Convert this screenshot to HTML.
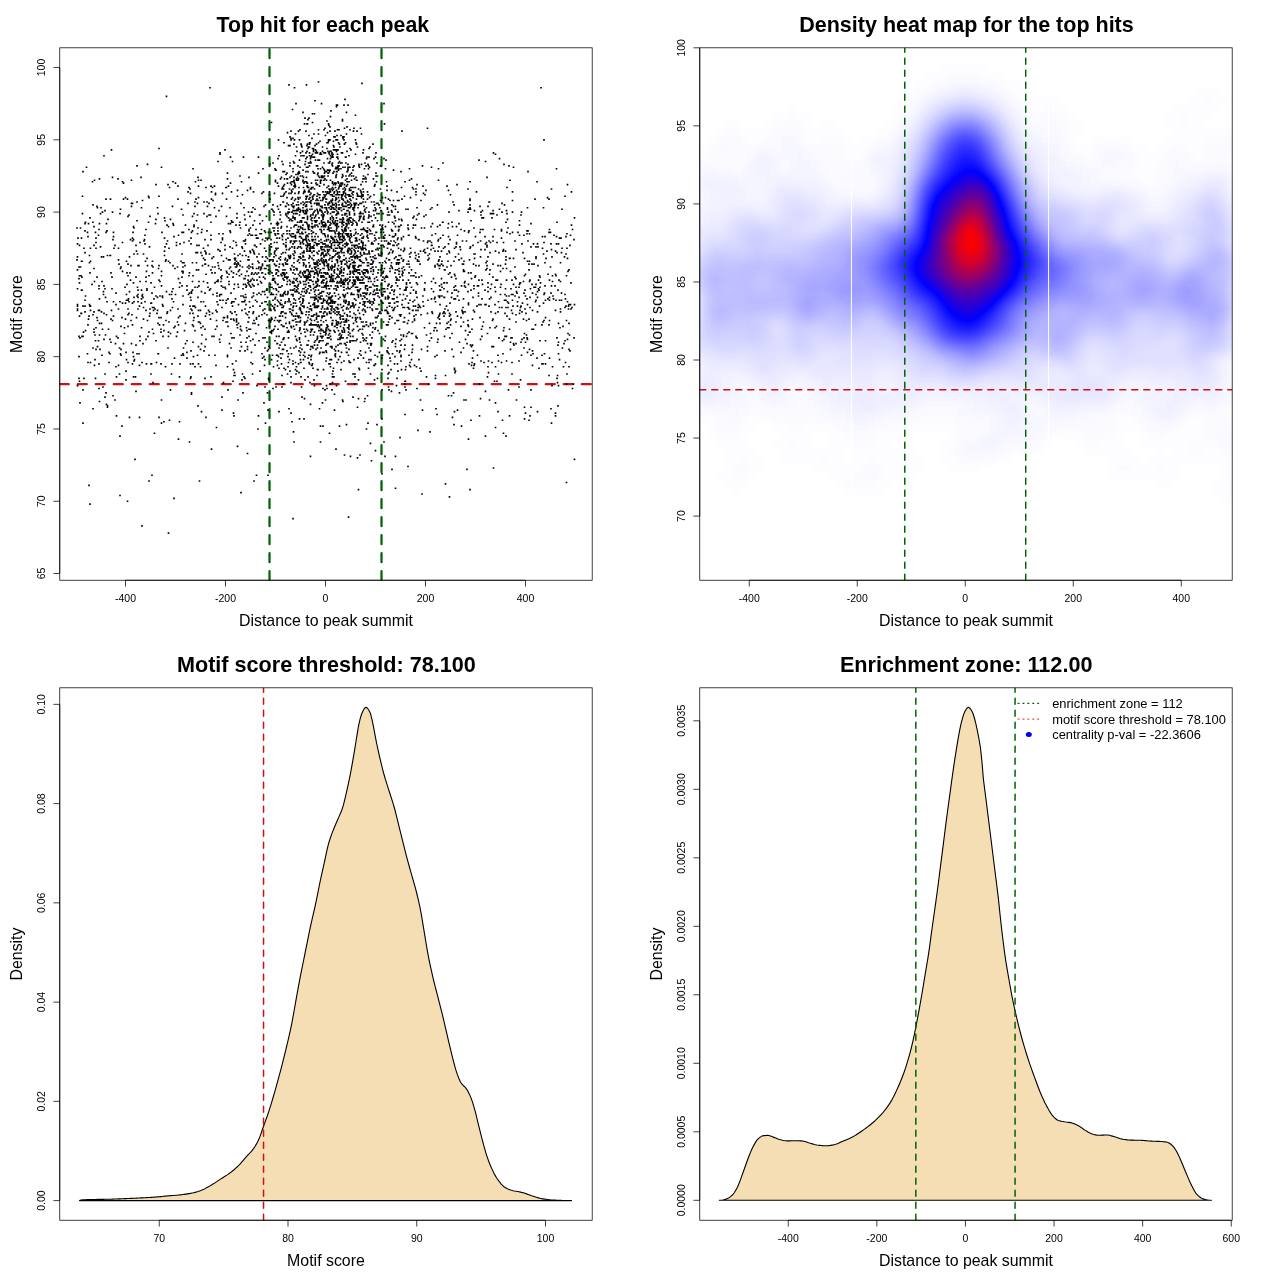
<!DOCTYPE html>
<html lang="en"><head><meta charset="utf-8"><title>Motif enrichment plots</title>
<style>html,body{margin:0;padding:0;background:#fff}svg{display:block}text{font-family:'Liberation Sans', Arial, Helvetica, sans-serif;fill:#000;opacity:.999}</style></head><body>
<svg width="1280" height="1280" viewBox="0 0 1280 1280">
<rect width="1280" height="1280" fill="#fff"/>
<defs>
<clipPath id="c1"><rect x="59.76" y="47.81" width="532.43" height="532.43"/></clipPath>
<clipPath id="c2"><rect x="699.76" y="47.81" width="532.43" height="532.43"/></clipPath>
<clipPath id="c3"><rect x="59.76" y="687.81" width="532.43" height="532.43"/></clipPath>
<clipPath id="c4"><rect x="699.76" y="687.81" width="532.43" height="532.43"/></clipPath>
<filter id="hm" x="-5%" y="-5%" width="110%" height="110%" color-interpolation-filters="sRGB"><feGaussianBlur stdDeviation="3.8"/><feComponentTransfer><feFuncR type="table" tableValues="1 0 1"/><feFuncG type="table" tableValues="1 0 0"/><feFuncB type="table" tableValues="1 1 0"/><feFuncA type="linear" slope="0" intercept="1"/></feComponentTransfer></filter>
</defs>
<g id="panel1">
<text x="322.8" y="31.8" text-anchor="middle" font-weight="bold" font-size="21.3">Top hit for each peak</text>
<text x="325.98" y="626" text-anchor="middle" font-size="15.9">Distance to peak summit</text>
<text transform="translate(21.7 314.02) rotate(-90)" text-anchor="middle" font-size="15.9">Motif score</text>
<g clip-path="url(#c1)">
<path d="M269.5 580.24V47.81" stroke="#006400" stroke-width="2.25" stroke-dasharray="9 9" stroke-linecap="round" fill="none"/>
<path d="M381.5 580.24V47.81" stroke="#006400" stroke-width="2.25" stroke-dasharray="9 9" stroke-linecap="round" fill="none"/>
<path d="M59.76 384.14H592.19" stroke="#cb1212" stroke-width="2.25" stroke-dasharray="9 9" stroke-linecap="round" fill="none"/>
<path d="M264.5 248.24h0M299 187.52h0M377.5 220.77h0M449.5 316.19h0M191 300.29h0M361.5 196.2h0M135 459.31h0M493 210.65h0M183 214.99h0M327.5 272.82h0M325 300.29h0M271 304.62h0M128 308.96h0M239.5 275.71h0M261 267.04h0M271 259.81h0M314.5 113.79h0M315.5 216.44h0M404.5 249.69h0M327.5 132.59h0M308 317.64h0M299.5 330.65h0M369 251.13h0M84 378.36h0M405 387.03h0M275.5 265.59h0M293 272.82h0M326.5 180.29h0M356 248.24h0M249 265.59h0M315 268.48h0M111.5 310.41h0M366.5 428.96h0M429.5 323.42h0M306 236.68h0M193.5 320.53h0M400 288.72h0M256.5 475.22h0M322.5 207.76h0M287.5 332.09h0M404.5 307.52h0M303.5 193.31h0M372.5 267.04h0M328 203.43h0M456 246.8h0M474 228h0M300.5 352.33h0M486 262.7h0M332.5 267.04h0M307.5 196.2h0M406 290.17h0M206 252.58h0M313 368.24h0M477.5 285.83h0M142 295.95h0M329.5 333.54h0M273 210.65h0M535.5 287.28h0M307.5 144.15h0M259 254.03h0M425 252.58h0M362.5 246.8h0M313.5 239.57h0M350 333.54h0M358 277.16h0M505 313.3h0M343 282.94h0M427.5 350.89h0M329 152.83h0M298.5 317.64h0M381.5 241.01h0M220 300.29h0M404.5 196.2h0M346.5 242.46h0M465.5 339.32h0M241 203.43h0M343 167.28h0M423 186.08h0M513.5 258.36h0M348.5 334.98h0M436.5 323.42h0M346 175.96h0M205 259.81h0M468.5 326.31h0M269.5 191.86h0M236.5 245.35h0M510 258.36h0M343.5 287.28h0M331 281.49h0M495.5 313.3h0M283 384.14h0M314.5 194.75h0M324 272.82h0M346.5 261.25h0M530 297.4h0M296.5 225.11h0M238 400.04h0M197.5 287.28h0M267.5 392.81h0M98.5 340.77h0M306 152.83h0M184 242.46h0M306.5 278.6h0M238.5 264.15h0M342 196.2h0M376 293.06h0M271 254.03h0M295.5 238.12h0M187 290.17h0M359.5 265.59h0M297.5 222.22h0M307.5 183.19h0M362 333.54h0M328 173.07h0M371.5 460.76h0M330 225.11h0M288 212.1h0M499 337.88h0M306.5 280.05h0M521.5 212.1h0M292 421.73h0M341 248.24h0M322.5 216.44h0M147.5 265.59h0M366.5 230.89h0M106.5 314.74h0M412.5 321.97h0M112 288.72h0M364.5 326.31h0M532.5 293.06h0M509 165.84h0M303.5 256.92h0M259 293.06h0M293.5 306.07h0M332.5 162.95h0M193 275.71h0M310 142.71h0M292 265.59h0M438.5 265.59h0M206 187.52h0M168.5 226.56h0M242.5 255.47h0M265 278.6h0M363 194.75h0M345.5 281.49h0M281.5 177.4h0M156.5 362.45h0M341 278.6h0M368.5 265.59h0M290 162.95h0M331.5 310.41h0M327.5 213.55h0M313.5 239.57h0M339 232.34h0M365 248.24h0M315.5 149.93h0M283 294.5h0M207.5 282.94h0M326 320.53h0M354 374.02h0M97 317.64h0M94.5 180.29h0M291.5 204.87h0M371 345.1h0M369 252.58h0M354 271.37h0M364 254.03h0M290.5 242.46h0M536 300.29h0M333 157.16h0M284 272.82h0M335.5 248.24h0M312.5 246.8h0M316.5 324.86h0M330.5 366.79h0M343 281.49h0M211 222.22h0M512.5 212.1h0M303 229.45h0M472.5 345.1h0M320.5 181.74h0M388 214.99h0M348.5 194.75h0M205.5 264.15h0M198.5 180.29h0M332.5 376.91h0M243 392.81h0M319.5 408.72h0M393 310.41h0M242 310.41h0M101.5 323.42h0M357.5 258.36h0M566.5 384.14h0M274.5 254.03h0M306.5 329.2h0M336.5 239.57h0M357.5 407.27h0M321 298.84h0M303 170.17h0M354 262.7h0M314 212.1h0M221 242.46h0M333.5 251.13h0M353.5 323.42h0M324 256.92h0M310 382.69h0M369 214.99h0M230.5 157.16h0M363 201.98h0M355 374.02h0M116 293.06h0M313 297.4h0M401 345.1h0M310 248.24h0M260 214.99h0M454 298.84h0M332.5 199.09h0M197.5 214.99h0M299.5 339.32h0M330 222.22h0M361.5 193.31h0M346.5 321.97h0M310 256.92h0M384 246.8h0M309 251.13h0M370.5 350.89h0M330 242.46h0M562 248.24h0M317 209.21h0M204 213.55h0M343.5 295.95h0M289.5 230.89h0M324.5 197.64h0M293 188.97h0M342 330.65h0M480.5 398.6h0M283.5 243.91h0M285.5 317.64h0M294 258.36h0M338 167.28h0M519 287.28h0M393.5 310.41h0M295 274.27h0M96 242.46h0M529.5 349.44h0M182 285.83h0M284 337.88h0M351 242.46h0M332 207.76h0M357.5 287.28h0M137.5 287.28h0M380 262.7h0M300.5 317.64h0M98.5 310.41h0M506.5 295.95h0M314.5 274.27h0M311 356.67h0M326 225.11h0M536 256.92h0M128 300.29h0M187 358.12h0M531 223.67h0M396 339.32h0M234 337.88h0M364.5 339.32h0M288 356.67h0M333.5 184.63h0M90.5 306.07h0M504.5 300.29h0M432 207.76h0M342 249.69h0M549 324.86h0M182 277.16h0M231.5 191.86h0M324 287.28h0M370 233.79h0M445 350.89h0M501.5 230.89h0M471 220.77h0M353 209.21h0M205 239.57h0M511 288.72h0M311.5 365.34h0M353 265.59h0M260 223.67h0M340.5 323.42h0M347 307.52h0M314 262.7h0M395.5 226.56h0M226.5 187.52h0M356 340.77h0M327 324.86h0M324 214.99h0M328 245.35h0M207 230.89h0M336.5 106.56h0M329 170.17h0M354.5 204.87h0M108 219.33h0M381.5 284.38h0M199 245.35h0M332 324.86h0M322 223.67h0M276.5 223.67h0M249 230.89h0M222 275.71h0M407 287.28h0M324 280.05h0M508.5 389.92h0M504.5 204.87h0M152.5 261.25h0M464.5 285.83h0M354 261.25h0M274 230.89h0M253.5 285.83h0M333.5 207.76h0M287.5 178.85h0M455.5 285.83h0M176.5 336.43h0M336.5 223.67h0M328.5 123.91h0M153.5 333.54h0M567 233.79h0M344 209.21h0M325 178.85h0M187 340.77h0M320 352.33h0M314 134.03h0M367.5 343.66h0M269.5 326.31h0M333 256.92h0M281.5 275.71h0M253 225.11h0M332.5 323.42h0M349 181.74h0M360 317.64h0M388.5 222.22h0M394.5 363.9h0M146.5 271.37h0M228 389.92h0M463.5 298.84h0M362.5 298.84h0M480 232.34h0M251.5 274.27h0M295.5 369.68h0M355.5 115.24h0M291.5 190.41h0M303 180.29h0M491 311.85h0M355 284.38h0M209.5 314.74h0M321 340.77h0M382 389.92h0M177.5 267.04h0M140 340.77h0M217 326.31h0M178 199.09h0M239.5 269.93h0M311 324.86h0M337.5 241.01h0M337.5 307.52h0M324 264.15h0M440 304.62h0M306 265.59h0M342.5 248.24h0M316 262.7h0M406.5 284.38h0M226.5 216.44h0M357.5 196.2h0M363 326.31h0M431.5 337.88h0M470.5 345.1h0M344.5 144.15h0M320.5 168.73h0M355.5 314.74h0M328 151.38h0M271.5 319.08h0M309.5 267.04h0M324 268.48h0M376.5 181.74h0M557.5 382.69h0M157.5 297.4h0M295 252.58h0M252.5 363.9h0M327 313.3h0M262 272.82h0M317.5 193.31h0M347 223.67h0M298.5 207.76h0M349 223.67h0M309 233.79h0M502 203.43h0M574 239.57h0M198 228h0M289 300.29h0M360 329.2h0M88.5 223.67h0M300 329.2h0M287 178.85h0M474 254.03h0M457.5 295.95h0M337 171.62h0M314.5 332.09h0M262.5 265.59h0M304.5 352.33h0M321.5 154.27h0M340 256.92h0M237 213.55h0M372 304.62h0M374 214.99h0M360.5 235.23h0M314 245.35h0M504 164.39h0M516 278.6h0M552.5 281.49h0M308 236.68h0M305.5 206.32h0M343 294.5h0M334.5 241.01h0M316.5 319.08h0M118.5 259.81h0M392.5 222.22h0M474 365.34h0M99 229.45h0M299.5 418.84h0M310.5 158.61h0M341 272.82h0M290.5 281.49h0M107 230.89h0M205 264.15h0M321 229.45h0M309 355.22h0M267.5 258.36h0M366.5 259.81h0M258.5 173.07h0M291 382.69h0M524.5 275.71h0M433.5 248.24h0M487 261.25h0M95 359.56h0M336 254.03h0M313 316.19h0M296 321.97h0M416 194.75h0M366.5 321.97h0M206 274.27h0M239.5 225.11h0M300 233.79h0M269.5 259.81h0M345 213.55h0M283.5 272.82h0M350.5 249.69h0M336.5 210.65h0M340 239.57h0M255 245.35h0M571 282.94h0M371.5 259.81h0M441.5 284.38h0M298.5 226.56h0M161.5 285.83h0M302.5 272.82h0M401 225.11h0M212.5 267.04h0M536 294.5h0M408 209.21h0M221.5 285.83h0M131.5 203.43h0M295 217.88h0M306 275.71h0M106 232.34h0M417 388.48h0M234.5 284.38h0M123.5 199.09h0M107.5 255.47h0M360 259.81h0M478 242.46h0M333.5 239.57h0M325.5 255.47h0M341 280.05h0M304.5 324.86h0M203.5 301.73h0M232 301.73h0M357 278.6h0M541 87.77h0M384.5 291.61h0M308 275.71h0M125 287.28h0M276 255.47h0M368.5 165.84h0M304.5 190.41h0M365.5 287.28h0M367.5 307.52h0M292 191.86h0M219 268.48h0M331.5 238.12h0M401 361.01h0M306.5 197.64h0M394 298.84h0M256.5 268.48h0M376 321.97h0M333 280.05h0M230 207.76h0M97.5 207.76h0M182 271.37h0M348.5 222.22h0M326 274.27h0M271.5 287.28h0M317 261.25h0M270 320.53h0M267.5 297.4h0M275 233.79h0M137 220.77h0M285.5 369.68h0M355.5 229.45h0M307.5 210.65h0M245.5 275.71h0M410.5 366.79h0M268 238.12h0M444 311.85h0M307 245.35h0M351.5 287.28h0M345 246.8h0M328 308.96h0M304 271.37h0M274.5 264.15h0M427.5 248.24h0M332.5 320.53h0M375.5 157.16h0M360 303.18h0M459 300.29h0M274 308.96h0M375.5 363.9h0M408.5 280.05h0M292.5 220.77h0M340.5 233.79h0M297 321.97h0M527 337.88h0M444 297.4h0M356 222.22h0M334.5 269.93h0M303.5 177.4h0M456.5 243.91h0M361.5 249.69h0M344 222.22h0M236 225.11h0M363 293.06h0M300.5 308.96h0M304.5 277.16h0M356.5 269.93h0M482 336.43h0M385.5 277.16h0M470.5 246.8h0M372 337.88h0M214 336.43h0M375.5 327.76h0M481 304.62h0M346 157.16h0M516.5 400.04h0M312.5 324.86h0M250.5 329.2h0M238.5 271.37h0M471 420.28h0M328 274.27h0M437 330.65h0M139.5 306.07h0M310.5 216.44h0M321.5 324.86h0M286.5 249.69h0M94.5 281.49h0M272.5 280.05h0M293.5 210.65h0M323 330.65h0M322 177.4h0M310.5 188.97h0M312.5 241.01h0M549 375.46h0M372 242.46h0M304 252.58h0M301.5 220.77h0M223.5 317.64h0M293.5 161.5h0M339.5 191.86h0M185.5 343.66h0M138 297.4h0M170.5 389.92h0M339 207.76h0M405 181.74h0M330 131.14h0M355 251.13h0M189 241.01h0M345 239.57h0M77.5 256.92h0M346 162.95h0M266 251.13h0M360.5 294.5h0M131 265.59h0M279 411.61h0M332 230.89h0M338.5 236.68h0M350 280.05h0M306 201.98h0M408 225.11h0M400 294.5h0M174.5 358.12h0M567.5 339.32h0M327 324.86h0M346 300.29h0M310.5 275.71h0M349 175.96h0M270.5 304.62h0M335.5 187.52h0M419 239.57h0M349 201.98h0M361 282.94h0M254 481h0M330.5 217.88h0M387.5 311.85h0M105.5 334.98h0M323.5 214.99h0M344 238.12h0M529 319.08h0M403 307.52h0M330 170.17h0M499.5 307.52h0M350.5 235.23h0M317 339.32h0M468 212.1h0M467 343.66h0M303.5 265.59h0M276 387.03h0M419 261.25h0M316.5 203.43h0M276.5 355.22h0M365 306.07h0M281.5 222.22h0M275 251.13h0M385.5 298.84h0M349.5 248.24h0M236.5 274.27h0M323 199.09h0M234 301.73h0M278.5 223.67h0M321 246.8h0M363.5 228h0M411.5 287.28h0M344.5 230.89h0M251 235.23h0M461.5 285.83h0M365 398.6h0M311.5 155.72h0M230.5 232.34h0M397 320.53h0M320 229.45h0M282 304.62h0M353 272.82h0M470 200.53h0M321 275.71h0M330.5 303.18h0M410 300.29h0M559.5 359.56h0M89 316.19h0M277.5 306.07h0M343.5 327.76h0M563.5 366.79h0M282.5 272.82h0M271.5 317.64h0M331 228h0M198 177.4h0M330.5 306.07h0M274 256.92h0M314.5 267.04h0M289.5 359.56h0M319.5 340.77h0M304.5 191.86h0M226.5 271.37h0M297 213.55h0M281.5 363.9h0M367 254.03h0M149 197.64h0M319.5 197.64h0M385 456.42h0M498 265.59h0M377 288.72h0M331 223.67h0M390.5 361.01h0M315.5 307.52h0M334 212.1h0M358.5 272.82h0M566.5 275.71h0M363 152.83h0M358.5 297.4h0M405.5 381.25h0M313.5 284.38h0M161 332.09h0M335.5 356.67h0M376 258.36h0M305.5 161.5h0M89.5 255.47h0M383 245.35h0M217 295.95h0M213.5 256.92h0M317 225.11h0M209.5 254.03h0M521 214.99h0M454 261.25h0M383.5 321.97h0M309.5 255.47h0M404.5 269.93h0M304 329.2h0M329.5 249.69h0M296.5 210.65h0M341.5 337.88h0M297.5 261.25h0M383 229.45h0M355 282.94h0M194.5 306.07h0M208 287.28h0M560.5 262.7h0M350 238.12h0M398 259.81h0M311 346.55h0M317.5 210.65h0M323.5 177.4h0M569 349.44h0M293 310.41h0M373 327.76h0M383.5 203.43h0M336 183.19h0M205 378.36h0M273.5 294.5h0M440 323.42h0M358 272.82h0M354.5 178.85h0M366.5 362.45h0M287 327.76h0M316 269.93h0M252.5 264.15h0M323.5 226.56h0M306 277.16h0M403.5 336.43h0M458.5 291.61h0M320 141.26h0M277.5 225.11h0M344.5 343.66h0M379 213.55h0M329 298.84h0M349 219.33h0M323 426.06h0M306 196.2h0M378 330.65h0M276 274.27h0M338.5 242.46h0M334 267.04h0M278 329.2h0M305.5 336.43h0M132.5 303.18h0M299 372.57h0M340 317.64h0M338 339.32h0M252 272.82h0M267 290.17h0M399 255.47h0M340.5 304.62h0M273 388.48h0M169.5 294.5h0M382.5 225.11h0M245 308.96h0M406.5 282.94h0M373.5 225.11h0M140 281.49h0M367.5 191.86h0M351.5 180.29h0M320 298.84h0M240.5 228h0M418 310.41h0M320.5 336.43h0M310 277.16h0M342 252.58h0M306 171.62h0M370 334.98h0M510 233.79h0M278.5 271.37h0M480.5 339.32h0M363.5 149.93h0M383.5 236.68h0M283 339.32h0M317.5 184.63h0M317.5 348h0M379.5 352.33h0M221.5 294.5h0M276 170.17h0M382 389.92h0M357 180.29h0M348.5 251.13h0M330 363.9h0M401.5 258.36h0M339.5 274.27h0M301 258.36h0M301 228h0M349.5 239.57h0M384 103.67h0M372.5 332.09h0M338 212.1h0M334 281.49h0M507.5 219.33h0M426 190.41h0M347 126.8h0M342 307.52h0M539.5 275.71h0M368.5 168.73h0M137 165.84h0M251 287.28h0M393.5 170.17h0M540.5 282.94h0M310.5 287.28h0M106.5 223.67h0M409 272.82h0M323.5 275.71h0M376.5 285.83h0M441.5 278.6h0M330.5 336.43h0M195 366.79h0M347 225.11h0M312 258.36h0M386.5 241.01h0M426 214.99h0M339.5 314.74h0M167 313.3h0M238.5 304.62h0M346 300.29h0M342 223.67h0M296.5 287.28h0M162.5 295.95h0M331 246.8h0M468 324.86h0M269 346.55h0M545 236.68h0M571.5 225.11h0M349 301.73h0M327 246.8h0M323 388.48h0M396 282.94h0M410 256.92h0M448 310.41h0M262.5 291.61h0M313.5 251.13h0M254.5 254.03h0M270 332.09h0M277.5 233.79h0M537 358.12h0M322.5 151.38h0M311.5 320.53h0M462 310.41h0M147.5 320.53h0M427.5 128.25h0M295.5 303.18h0M449.5 252.58h0M337.5 129.7h0M348 164.39h0M126 379.8h0M440 265.59h0M323 252.58h0M350.5 235.23h0M366.5 294.5h0M364 295.95h0M392 469.43h0M282 387.03h0M417.5 261.25h0M354 359.56h0M314.5 320.53h0M301 294.5h0M410 362.45h0M453.5 392.81h0M318.5 175.96h0M221 277.16h0M408.5 320.53h0M323 233.79h0M120 436.18h0M365.5 311.85h0M314.5 157.16h0M313 187.52h0M325 246.8h0M461 352.33h0M314 297.4h0M113 395.7h0M545.5 317.64h0M342.5 400.04h0M385 340.77h0M242 246.8h0M412.5 349.44h0M335 332.09h0M341 186.08h0M353 294.5h0M293 294.5h0M531 355.22h0M424 216.44h0M312 239.57h0M337.5 261.25h0M307 249.69h0M404.5 349.44h0M409.5 308.96h0M326.5 255.47h0M338.5 162.95h0M300.5 210.65h0M115 245.35h0M354 265.59h0M529 420.28h0M345 190.41h0M312.5 363.9h0M296.5 339.32h0M325.5 236.68h0M325 212.1h0M323 217.88h0M475.5 275.71h0M284 326.31h0M301.5 387.03h0M303 201.98h0M333.5 145.6h0M339 311.85h0M292.5 197.64h0M344 282.94h0M338.5 298.84h0M279 267.04h0M294 441.97h0M475 277.16h0M543 321.97h0M527 233.79h0M79 267.04h0M361.5 197.64h0M250.5 187.52h0M275.5 297.4h0M328.5 304.62h0M327.5 170.17h0M236.5 267.04h0M400 350.89h0M135.5 376.91h0M318.5 129.7h0M552 256.92h0M290 371.13h0M435 267.04h0M242.5 267.04h0M233 277.16h0M308.5 162.95h0M305 164.39h0M323 340.77h0M412.5 333.54h0M229 281.49h0M264 206.32h0M114 248.24h0M299.5 229.45h0M352.5 256.92h0M343.5 319.08h0M315 210.65h0M551.5 423.17h0M255.5 235.23h0M199.5 321.97h0M403 272.82h0M302 147.04h0M367.5 262.7h0M317.5 369.68h0M317.5 278.6h0M314.5 242.46h0M285.5 369.68h0M386.5 310.41h0M525.5 413.05h0M398 262.7h0M254 285.83h0M215 267.04h0M335.5 301.73h0M522 243.91h0M347.5 327.76h0M340 184.63h0M243.5 157.16h0M120.5 268.48h0M272 272.82h0M399 200.53h0M389 303.18h0M100.5 213.55h0M314.5 303.18h0M518 232.34h0M319 294.5h0M344 252.58h0M240 175.96h0M260 371.13h0M349.5 213.55h0M82 261.25h0M488 287.28h0M322 291.61h0M295.5 362.45h0M334 308.96h0M516 249.69h0M100 349.44h0M330.5 241.01h0M104 155.72h0M327 142.71h0M309 190.41h0M337.5 213.55h0M317.5 326.31h0M336.5 151.38h0M321 320.53h0M369.5 197.64h0M353 194.75h0M391 249.69h0M451 265.59h0M166 320.53h0M367.5 265.59h0M450 303.18h0M363.5 340.77h0M206 339.32h0M354.5 214.99h0M112.5 177.4h0M505 336.43h0M346.5 424.62h0M274 307.52h0M317.5 337.88h0M255 323.42h0M321 255.47h0M382.5 280.05h0M326 278.6h0M492.5 320.53h0M456.5 242.46h0M373.5 303.18h0M261.5 282.94h0M127 272.82h0M168 184.63h0M465 311.85h0M376.5 232.34h0M289 298.84h0M333.5 188.97h0M354 284.38h0M279 267.04h0M337.5 194.75h0M462.5 241.01h0M204 350.89h0M511 337.88h0M350 129.7h0M191.5 394.26h0M255.5 300.29h0M327.5 158.61h0M502.5 420.28h0M338.5 330.65h0M159 317.64h0M498 355.22h0M468.5 272.82h0M323 254.03h0M320 297.4h0M427.5 346.55h0M300 212.1h0M293.5 213.55h0M234.5 258.36h0M163 336.43h0M90.5 261.25h0M363 248.24h0M308 278.6h0M356.5 199.09h0M249 284.38h0M409.5 267.04h0M143 343.66h0M290 258.36h0M323 222.22h0M327.5 229.45h0M299.5 308.96h0M330 126.8h0M512.5 232.34h0M479 280.05h0M529.5 281.49h0M311 219.33h0M121 326.31h0M445 246.8h0M383.5 232.34h0M310 265.59h0M351 196.2h0M340 272.82h0M255.5 272.82h0M151.5 303.18h0M280.5 178.85h0M252 297.4h0M367 236.68h0M297.5 281.49h0M299 171.62h0M380.5 165.84h0M106 392.81h0M309 118.13h0M415 252.58h0M519 361.01h0M318 268.48h0M557.5 375.46h0M373 261.25h0M366.5 324.86h0M346.5 288.72h0M369.5 300.29h0M337.5 252.58h0M271.5 209.21h0M334 171.62h0M407 295.95h0M509.5 258.36h0M344.5 454.98h0M195 287.28h0M313 157.16h0M193 342.21h0M547.5 197.64h0M323 243.91h0M285.5 301.73h0M280 219.33h0M364.5 303.18h0M343 188.97h0M435 356.67h0M220 342.21h0M194 225.11h0M342 275.71h0M569.5 334.98h0M202.5 265.59h0M367.5 301.73h0M385 261.25h0M281.5 226.56h0M311 200.53h0M279 368.24h0M321.5 254.03h0M330 139.81h0M360 274.27h0M443 222.22h0M532.5 350.89h0M360 196.2h0M294 255.47h0M237.5 190.41h0M333 217.88h0M382.5 197.64h0M359.5 369.68h0M313 232.34h0M337.5 321.97h0M336 307.52h0M283 295.95h0M300.5 254.03h0M331.5 248.24h0M368 174.51h0M320.5 426.06h0M569 323.42h0M471 290.17h0M320 210.65h0M408.5 261.25h0M515 267.04h0M333.5 223.67h0M371.5 243.91h0M390 303.18h0M158.5 353.78h0M489.5 274.27h0M298.5 193.31h0M201 252.58h0M455 372.57h0M353 277.16h0M337.5 285.83h0M303 255.47h0M416 255.47h0M310 162.95h0M544 294.5h0M260.5 281.49h0M403.5 251.13h0M344 191.86h0M249.5 233.79h0M395 272.82h0M388.5 212.1h0M277.5 269.93h0M330.5 155.72h0M402 304.62h0M565 340.77h0M329 207.76h0M381.5 301.73h0M332.5 203.43h0M310.5 251.13h0M354 267.04h0M139 353.78h0M319 217.88h0M132.5 363.9h0M312.5 154.27h0M332 194.75h0M323.5 300.29h0M146 339.32h0M327.5 191.86h0M368 271.37h0M319.5 340.77h0M344 268.48h0M522 311.85h0M249 281.49h0M536 246.8h0M537 181.74h0M349.5 214.99h0M326 330.65h0M319.5 271.37h0M486 269.93h0M298.5 131.14h0M110 353.78h0M403.5 267.04h0M347 181.74h0M248 282.94h0M571 308.96h0M326 259.81h0M365 297.4h0M322.5 175.96h0M311.5 355.22h0M143.5 319.08h0M181.5 355.22h0M435.5 233.79h0M249.5 301.73h0M507 187.52h0M314.5 188.97h0M329.5 171.62h0M264.5 308.96h0M168.5 533.05h0M474 285.83h0M295.5 155.72h0M148.5 222.22h0M359 368.24h0M354 235.23h0M324 180.29h0M325.5 152.83h0M321.5 232.34h0M336.5 199.09h0M328 204.87h0M318.5 290.17h0M310.5 349.44h0M527 230.89h0M524 337.88h0M328.5 285.83h0M303 112.35h0M439 259.81h0M500.5 265.59h0M366 165.84h0M570.5 304.62h0M318.5 81.99h0M173 181.74h0M210.5 288.72h0M345 295.95h0M429.5 340.77h0M201 180.29h0M388 324.86h0M468.5 439.07h0M330 190.41h0M197.5 252.58h0M384.5 241.01h0M363.5 229.45h0M242 379.8h0M322.5 352.33h0M371.5 268.48h0M287.5 374.02h0M252.5 267.04h0M273.5 228h0M122.5 242.46h0M270 249.69h0M291 376.91h0M329.5 313.3h0M307.5 187.52h0M156 340.77h0M218 262.7h0M242.5 374.02h0M329.5 170.17h0M300 327.76h0M312.5 281.49h0M332 261.25h0M376 232.34h0M401 171.62h0M274.5 228h0M201.5 291.61h0M311 359.56h0M302 233.79h0M351 149.93h0M555.5 415.94h0M348 220.77h0M193.5 326.31h0M363.5 274.27h0M119 264.15h0M503 251.13h0M306 131.14h0M368 238.12h0M317.5 284.38h0M302 232.34h0M305 272.82h0M385 281.49h0M294.5 288.72h0M175 268.48h0M348 304.62h0M283 311.85h0M231 333.54h0M356 277.16h0M257 301.73h0M343.5 206.32h0M342.5 203.43h0M364.5 293.06h0M329.5 249.69h0M328.5 186.08h0M336.5 290.17h0M303 259.81h0M79.5 275.71h0M260.5 243.91h0M374 158.61h0M279 336.43h0M320 154.27h0M144 241.01h0M414 216.44h0M310.5 246.8h0M237.5 196.2h0M322 295.95h0M316 233.79h0M293 307.52h0M348.5 267.04h0M78 238.12h0M254 320.53h0M227.5 366.79h0M250 216.44h0M492 213.55h0M132.5 241.01h0M444.5 297.4h0M236 242.46h0M183.5 355.22h0M352 242.46h0M355.5 256.92h0M289 249.69h0M299.5 275.71h0M444 316.19h0M367.5 230.89h0M212 272.82h0M321.5 226.56h0M234 288.72h0M280.5 353.78h0M165.5 261.25h0M460.5 249.69h0M364 178.85h0M512.5 191.86h0M341 369.68h0M292.5 220.77h0M525 308.96h0M556.5 236.68h0M540 287.28h0M519 297.4h0M338 269.93h0M407 264.15h0M348.5 236.68h0M360 246.8h0M342.5 239.57h0M326 285.83h0M328.5 239.57h0M452 293.06h0M250 251.13h0M354 274.27h0M267.5 258.36h0M437 414.5h0M349 268.48h0M149.5 316.19h0M367 285.83h0M498.5 361.01h0M537.5 243.91h0M311.5 188.97h0M82 290.17h0M524 348h0M348 249.69h0M502.5 340.77h0M387 190.41h0M521 342.21h0M456.5 290.17h0M261.5 268.48h0M516 343.66h0M330 297.4h0M423.5 306.07h0M183.5 232.34h0M343 136.92h0M77.5 288.72h0M207 216.44h0M350.5 336.43h0M164.5 255.47h0M433.5 278.6h0M334.5 303.18h0M120.5 209.21h0M338.5 226.56h0M299.5 337.88h0M173.5 301.73h0M347.5 210.65h0M329 125.36h0M347.5 251.13h0M317 196.2h0M544 139.81h0M367.5 228h0M331.5 245.35h0M279.5 316.19h0M474 288.72h0M84 248.24h0M302.5 175.96h0M295.5 300.29h0M388.5 284.38h0M558 405.82h0M475.5 236.68h0M81 275.71h0M280.5 214.99h0M150 313.3h0M300.5 242.46h0M515 241.01h0M227 272.82h0M253 323.42h0M352.5 282.94h0M315 226.56h0M289.5 323.42h0M544.5 353.78h0M548 274.27h0M253 313.3h0M342 214.99h0M303.5 210.65h0M359.5 167.28h0M273 204.87h0M397 245.35h0M535.5 324.86h0M297 209.21h0M146 229.45h0M346 226.56h0M98.5 235.23h0M322 207.76h0M413 301.73h0M423.5 241.01h0M327 265.59h0M511.5 294.5h0M335.5 295.95h0M325.5 332.09h0M445 269.93h0M367.5 288.72h0M360.5 280.05h0M310.5 201.98h0M81.5 238.12h0M401.5 239.57h0M355.5 139.81h0M392 317.64h0M334.5 267.04h0M365.5 352.33h0M326 284.38h0M368 164.39h0M409 355.22h0M278 223.67h0M198.5 197.64h0M354 267.04h0M274 214.99h0M376.5 277.16h0M433.5 291.61h0M293.5 267.04h0M248.5 321.97h0M141.5 298.84h0M402.5 300.29h0M361.5 134.03h0M345.5 294.5h0M309 314.74h0M348 170.17h0M276.5 336.43h0M333 154.27h0M345 201.98h0M381 245.35h0M297 278.6h0M345 321.97h0M241.5 346.55h0M346.5 348h0M295 291.61h0M199 281.49h0M319.5 177.4h0M316 262.7h0M337.5 129.7h0M192.5 230.89h0M401 334.98h0M273 259.81h0M241.5 330.65h0M153 382.69h0M306.5 167.28h0M513 294.5h0M305 323.42h0M168 348h0M316.5 243.91h0M399 274.27h0M258 428.96h0M305.5 232.34h0M289.5 308.96h0M333.5 219.33h0M344 269.93h0M303.5 262.7h0M310 274.27h0M303 239.57h0M357 131.14h0M286 214.99h0M251 362.45h0M266 268.48h0M232 313.3h0M270 348h0M279 321.97h0M192 310.41h0M366.5 158.61h0M311.5 226.56h0M338.5 201.98h0M275.5 235.23h0M198 297.4h0M287 284.38h0M366.5 277.16h0M265 301.73h0M359 280.05h0M262.5 220.77h0M338.5 359.56h0M77.5 304.62h0M350.5 271.37h0M308.5 239.57h0M352 245.35h0M346 230.89h0M562.5 348h0M496.5 326.31h0M275 298.84h0M363 304.62h0M415.5 225.11h0M312.5 122.47h0M277 238.12h0M389 389.92h0M396.5 301.73h0M82.5 213.55h0M336 177.4h0M369.5 254.03h0M285 291.61h0M147 290.17h0M256.5 246.8h0M367.5 199.09h0M288 293.06h0M336.5 323.42h0M395.5 488.23h0M116.5 336.43h0M298 201.98h0M232.5 248.24h0M338 129.7h0M301 362.45h0M304 288.72h0M394.5 216.44h0M330 242.46h0M293 363.9h0M321.5 282.94h0M354.5 246.8h0M379 238.12h0M414 275.71h0M200.5 323.42h0M337.5 154.27h0M300 272.82h0M343.5 232.34h0M285.5 262.7h0M193.5 356.67h0M330 313.3h0M552.5 366.79h0M338.5 323.42h0M131 320.53h0M523.5 281.49h0M473 297.4h0M539 290.17h0M294.5 210.65h0M524.5 407.27h0M332 348h0M363 213.55h0M259 262.7h0M329.5 277.16h0M387 307.52h0M145.5 261.25h0M293.5 316.19h0M343.5 200.53h0M320 209.21h0M491 297.4h0M343 401.49h0M476.5 191.86h0M498.5 301.73h0M533.5 243.91h0M339.5 200.53h0M299.5 214.99h0M326 199.09h0M354.5 269.93h0M339 204.87h0M399 274.27h0M282 307.52h0M402.5 271.37h0M351 294.5h0M335 222.22h0M354.5 207.76h0M406.5 336.43h0M161 329.2h0M317.5 285.83h0M111 272.82h0M319.5 160.05h0M323.5 168.73h0M300.5 152.83h0M297.5 229.45h0M326.5 239.57h0M232.5 306.07h0M238.5 287.28h0M358.5 489.67h0M470 207.76h0M513 306.07h0M390 358.12h0M190.5 297.4h0M160 295.95h0M329.5 230.89h0M350.5 456.42h0M337 314.74h0M169.5 187.52h0M489 201.98h0M352 248.24h0M389.5 259.81h0M323.5 316.19h0M269.5 194.75h0M342.5 223.67h0M138 265.59h0M326.5 330.65h0M322 317.64h0M516 287.28h0M171.5 294.5h0M200.5 366.79h0M102 281.49h0M333 275.71h0M309 303.18h0M331 285.83h0M271.5 294.5h0M357 287.28h0M327.5 249.69h0M323 268.48h0M356.5 321.97h0M369 216.44h0M173 265.59h0M331.5 274.27h0M191.5 232.34h0M315 225.11h0M376.5 203.43h0M306.5 212.1h0M324.5 241.01h0M230 230.89h0M409 332.09h0M290.5 235.23h0M77.5 308.96h0M321.5 308.96h0M314.5 342.21h0M536 284.38h0M93 408.72h0M551 243.91h0M382 226.56h0M372 220.77h0M283.5 339.32h0M176.5 245.35h0M393.5 206.32h0M519 387.03h0M558.5 323.42h0M418 307.52h0M454.5 274.27h0M319.5 327.76h0M364 262.7h0M367 293.06h0M373 243.91h0M473.5 264.15h0M343.5 238.12h0M463 311.85h0M293.5 233.79h0M494.5 229.45h0M287 230.89h0M90.5 362.45h0M298 165.84h0M370.5 256.92h0M315 306.07h0M97 277.16h0M332 265.59h0M335 265.59h0M170.5 310.41h0M316.5 307.52h0M173 288.72h0M340 219.33h0M301 277.16h0M428.5 384.14h0M455 275.71h0M271 320.53h0M495.5 427.51h0M307 145.6h0M278.5 301.73h0M337.5 262.7h0M315.5 290.17h0M488.5 372.57h0M283.5 186.08h0M308 171.62h0M450.5 324.86h0M284 280.05h0M280.5 287.28h0M344 329.2h0M337 242.46h0M363.5 219.33h0M325.5 223.67h0M282.5 239.57h0M405 414.5h0M327 314.74h0M267 265.59h0M360.5 235.23h0M388 285.83h0M343.5 275.71h0M306.5 204.87h0M322.5 402.93h0M506 307.52h0M394.5 303.18h0M304.5 123.91h0M247.5 314.74h0M426.5 376.91h0M218 280.05h0M191 243.91h0M168.5 332.09h0M265.5 204.87h0M323.5 321.97h0M443 235.23h0M352.5 330.65h0M337.5 193.31h0M268.5 320.53h0M329 229.45h0M480 206.32h0M138 308.96h0M399.5 352.33h0M375 255.47h0M353.5 268.48h0M356.5 271.37h0M347.5 219.33h0M90 272.82h0M318 268.48h0M320.5 269.93h0M229 274.27h0M520 282.94h0M323 330.65h0M323.5 301.73h0M314.5 307.52h0M200.5 310.41h0M416.5 219.33h0M123.5 343.66h0M468 320.53h0M315 264.15h0M374 298.84h0M85 311.85h0M272 287.28h0M506.5 268.48h0M222.5 239.57h0M338 149.93h0M331.5 201.98h0M341 278.6h0M411 275.71h0M130.5 280.05h0M432.5 313.3h0M324 162.95h0M142 362.45h0M414.5 320.53h0M342 242.46h0M234.5 254.03h0M280.5 304.62h0M347.5 171.62h0M300 281.49h0M429.5 254.03h0M251.5 352.33h0M349.5 190.41h0M313 348h0M353.5 284.38h0M325.5 191.86h0M345 167.28h0M447 186.08h0M101 207.76h0M104 313.3h0M391.5 391.37h0M421.5 275.71h0M94.5 365.34h0M307 157.16h0M320.5 441.97h0M304 295.95h0M336 320.53h0M265.5 423.17h0M355 268.48h0M371 359.56h0M412.5 187.52h0M375 238.12h0M431.5 288.72h0M325 204.87h0M129 214.99h0M326.5 295.95h0M329.5 203.43h0M296 174.51h0M341.5 249.69h0M358 291.61h0M214.5 186.08h0M385.5 168.73h0M191.5 291.61h0M477.5 355.22h0M336 197.64h0M486.5 242.46h0M439.5 314.74h0M355 258.36h0M228 298.84h0M227.5 178.85h0M321 293.06h0M318 321.97h0M358.5 379.8h0M330 293.06h0M291 131.14h0M438 317.64h0M326 274.27h0M333.5 149.93h0M211.5 449.19h0M318 301.73h0M482.5 210.65h0M335.5 350.89h0M363.5 175.96h0M292.5 206.32h0M202 334.98h0M321.5 254.03h0M318.5 259.81h0M335 236.68h0M559.5 300.29h0M327.5 285.83h0M167.5 311.85h0M107 301.73h0M128 326.31h0M156 184.63h0M397 191.86h0M357.5 290.17h0M328 236.68h0M381 269.93h0M338 304.62h0M307 291.61h0M312.5 154.27h0M306 293.06h0M480.5 256.92h0M349.5 167.28h0M396.5 301.73h0M490.5 213.55h0M131.5 343.66h0M369.5 229.45h0M338.5 213.55h0M354.5 206.32h0M296.5 147.04h0M372 233.79h0M315 145.6h0M267.5 304.62h0M479 265.59h0M249 317.64h0M102 355.22h0M330 277.16h0M468.5 232.34h0M290 219.33h0M530 415.94h0M339 168.73h0M77.5 310.41h0M145 301.73h0M380 207.76h0M329 188.97h0M278 228h0M287.5 294.5h0M555.5 274.27h0M294 206.32h0M293.5 290.17h0M313 213.55h0M364 219.33h0M341 272.82h0M212.5 187.52h0M335.5 285.83h0M173.5 225.11h0M460 246.8h0M188.5 294.5h0M532 264.15h0M557 252.58h0M326.5 262.7h0M280 345.1h0M360.5 128.25h0M495.5 154.27h0M558.5 385.58h0M322.5 167.28h0M493 264.15h0M354 340.77h0M381 210.65h0M456 278.6h0M162 232.34h0M499.5 209.21h0M347 262.7h0M119.5 374.02h0M278.5 209.21h0M340.5 236.68h0M332.5 183.19h0M205.5 306.07h0M293 217.88h0M349 196.2h0M138 290.17h0M316 281.49h0M318.5 294.5h0M395.5 456.42h0M399.5 314.74h0M220 294.5h0M395.5 346.55h0M305 222.22h0M274.5 278.6h0M386.5 258.36h0M141.5 303.18h0M367.5 290.17h0M336.5 225.11h0M364.5 272.82h0M458.5 254.03h0M397 280.05h0M344.5 259.81h0M303.5 187.52h0M392 307.52h0M359 265.59h0M363 238.12h0M87.5 353.78h0M367 157.16h0M348.5 268.48h0M380 311.85h0M337.5 223.67h0M105 210.65h0M398.5 248.24h0M296.5 180.29h0M359.5 353.78h0M335 264.15h0M194 226.56h0M317.5 180.29h0M225 245.35h0M339 252.58h0M551.5 285.83h0M248.5 256.92h0M305 259.81h0M295 184.63h0M468.5 209.21h0M301 228h0M321.5 177.4h0M198.5 363.9h0M452 222.22h0M152.5 272.82h0M308 225.11h0M344 301.73h0M316.5 272.82h0M330.5 209.21h0M265 387.03h0M508.5 303.18h0M341.5 269.93h0M306.5 201.98h0M193 306.07h0M298.5 209.21h0M350 311.85h0M327.5 300.29h0M280.5 259.81h0M345 243.91h0M295 193.31h0M222.5 193.31h0M311.5 310.41h0M325 226.56h0M307.5 246.8h0M377.5 285.83h0M402 220.77h0M308.5 187.52h0M353.5 271.37h0M294 180.29h0M104 339.32h0M312.5 329.2h0M240 222.22h0M414.5 300.29h0M357 255.47h0M318.5 268.48h0M363 334.98h0M352 225.11h0M421.5 228h0M339 334.98h0M377.5 308.96h0M342.5 214.99h0M275.5 181.74h0M148.5 196.2h0M487 268.48h0M334 288.72h0M248.5 275.71h0M228 326.31h0M297 268.48h0M363.5 314.74h0M358.5 330.65h0M187 285.83h0M277.5 365.34h0M378 272.82h0M403.5 236.68h0M300.5 243.91h0M308.5 147.04h0M330.5 191.86h0M271.5 246.8h0M311.5 187.52h0M189 275.71h0M311 214.99h0M125.5 303.18h0M320 264.15h0M373 144.15h0M254 252.58h0M315.5 267.04h0M336.5 217.88h0M367 298.84h0M341 207.76h0M201.5 411.61h0M381 313.3h0M293.5 326.31h0M309.5 308.96h0M431.5 167.28h0M495.5 402.93h0M507.5 301.73h0M324 256.92h0M367.5 235.23h0M332.5 220.77h0M309.5 285.83h0M180 316.19h0M326 201.98h0M459.5 342.21h0M409.5 365.34h0M401 314.74h0M569 269.93h0M337 168.73h0M261.5 229.45h0M300.5 258.36h0M443 265.59h0M331 236.68h0M306.5 248.24h0M381.5 294.5h0M388 352.33h0M234 320.53h0M401.5 219.33h0M294.5 246.8h0M209 214.99h0M268.5 378.36h0M278.5 186.08h0M282 285.83h0M291.5 175.96h0M360.5 254.03h0M340.5 261.25h0M321.5 210.65h0M278 248.24h0M245.5 239.57h0M469.5 332.09h0M389.5 252.58h0M266.5 290.17h0M330 359.56h0M232 337.88h0M366.5 271.37h0M172.5 307.52h0M299.5 222.22h0M510.5 342.21h0M368 423.17h0M337.5 105.12h0M394 298.84h0M372.5 267.04h0M343 319.08h0M310.5 319.08h0M339 282.94h0M492 217.88h0M573.5 384.14h0M351 206.32h0M300 129.7h0M397.5 259.81h0M357.5 290.17h0M190 313.3h0M281.5 324.86h0M183 295.95h0M310 201.98h0M149 481h0M312 217.88h0M290.5 241.01h0M498 411.61h0M309 362.45h0M77 228h0M528 241.01h0M431.5 298.84h0M295.5 199.09h0M346.5 319.08h0M273 278.6h0M277 343.66h0M347 245.35h0M137 353.78h0M368.5 326.31h0M321.5 222.22h0M382 268.48h0M340.5 242.46h0M399 229.45h0M136.5 251.13h0M363 321.97h0M256.5 235.23h0M327 343.66h0M163 306.07h0M322.5 275.71h0M201.5 343.66h0M205 346.55h0M319 243.91h0M508 228h0M505.5 288.72h0M238 284.38h0M256.5 319.08h0M487 265.59h0M221.5 255.47h0M333 173.07h0M79.5 381.25h0M290.5 183.19h0M339 129.7h0M561.5 293.06h0M365.5 230.89h0M335 209.21h0M293 243.91h0M353 303.18h0M481 249.69h0M330.5 194.75h0M312.5 346.55h0M371 271.37h0M310.5 404.38h0M209 203.43h0M291 219.33h0M191 376.91h0M328.5 226.56h0M294 236.68h0M393 340.77h0M287.5 264.15h0M561 238.12h0M353.5 294.5h0M230.5 267.04h0M334 147.04h0M321 246.8h0M503 268.48h0M151.5 363.9h0M360.5 342.21h0M283.5 201.98h0M133.5 226.56h0M306.5 206.32h0M419 256.92h0M351.5 256.92h0M409 264.15h0M80.5 228h0M553 295.95h0M312 268.48h0M363 272.82h0M336.5 242.46h0M331 317.64h0M161.5 400.04h0M335.5 353.78h0M357.5 326.31h0M320.5 200.53h0M335 232.34h0M185.5 225.11h0M161.5 275.71h0M300 348h0M268.5 272.82h0M336.5 199.09h0M358 267.04h0M542.5 248.24h0M297 287.28h0M326 333.54h0M310.5 248.24h0M268.5 269.93h0M478.5 293.06h0M337.5 308.96h0M394 236.68h0M311 297.4h0M351 256.92h0M376 308.96h0M337 225.11h0M314.5 287.28h0M340 271.37h0M336 175.96h0M367 232.34h0M273 228h0M205 293.06h0M296.5 204.87h0M365.5 285.83h0M346.5 134.03h0M416 188.97h0M286 242.46h0M349 207.76h0M273 261.25h0M362 229.45h0M315.5 340.77h0M287.5 132.59h0M336 214.99h0M99.5 334.98h0M301.5 311.85h0M333.5 256.92h0M448.5 223.67h0M271.5 333.54h0M311 157.16h0M517 293.06h0M330.5 116.68h0M323.5 225.11h0M283 269.93h0M558 290.17h0M397 350.89h0M291.5 353.78h0M361 248.24h0M328 220.77h0M375 184.63h0M273.5 288.72h0M528 171.62h0M364 301.73h0M353 170.17h0M510 180.29h0M310.5 332.09h0M270 199.09h0M389.5 235.23h0M351 235.23h0M298.5 204.87h0M324 262.7h0M315 267.04h0M326.5 288.72h0M125.5 197.64h0M294 186.08h0M311.5 330.65h0M300.5 220.77h0M446.5 306.07h0M315.5 324.86h0M344 321.97h0M303 256.92h0M314.5 304.62h0M290 311.85h0M268.5 349.44h0M280.5 295.95h0M337.5 220.77h0M198 405.82h0M568 271.37h0M348 252.58h0M105 374.02h0M288 301.73h0M335.5 184.63h0M342.5 119.58h0M207 201.98h0M96 327.76h0M233 222.22h0M381 275.71h0M237.5 327.76h0M399 271.37h0M290 177.4h0M338 194.75h0M298.5 284.38h0M139.5 365.34h0M198.5 186.08h0M344 136.92h0M447 267.04h0M457.5 316.19h0M265 261.25h0M415.5 236.68h0M510.5 271.37h0M384 291.61h0M146 310.41h0M363.5 301.73h0M171.5 374.02h0M155 308.96h0M232.5 161.5h0M189.5 441.97h0M528 230.89h0M375.5 217.88h0M416.5 282.94h0M378.5 254.03h0M259 316.19h0M306.5 241.01h0M311.5 233.79h0M482.5 229.45h0M463.5 269.93h0M347 151.38h0M300 197.64h0M280.5 256.92h0M222.5 238.12h0M389.5 306.07h0M300 167.28h0M338 245.35h0M345.5 188.97h0M345.5 303.18h0M333.5 141.26h0M97.5 346.55h0M398.5 264.15h0M255 345.1h0M311 323.42h0M232 222.22h0M180 363.9h0M295.5 285.83h0M370.5 323.42h0M195 201.98h0M377.5 356.67h0M394 294.5h0M294.5 200.53h0M355.5 238.12h0M374.5 235.23h0M325 128.25h0M264 402.93h0M490.5 242.46h0M313 226.56h0M385.5 226.56h0M268.5 232.34h0M293 361.01h0M197.5 355.22h0M314.5 220.77h0M351.5 251.13h0M195.5 307.52h0M400 437.63h0M235 262.7h0M126 352.33h0M399.5 226.56h0M284.5 293.06h0M354.5 213.55h0M326 350.89h0M229.5 268.48h0M349 349.44h0M330.5 219.33h0M459 259.81h0M264.5 313.3h0M309.5 155.72h0M164.5 238.12h0M383 294.5h0M142.5 200.53h0M104 285.83h0M348 168.73h0M373 301.73h0M291 138.37h0M416.5 366.79h0M483 229.45h0M543.5 303.18h0M496 280.05h0M329 246.8h0M116.5 376.91h0M347.5 316.19h0M369 348h0M345.5 228h0M280 316.19h0M340.5 268.48h0M388 295.95h0M316.5 313.3h0M283 171.62h0M328 267.04h0M271 243.91h0M457.5 235.23h0M474.5 210.65h0M250 307.52h0M326.5 358.12h0M315 272.82h0M141.5 327.76h0M436 408.72h0M298.5 178.85h0M309.5 248.24h0M465 281.49h0M450 337.88h0M353 223.67h0M196.5 262.7h0M424.5 327.76h0M328.5 141.26h0M273 162.95h0M324.5 175.96h0M387.5 209.21h0M505.5 264.15h0M223 300.29h0M308 243.91h0M379.5 333.54h0M276.5 249.69h0M172 363.9h0M161.5 423.17h0M313 232.34h0M334.5 293.06h0M566 236.68h0M323 219.33h0M311.5 206.32h0M218.5 249.69h0M319 203.43h0M277 242.46h0M328 175.96h0M282.5 187.52h0M374.5 379.8h0M407.5 307.52h0M127 284.38h0M365 310.41h0M275 326.31h0M358.5 196.2h0M115 400.04h0M159.5 324.86h0M334.5 223.67h0M341 316.19h0M333.5 308.96h0M317.5 152.83h0M432.5 223.67h0M332 275.71h0M417 337.88h0M565 307.52h0M345.5 142.71h0M266.5 216.44h0M337 362.45h0M287 233.79h0M338 287.28h0M507 232.34h0M326.5 301.73h0M340 339.32h0M457.5 410.16h0M332 301.73h0M127.5 199.09h0M360.5 190.41h0M279.5 238.12h0M373 226.56h0M236.5 321.97h0M537.5 291.61h0M352 187.52h0M344 136.92h0M515 277.16h0M395.5 220.77h0M328.5 173.07h0M348 105.12h0M334 301.73h0M348 243.91h0M245.5 284.38h0M262.5 272.82h0M448.5 274.27h0M275 304.62h0M537.5 411.61h0M324.5 222.22h0M393 236.68h0M303.5 204.87h0M149 332.09h0M338.5 313.3h0M418.5 254.03h0M336.5 171.62h0M450 272.82h0M223 320.53h0M364 254.03h0M386 160.05h0M341.5 197.64h0M344.5 187.52h0M322.5 281.49h0M143.5 307.52h0M281 196.2h0M351 217.88h0M303 201.98h0M290 284.38h0M280 303.18h0M101.5 311.85h0M283 196.2h0M284.5 178.85h0M329 288.72h0M565 196.2h0M250 285.83h0M318 275.71h0M346 258.36h0M282.5 316.19h0M395 307.52h0M359 307.52h0M394 308.96h0M292 265.59h0M421.5 349.44h0M330.5 219.33h0M490 327.76h0M128 275.71h0M254.5 245.35h0M212 336.43h0M293.5 281.49h0M279 258.36h0M438.5 261.25h0M250.5 188.97h0M288.5 217.88h0M347 342.21h0M543.5 207.76h0M403 261.25h0M341 239.57h0M288.5 330.65h0M471 272.82h0M307.5 235.23h0M259.5 214.99h0M323 213.55h0M357.5 317.64h0M417 207.76h0M394.5 258.36h0M319 241.01h0M307.5 201.98h0M488 282.94h0M296.5 178.85h0M327 193.31h0M361 213.55h0M99 285.83h0M345.5 264.15h0M348.5 327.76h0M319.5 223.67h0M351 190.41h0M321 330.65h0M309 226.56h0M342.5 236.68h0M257 385.58h0M320.5 180.29h0M353 271.37h0M83 306.07h0M191.5 392.81h0M359.5 219.33h0M505 294.5h0M208.5 265.59h0M248 321.97h0M205 251.13h0M79.5 282.94h0M337 213.55h0M233.5 241.01h0M278 230.89h0M335 310.41h0M264.5 365.34h0M291 193.31h0M308 171.62h0M310 245.35h0M363 178.85h0M261.5 233.79h0M523 252.58h0M309.5 280.05h0M209.5 290.17h0M365.5 269.93h0M319 316.19h0M294 278.6h0M330.5 267.04h0M136 391.37h0M343 284.38h0M122.5 303.18h0M286 246.8h0M318 212.1h0M505.5 251.13h0M395.5 242.46h0M435 251.13h0M270.5 308.96h0M344 287.28h0M470 204.87h0M290 165.84h0M563 326.31h0M503.5 433.29h0M337 157.16h0M397.5 200.53h0M253.5 251.13h0M295.5 210.65h0M354.5 254.03h0M284.5 184.63h0M320 311.85h0M149 275.71h0M350 241.01h0M316.5 317.64h0M297 232.34h0M154 307.52h0M348.5 233.79h0M286 213.55h0M530 280.05h0M402 131.14h0M470 248.24h0M99.5 223.67h0M551 408.72h0M412.5 345.1h0M395.5 233.79h0M86.5 167.28h0M337.5 248.24h0M306.5 181.74h0M304 368.24h0M391.5 190.41h0M339.5 194.75h0M348.5 248.24h0M331 278.6h0M554 235.23h0M333.5 311.85h0M296.5 241.01h0M344 236.68h0M391.5 262.7h0M394 308.96h0M174 498.35h0M304.5 321.97h0M207.5 206.32h0M509.5 319.08h0M134.5 359.56h0M498 311.85h0M361 265.59h0M379 255.47h0M336 194.75h0M453 201.98h0M493.5 152.83h0M286 191.86h0M364.5 275.71h0M506.5 336.43h0M299.5 160.05h0M306 314.74h0M401 249.69h0M304 307.52h0M293 210.65h0M216.5 320.53h0M344 280.05h0M113.5 316.19h0M211.5 199.09h0M333.5 249.69h0M410.5 248.24h0M548 298.84h0M240.5 326.31h0M322.5 200.53h0M277.5 222.22h0M461 229.45h0M321.5 103.67h0M417.5 259.81h0M335 326.31h0M313.5 251.13h0M314 303.18h0M139 265.59h0M350 274.27h0M289.5 258.36h0M347 178.85h0M274 212.1h0M560.5 281.49h0M305.5 210.65h0M196 199.09h0M335.5 220.77h0M77 259.81h0M355.5 187.52h0M490 269.93h0M198.5 346.55h0M310.5 306.07h0M140 242.46h0M495 287.28h0M403 280.05h0M337 282.94h0M395 323.42h0M527.5 352.33h0M435.5 375.46h0M430 241.01h0M253.5 295.95h0M303 274.27h0M284.5 171.62h0M311 248.24h0M292 212.1h0M394 223.67h0M310.5 161.5h0M309.5 363.9h0M327.5 285.83h0M332 164.39h0M233.5 272.82h0M359 165.84h0M344.5 324.86h0M473.5 368.24h0M363 188.97h0M337.5 281.49h0M341.5 267.04h0M326.5 171.62h0M79.5 316.19h0M341.5 152.83h0M491.5 284.38h0M99.5 310.41h0M157 313.3h0M347 265.59h0M309.5 272.82h0M337.5 191.86h0M370.5 374.02h0M95.5 378.36h0M568 333.54h0M499 252.58h0M348 219.33h0M368 271.37h0M420.5 251.13h0M285.5 245.35h0M222 410.16h0M456 311.85h0M345 99.34h0M126.5 294.5h0M316.5 165.84h0M529 269.93h0M322 316.19h0M422 494.01h0M375.5 317.64h0M451.5 297.4h0M337 277.16h0M303.5 275.71h0M360.5 261.25h0M226.5 271.37h0M332 389.92h0M370 307.52h0M369 157.16h0M353 397.15h0M408.5 229.45h0M300.5 271.37h0M289.5 233.79h0M276.5 294.5h0M444 288.72h0M318 265.59h0M320.5 183.19h0M382.5 295.95h0M401 355.22h0M330.5 384.14h0M334 193.31h0M455.5 298.84h0M281.5 342.21h0M447 254.03h0M188 203.43h0M283 252.58h0M411.5 333.54h0M520.5 282.94h0M354 307.52h0M234 415.94h0M329.5 154.27h0M347.5 274.27h0M327.5 337.88h0M308.5 191.86h0M343 138.37h0M219 210.65h0M473.5 310.41h0M332 323.42h0M286 264.15h0M324 255.47h0M374 194.75h0M309.5 152.83h0M338.5 183.19h0M320 293.06h0M362 255.47h0M259 340.77h0M355 265.59h0M472 362.45h0M314.5 345.1h0M437.5 342.21h0M281 300.29h0M299 298.84h0M570.5 235.23h0M369 359.56h0M307 345.1h0M448.5 243.91h0M466.5 241.01h0M358 233.79h0M550.5 232.34h0M361.5 242.46h0M228.5 259.81h0M413 228h0M311 356.67h0M451 319.08h0M424.5 228h0M447 323.42h0M420 264.15h0M409 308.96h0M370 278.6h0M277.5 206.32h0M321 242.46h0M245.5 275.71h0M343.5 306.07h0M306.5 213.55h0M558.5 243.91h0M350 277.16h0M385.5 197.64h0M315 236.68h0M318.5 142.71h0M431.5 242.46h0M401.5 187.52h0M448 261.25h0M348 233.79h0M342 204.87h0M133 352.33h0M231.5 271.37h0M490 252.58h0M454.5 369.68h0M395 217.88h0M313.5 232.34h0M325.5 171.62h0M179.5 287.28h0M350.5 272.82h0M122.5 181.74h0M342 281.49h0M286 206.32h0M358 280.05h0M500.5 294.5h0M162.5 304.62h0M178.5 317.64h0M374.5 278.6h0M344.5 330.65h0M214.5 207.76h0M350 148.49h0M570 350.89h0M333 371.13h0M268 475.22h0M227.5 173.07h0M506.5 361.01h0M397.5 239.57h0M344 300.29h0M388.5 321.97h0M462.5 311.85h0M113.5 236.68h0M291 413.05h0M470 199.09h0M374.5 258.36h0M302.5 313.3h0M295.5 319.08h0M363 243.91h0M358.5 248.24h0M315.5 297.4h0M319 294.5h0M130 272.82h0M341 183.19h0M352.5 262.7h0M288.5 204.87h0M136 245.35h0M235.5 258.36h0M365.5 269.93h0M438.5 239.57h0M444.5 269.93h0M370.5 230.89h0M192.5 324.86h0M549.5 297.4h0M350.5 196.2h0M389 284.38h0M355.5 204.87h0M275.5 170.17h0M455.5 256.92h0M183.5 348h0M173 223.67h0M167.5 241.01h0M468.5 303.18h0M336 199.09h0M77.5 269.93h0M323.5 369.68h0M469 363.9h0M292 314.74h0M319 251.13h0M502 212.1h0M310.5 349.44h0M106.5 404.38h0M431 249.69h0M300 281.49h0M396 277.16h0M391.5 210.65h0M118 178.85h0M309.5 152.83h0M307.5 219.33h0M199.5 481h0M340 333.54h0M428 255.47h0M485.5 161.5h0M305 356.67h0M276.5 265.59h0M482.5 284.38h0M160 281.49h0M502 307.52h0M260 306.07h0M387.5 313.3h0M321 348h0M287.5 259.81h0M273 275.71h0M113.5 232.34h0M487 246.8h0M377 162.95h0M231 293.06h0M357 193.31h0M341 285.83h0M322 242.46h0M306 213.55h0M519.5 284.38h0M278.5 275.71h0M454.5 248.24h0M285 345.1h0M529 264.15h0M287 350.89h0M414 316.19h0M503.5 249.69h0M335.5 149.93h0M362 83.43h0M445 308.96h0M403.5 334.98h0M349.5 265.59h0M387 277.16h0M534 287.28h0M362 222.22h0M342.5 233.79h0M212 258.36h0M376 249.69h0M288.5 255.47h0M321 239.57h0M343 175.96h0M317.5 165.84h0M339.5 144.15h0M421 200.53h0M463.5 348h0M413 275.71h0M353 219.33h0M300 301.73h0M164.5 251.13h0M398 371.13h0M345.5 320.53h0M294 282.94h0M369 362.45h0M549.5 280.05h0M340 314.74h0M309 199.09h0M331.5 297.4h0M199 285.83h0M387.5 214.99h0M428 259.81h0M252.5 374.02h0M377 317.64h0M335.5 251.13h0M516 321.97h0M216 310.41h0M485 249.69h0M258.5 268.48h0M572 307.52h0M399 259.81h0M271 246.8h0M223.5 382.69h0M352 306.07h0M172 298.84h0M425 194.75h0M498.5 374.02h0M172 291.61h0M227.5 321.97h0M363.5 236.68h0M306 212.1h0M382 369.68h0M343 199.09h0M392.5 236.68h0M352.5 317.64h0M275.5 180.29h0M242 301.73h0M360 217.88h0M271.5 359.56h0M283.5 274.27h0M294 267.04h0M226 187.52h0M336 206.32h0M325.5 261.25h0M567 374.02h0M341 278.6h0M322 287.28h0M312.5 113.79h0M450 239.57h0M444.5 282.94h0M267 288.72h0M342 222.22h0M338.5 350.89h0M298 210.65h0M357 241.01h0M227.5 277.16h0M355.5 233.79h0M151 282.94h0M221 334.98h0M248 280.05h0M512 374.02h0M158 353.78h0M331.5 277.16h0M339.5 209.21h0M346.5 320.53h0M402 268.48h0M316.5 144.15h0M562 209.21h0M319.5 186.08h0M271 239.57h0M182 254.03h0M288.5 255.47h0M322 252.58h0M258.5 272.82h0M377 290.17h0M409.5 313.3h0M471.5 365.34h0M382 288.72h0M506 222.22h0M235 259.81h0M94 329.2h0M369 212.1h0M345.5 381.25h0M350 174.51h0M310 243.91h0M329 259.81h0M368.5 281.49h0M338.5 209.21h0M336 449.19h0M206 417.39h0M391 265.59h0M371 301.73h0M323.5 282.94h0M322.5 262.7h0M520.5 379.8h0M291 139.81h0M333 239.57h0M302 349.44h0M328.5 228h0M184 262.7h0M356.5 238.12h0M312.5 228h0M344.5 128.25h0M111 342.21h0M292.5 109.46h0M310.5 271.37h0M236.5 320.53h0M279.5 287.28h0M243 288.72h0M358.5 188.97h0M262.5 264.15h0M298.5 363.9h0M298.5 232.34h0M331 268.48h0M392 212.1h0M301 376.91h0M535 199.09h0M289.5 188.97h0M384 441.97h0M312 271.37h0M392 342.21h0M370.5 264.15h0M389 353.78h0M363.5 191.86h0M309.5 324.86h0M309.5 241.01h0M339.5 243.91h0M397 297.4h0M275.5 317.64h0M470 181.74h0M332.5 382.69h0M532.5 310.41h0M332.5 295.95h0M335 255.47h0M384.5 288.72h0M317.5 345.1h0M103.5 256.92h0M331 230.89h0M524 235.23h0M364 269.93h0M561.5 300.29h0M154.5 433.29h0M170 262.7h0M342.5 248.24h0M383 277.16h0M338 158.61h0M307.5 320.53h0M365.5 212.1h0M381 232.34h0M355 187.52h0M342 177.4h0M331 313.3h0M366 178.85h0M360 282.94h0M359.5 239.57h0M443 162.95h0M382 254.03h0M314 255.47h0M492 362.45h0M475 254.03h0M209.5 311.85h0M555 285.83h0M391 287.28h0M308 148.49h0M358 246.8h0M345.5 230.89h0M337 327.76h0M356 300.29h0M343 194.75h0M319 342.21h0M218 161.5h0M287 278.6h0M243.5 284.38h0M268 265.59h0M540 277.16h0M383 272.82h0M506.5 280.05h0M339 235.23h0M539.5 306.07h0M321.5 329.2h0M146 277.16h0M319.5 353.78h0M308 275.71h0M249 268.48h0M237 217.88h0M493.5 346.55h0M532 284.38h0M333.5 219.33h0M565 294.5h0M330.5 206.32h0M367.5 232.34h0M405 381.25h0M353 285.83h0M321.5 222.22h0M317 264.15h0M480.5 241.01h0M353.5 131.14h0M282.5 239.57h0M319.5 261.25h0M304.5 203.43h0M345.5 278.6h0M329.5 433.29h0M318.5 306.07h0M365 254.03h0M147.5 164.39h0M220 251.13h0M527.5 304.62h0M271.5 122.47h0M292.5 282.94h0M267 314.74h0M248 259.81h0M370.5 293.06h0M326 345.1h0M87.5 232.34h0M291.5 236.68h0M336.5 149.93h0M512 337.88h0M342.5 183.19h0M210.5 214.99h0M416 310.41h0M355.5 271.37h0M379.5 248.24h0M105.5 297.4h0M336 346.55h0M346.5 206.32h0M205 329.2h0M395.5 269.93h0M306.5 277.16h0M346.5 186.08h0M389 259.81h0M559 280.05h0M290 145.6h0M384 291.61h0M392.5 230.89h0M193 313.3h0M228.5 223.67h0M295 225.11h0M253 207.76h0M260.5 269.93h0M311.5 316.19h0M567 248.24h0M334.5 183.19h0M303 298.84h0M289 408.72h0M349 324.86h0M314 173.07h0M247.5 453.53h0M126 371.13h0M247.5 349.44h0M448.5 190.41h0M310 285.83h0M295.5 236.68h0M219 233.79h0M82 277.16h0M346 229.45h0M402 274.27h0M81.5 261.25h0M556 300.29h0M127.5 501.24h0M337 254.03h0M332 307.52h0M413.5 306.07h0M450.5 194.75h0M454.5 290.17h0M265 348h0M387.5 248.24h0M355 262.7h0M405.5 369.68h0M288 291.61h0M341 251.13h0M313 304.62h0M335 136.92h0M313 214.99h0M247.5 267.04h0M131.5 180.29h0M572.5 388.48h0M389.5 316.19h0M366 181.74h0M349.5 267.04h0M174 327.76h0M567.5 258.36h0M308.5 229.45h0M360.5 252.58h0M133.5 376.91h0M314.5 385.58h0M192.5 281.49h0M452.5 417.39h0M227.5 355.22h0M286 245.35h0M321 277.16h0M361 355.22h0M320 194.75h0M360.5 288.72h0M423.5 193.31h0M307 251.13h0M363 249.69h0M512 280.05h0M391 241.01h0M324.5 311.85h0M311.5 308.96h0M215.5 194.75h0M348.5 320.53h0M374.5 285.83h0M308 226.56h0M525.5 295.95h0M303 288.72h0M307 183.19h0M111 319.08h0M217 311.85h0M353 191.86h0M419.5 306.07h0M103.5 294.5h0M343.5 193.31h0M417 297.4h0M336.5 105.12h0M506.5 210.65h0M317.5 203.43h0M507 316.19h0M355.5 317.64h0M323 225.11h0M395.5 209.21h0M390 316.19h0M544 320.53h0M325 311.85h0M140 336.43h0M353.5 280.05h0M121 267.04h0M336.5 248.24h0M421 371.13h0M407.5 323.42h0M395.5 343.66h0M190 306.07h0M386.5 324.86h0M326.5 171.62h0M271 287.28h0M295.5 336.43h0M243.5 241.01h0M159 148.49h0M347 216.44h0M473 245.35h0M406 287.28h0M362 282.94h0M303.5 300.29h0M330.5 213.55h0M158 213.55h0M359.5 269.93h0M313 199.09h0M317.5 243.91h0M331.5 238.12h0M530 307.52h0M253.5 311.85h0M262 314.74h0M294 181.74h0M336.5 214.99h0M353 187.52h0M289 209.21h0M304.5 213.55h0M263.5 277.16h0M306.5 222.22h0M326 329.2h0M398.5 243.91h0M269 379.8h0M332 154.27h0M215.5 193.31h0M240.5 329.2h0M369.5 222.22h0M312 209.21h0M497 381.25h0M339.5 258.36h0M330.5 280.05h0M323 249.69h0M343.5 191.86h0M311.5 230.89h0M389.5 319.08h0M303 259.81h0M203.5 258.36h0M418 430.4h0M504 339.32h0M344 290.17h0M319.5 326.31h0M344.5 313.3h0M306 239.57h0M331.5 157.16h0M326 274.27h0M355 245.35h0M357 223.67h0M493 241.01h0M556.5 243.91h0M293 518.59h0M82.5 196.2h0M334 330.65h0M461 326.31h0M373 267.04h0M400.5 255.47h0M413.5 225.11h0M232.5 301.73h0M353 167.28h0M337.5 248.24h0M454 204.87h0M313.5 271.37h0M565.5 362.45h0M216.5 427.51h0M538 246.8h0M244 278.6h0M362 277.16h0M316.5 295.95h0M327.5 326.31h0M183 271.37h0M118.5 308.96h0M283.5 188.97h0M340.5 326.31h0M324 152.83h0M106 199.09h0M317 285.83h0M316 220.77h0M246 255.47h0M286.5 272.82h0M322 212.1h0M336.5 207.76h0M279.5 320.53h0M324 184.63h0M485.5 391.37h0M357.5 457.87h0M196.5 269.93h0M277.5 300.29h0M396.5 280.05h0M350 271.37h0M334.5 272.82h0M457 184.63h0M356.5 180.29h0M551 293.06h0M321.5 303.18h0M347 243.91h0M403.5 321.97h0M300.5 282.94h0M356 232.34h0M310.5 456.42h0M292 220.77h0M391.5 229.45h0M439.5 285.83h0M153.5 310.41h0M397 262.7h0M331 301.73h0M459 210.65h0M281.5 254.03h0M545.5 300.29h0M359.5 213.55h0M253.5 251.13h0M522 339.32h0M431.5 281.49h0M367 269.93h0M336 167.28h0M389 297.4h0M329.5 275.71h0M288.5 145.6h0M245 278.6h0M470.5 209.21h0M473.5 350.89h0M348 284.38h0M314 324.86h0M253.5 191.86h0M230 259.81h0M461 317.64h0M341.5 352.33h0M347 280.05h0M387 350.89h0M276 269.93h0M256 229.45h0M316.5 298.84h0M353.5 329.2h0M424.5 290.17h0M311.5 329.2h0M392 204.87h0M360.5 350.89h0M382.5 228h0M315 294.5h0M202 229.45h0M231.5 220.77h0M340 337.88h0M85 223.67h0M513.5 167.28h0M357.5 258.36h0M334.5 245.35h0M85.5 295.95h0M447.5 327.76h0M300.5 226.56h0M375.5 210.65h0M566.5 320.53h0M514 345.1h0M373.5 291.61h0M297.5 248.24h0M276 288.72h0M349 155.72h0M287 216.44h0M298 180.29h0M285.5 252.58h0M440 225.11h0M294 162.95h0M388.5 387.03h0M332.5 256.92h0M542 324.86h0M364 216.44h0M516 314.74h0M448 228h0M280.5 294.5h0M303.5 243.91h0M356.5 239.57h0M294.5 183.19h0M332.5 196.2h0M308.5 277.16h0M501.5 238.12h0M237 324.86h0M200.5 349.44h0M271 232.34h0M344.5 184.63h0M342 226.56h0M317.5 265.59h0M364 248.24h0M305 229.45h0M461.5 258.36h0M105 288.72h0M283 201.98h0M387.5 288.72h0M374.5 186.08h0M321.5 214.99h0M322.5 216.44h0M195 206.32h0M309 135.48h0M335 131.14h0M439.5 268.48h0M369.5 287.28h0M364.5 229.45h0M332 152.83h0M377.5 248.24h0M464 400.04h0M405 384.14h0M215 272.82h0M343 217.88h0M416 191.86h0M316 287.28h0M324.5 265.59h0M152 265.59h0M245 350.89h0M142 525.82h0M234.5 264.15h0M250.5 267.04h0M350 199.09h0M132.5 324.86h0M329.5 201.98h0M283.5 306.07h0M373 262.7h0M292 233.79h0M341.5 334.98h0M309.5 165.84h0M278 158.61h0M331 151.38h0M449.5 496.9h0M308.5 245.35h0M361.5 241.01h0M289 193.31h0M277.5 320.53h0M275 340.77h0M112.5 212.1h0M568.5 308.96h0M161 363.9h0M326.5 352.33h0M338.5 245.35h0M309 262.7h0M373.5 226.56h0M346.5 213.55h0M470 489.67h0M314.5 173.07h0M274.5 193.31h0M318 173.07h0M368 222.22h0M319.5 285.83h0M198.5 310.41h0M291.5 181.74h0M332.5 280.05h0M331.5 269.93h0M252.5 235.23h0M416 238.12h0M331 236.68h0M90.5 248.24h0M348 267.04h0M333 222.22h0M417.5 284.38h0M152.5 307.52h0M304 183.19h0M301 203.43h0M356 232.34h0M399.5 329.2h0M557 378.36h0M141 177.4h0M409.5 168.73h0M317 306.07h0M361.5 248.24h0M555.5 413.05h0M344.5 284.38h0M409 235.23h0M394.5 290.17h0M346.5 213.55h0M305 181.74h0M574 337.88h0M398 238.12h0M337.5 287.28h0M435.5 327.76h0M297.5 291.61h0M464.5 271.37h0M413.5 188.97h0M301.5 222.22h0M371.5 460.76h0M233.5 369.68h0M327 121.02h0M337.5 259.81h0M325 251.13h0M394 291.61h0M348.5 207.76h0M344.5 259.81h0M326 254.03h0M292.5 310.41h0M519.5 220.77h0M256.5 317.64h0M83 336.43h0M85 252.58h0M375 207.76h0M244.5 301.73h0M303 300.29h0M301 333.54h0M355.5 252.58h0M196.5 220.77h0M350 340.77h0M294 262.7h0M386 262.7h0M296 346.55h0M396.5 264.15h0M304 306.07h0M483.5 321.97h0M290 136.92h0M109 352.33h0M351.5 293.06h0M321.5 249.69h0M425 282.94h0M233.5 413.05h0M298 197.64h0M463 313.3h0M355.5 281.49h0M277.5 183.19h0M316.5 151.38h0M362.5 181.74h0M332.5 281.49h0M294 226.56h0M354 203.43h0M345 321.97h0M313.5 151.38h0M93 348h0M176.5 242.46h0M443 313.3h0M298.5 317.64h0M82 336.43h0M335.5 168.73h0M219.5 339.32h0M293 181.74h0M294.5 329.2h0M438.5 295.95h0M414.5 319.08h0M318.5 134.03h0M412 352.33h0M291.5 199.09h0M223 300.29h0M340.5 162.95h0M246 225.11h0M283 307.52h0M376 267.04h0M329.5 330.65h0M203.5 281.49h0M304.5 398.6h0M96 238.12h0M337.5 254.03h0M302.5 306.07h0M377 424.62h0M324.5 170.17h0M320.5 340.77h0M358.5 295.95h0M325.5 400.04h0M309 285.83h0M326.5 282.94h0M238 262.7h0M219.5 295.95h0M300.5 310.41h0M307.5 217.88h0M291 304.62h0M257 294.5h0M411.5 269.93h0M351 306.07h0M398.5 230.89h0M209 355.22h0M156 295.95h0M346 280.05h0M326.5 308.96h0M280.5 204.87h0M516.5 291.61h0M341.5 280.05h0M343.5 272.82h0M325 207.76h0M480 317.64h0M293.5 207.76h0M270 164.39h0M341.5 307.52h0M533.5 329.2h0M368.5 217.88h0M388 298.84h0M236.5 314.74h0M281 358.12h0M423.5 251.13h0M347 171.62h0M327.5 193.31h0M137.5 254.03h0M324 277.16h0M357.5 147.04h0M315.5 242.46h0M315.5 160.05h0M401.5 238.12h0M485 236.68h0M328 235.23h0M352.5 340.77h0M385 310.41h0M99 363.9h0M299.5 173.07h0M305 118.13h0M425.5 252.58h0M342.5 332.09h0M297 340.77h0M278 275.71h0M278 284.38h0M300 321.97h0M392.5 353.78h0M394 245.35h0M307.5 216.44h0M569 366.79h0M294 298.84h0M220.5 300.29h0M126.5 261.25h0M392.5 252.58h0M322 281.49h0M287 197.64h0M277.5 284.38h0M332.5 300.29h0M328 222.22h0M332.5 204.87h0M341.5 194.75h0M532 329.2h0M337 321.97h0M525.5 274.27h0M320.5 152.83h0M350 249.69h0M551.5 249.69h0M332 295.95h0M324 129.7h0M258.5 324.86h0M403.5 259.81h0M267.5 239.57h0M248.5 212.1h0M349.5 212.1h0M392 285.83h0M272.5 306.07h0M356.5 144.15h0M249 259.81h0M379 304.62h0M249 336.43h0M120 213.55h0M356.5 203.43h0M524.5 258.36h0M324.5 285.83h0M302.5 242.46h0M284 142.71h0M440 256.92h0M333 217.88h0M345.5 193.31h0M155.5 223.67h0M307 269.93h0M328 326.31h0M448.5 236.68h0M350 207.76h0M309.5 155.72h0M487.5 333.54h0M558 345.1h0M330 246.8h0M470 209.21h0M419 359.56h0M449 251.13h0M350.5 307.52h0M289 84.88h0M413.5 290.17h0M340 356.67h0M399 219.33h0M245 300.29h0M311 280.05h0M357 339.32h0M138 294.5h0M247 337.88h0M310 308.96h0M488 256.92h0M535.5 301.73h0M291.5 241.01h0M295.5 186.08h0M360 256.92h0M451.5 395.7h0M384 158.61h0M366 321.97h0M544.5 293.06h0M316.5 264.15h0M324 249.69h0M320 293.06h0M361.5 277.16h0M314 248.24h0M308.5 274.27h0M485 304.62h0M327 281.49h0M341 285.83h0M113.5 301.73h0M312 252.58h0M550.5 267.04h0M343 281.49h0M338 233.79h0M332.5 212.1h0M77.5 243.91h0M299 293.06h0M337 171.62h0M388 348h0M318 213.55h0M355 280.05h0M513.5 284.38h0M358.5 204.87h0M378.5 243.91h0M327 148.49h0M357.5 194.75h0M341 343.66h0M153 267.04h0M342.5 222.22h0M401 356.67h0M168.5 261.25h0M307 123.91h0M440 313.3h0M370.5 343.66h0M370 303.18h0M381.5 293.06h0M262 303.18h0M397 278.6h0M97 206.32h0M328.5 265.59h0M206 254.03h0M492 346.55h0M374.5 365.34h0M294.5 162.95h0M166.5 291.61h0M338 165.84h0M357.5 294.5h0M439 246.8h0M335 242.46h0M533 353.78h0M512 362.45h0M400 277.16h0M545.5 340.77h0M335.5 301.73h0M306.5 321.97h0M392.5 298.84h0M281 274.27h0M338.5 298.84h0M352.5 294.5h0M294 269.93h0M256.5 238.12h0M494.5 381.25h0M315 100.78h0M358.5 278.6h0M297.5 177.4h0M237.5 446.3h0M391 369.68h0M316 349.44h0M303 181.74h0M354 281.49h0M311 203.43h0M351.5 236.68h0M282.5 353.78h0M440 290.17h0M213 294.5h0M556 275.71h0M343.5 225.11h0M121 355.22h0M300.5 175.96h0M305.5 271.37h0M298 288.72h0M145 235.23h0M566 306.07h0M529.5 233.79h0M159 280.05h0M334 271.37h0M286 323.42h0M333 320.53h0M298.5 199.09h0M358 256.92h0M382 280.05h0M354.5 220.77h0M241.5 181.74h0M164 330.65h0M166.5 96.44h0M179.5 421.73h0M441.5 251.13h0M274.5 307.52h0M362.5 310.41h0M261 268.48h0M381.5 252.58h0M286.5 277.16h0M265.5 232.34h0M361.5 164.39h0M472 329.2h0M354 313.3h0M314 251.13h0M317.5 281.49h0M162.5 297.4h0M259 267.04h0M493 236.68h0M287.5 183.19h0M293 168.73h0M348 210.65h0M103.5 291.61h0M211.5 191.86h0M347 233.79h0M449 327.76h0M282 161.5h0M90.5 310.41h0M191 238.12h0M349 236.68h0M567.5 184.63h0M245 241.01h0M299.5 139.81h0M368.5 368.24h0M552 385.58h0M299 321.97h0M338 256.92h0M497.5 280.05h0M395 356.67h0M300.5 320.53h0M564.5 256.92h0M342.5 282.94h0M85.5 222.22h0M309.5 272.82h0M349.5 194.75h0M307 223.67h0M253 268.48h0M311 290.17h0M224.5 317.64h0M129 301.73h0M141.5 290.17h0M404.5 290.17h0M349 326.31h0M122.5 271.37h0M338 345.1h0M353 197.64h0M442 261.25h0M299 350.89h0M361 295.95h0M178 308.96h0M348.5 332.09h0M390 271.37h0M296.5 324.86h0M407.5 333.54h0M348 235.23h0M333 278.6h0M394 241.01h0M368 272.82h0M235.5 267.04h0M323.5 298.84h0M252.5 278.6h0M399.5 271.37h0M327.5 293.06h0M365 209.21h0M456 311.85h0M227.5 316.19h0M378 293.06h0M293.5 217.88h0M336 203.43h0M321.5 258.36h0M379.5 290.17h0M570 245.35h0M376 209.21h0M309 311.85h0M294 241.01h0M345.5 233.79h0M258 284.38h0M325.5 334.98h0M244.5 251.13h0M346.5 319.08h0M348.5 288.72h0M287 261.25h0M303 155.72h0M426.5 334.98h0M481 361.01h0M363.5 262.7h0M556.5 168.73h0M244 376.91h0M269.5 245.35h0M302 397.15h0M527.5 261.25h0M246 342.21h0M286 242.46h0M392 290.17h0M359 243.91h0M331 308.96h0M265 359.56h0M163.5 324.86h0M354 306.07h0M215.5 329.2h0M404.5 321.97h0M277 261.25h0M305 277.16h0M343.5 209.21h0M328.5 268.48h0M379.5 262.7h0M351 233.79h0M347.5 201.98h0M344 255.47h0M336.5 385.58h0M347.5 274.27h0M83 389.92h0M411 252.58h0M414.5 365.34h0M382.5 262.7h0M320.5 333.54h0M213 200.53h0M191 350.89h0M294.5 242.46h0M395.5 235.23h0M415.5 306.07h0M328.5 254.03h0M515 295.95h0M348.5 308.96h0M372 308.96h0M139.5 417.39h0M489 241.01h0M236 361.01h0M338.5 321.97h0M120.5 353.78h0M288 213.55h0M372 264.15h0M317 272.82h0M321 255.47h0M383 213.55h0M169 248.24h0M185 265.59h0M405.5 298.84h0M317.5 265.59h0M337 135.48h0M536 258.36h0M317 271.37h0M247.5 190.41h0M297 371.13h0M118.5 365.34h0M413 217.88h0M337 168.73h0M388 374.02h0M99.5 401.49h0M506 436.18h0M373 256.92h0M168.5 336.43h0M147 258.36h0M388.5 242.46h0M382 418.84h0M159 196.2h0M382 310.41h0M285 259.81h0M468 291.61h0M347.5 293.06h0M363.5 282.94h0M152 475.22h0M317.5 278.6h0M317.5 307.52h0M296.5 290.17h0M434 330.65h0M338.5 294.5h0M295.5 235.23h0M336 139.81h0M341.5 321.97h0M310 197.64h0M555.5 251.13h0M510.5 349.44h0M169.5 420.28h0M263.5 191.86h0M206.5 313.3h0M247.5 346.55h0M388 243.91h0M278.5 233.79h0M349.5 188.97h0M384.5 268.48h0M354.5 298.84h0M318.5 297.4h0M398.5 320.53h0M313 246.8h0M341 168.73h0M303.5 355.22h0M397.5 285.83h0M359 291.61h0M79 356.67h0M367.5 254.03h0M278.5 139.81h0M89.5 304.62h0M464.5 230.89h0M211 186.08h0M253 306.07h0M99.5 178.85h0M398.5 226.56h0M346.5 245.35h0M169 321.97h0M183 304.62h0M119.5 348h0M380.5 188.97h0M493.5 213.55h0M542 355.22h0M441.5 264.15h0M122 317.64h0M306.5 222.22h0M299 256.92h0M369.5 167.28h0M469 230.89h0M452 349.44h0M246 287.28h0M357 256.92h0M92.5 181.74h0M538.5 288.72h0M158 323.42h0M479 304.62h0M198.5 310.41h0M289 332.09h0M365 293.06h0M271 310.41h0M392 267.04h0M329.5 188.97h0M330 161.5h0M247 330.65h0M474.5 258.36h0M144.5 239.57h0M524.5 333.54h0M534 264.15h0M112.5 320.53h0M225.5 288.72h0M243 295.95h0M449 212.1h0M212.5 313.3h0M399.5 262.7h0M361.5 255.47h0M509 295.95h0M298 174.51h0M261 294.5h0M321 295.95h0M318 236.68h0M329 269.93h0M342.5 230.89h0M83.5 332.09h0M170.5 333.54h0M250.5 228h0M92 284.38h0M318 200.53h0M129 313.3h0M94 311.85h0M342 199.09h0M440.5 290.17h0M136 345.1h0M198 316.19h0M442.5 222.22h0M327.5 307.52h0M323.5 259.81h0M294 206.32h0M328.5 251.13h0M325 225.11h0M301.5 145.6h0M567.5 301.73h0M314 194.75h0M529.5 261.25h0M274.5 320.53h0M527.5 339.32h0M363.5 295.95h0M148 336.43h0M289.5 220.77h0M352 259.81h0M190.5 378.36h0M368 194.75h0M409.5 254.03h0M493 277.16h0M385.5 336.43h0M365 272.82h0M330.5 180.29h0M339 255.47h0M347.5 274.27h0M275 251.13h0M464 261.25h0M96 248.24h0M463.5 321.97h0M256 333.54h0M122 426.06h0M358 207.76h0M566.5 482.45h0M265 308.96h0M356.5 255.47h0M370.5 268.48h0M307 186.08h0M136.5 317.64h0M115.5 343.66h0M307.5 330.65h0M332 268.48h0M522.5 303.18h0M265.5 274.27h0M383.5 238.12h0M439.5 297.4h0M544 242.46h0M422.5 410.16h0M322 261.25h0M361 184.63h0M351.5 173.07h0M257 256.92h0M294.5 139.81h0M296.5 313.3h0M398 301.73h0M321.5 275.71h0M353 267.04h0M347 210.65h0M308 275.71h0M235 375.46h0M306.5 235.23h0M324.5 316.19h0M352 193.31h0M472.5 319.08h0M333.5 301.73h0M79 336.43h0M314.5 300.29h0M317 252.58h0M387 307.52h0M317 375.46h0M380.5 255.47h0M549.5 229.45h0M471.5 346.55h0M538.5 280.05h0M542 363.9h0M479.5 415.94h0M305.5 287.28h0M293.5 303.18h0M284 194.75h0M83 423.17h0M363 245.35h0M381 229.45h0M251 280.05h0M399 268.48h0M560.5 311.85h0M372.5 310.41h0M389 372.57h0M316.5 184.63h0M448.5 395.7h0M557 337.88h0M334 230.89h0M317.5 274.27h0M515 267.04h0M303 301.73h0M330.5 330.65h0M316 214.99h0M250.5 340.77h0M335.5 301.73h0M309 225.11h0M435.5 301.73h0M311 162.95h0M560 327.76h0M335 264.15h0M347 262.7h0M390 268.48h0M342.5 220.77h0M211 376.91h0M317 261.25h0M483.5 217.88h0M353 374.02h0M324 261.25h0M366 277.16h0M410 282.94h0M341.5 262.7h0M242.5 248.24h0M385 235.23h0M327 187.52h0M485.5 243.91h0M210 87.77h0M497 242.46h0M77.5 306.07h0M526.5 334.98h0M501.5 362.45h0M463 307.52h0M241 342.21h0M288 238.12h0M88 236.68h0M358 251.13h0M298 285.83h0M189.5 272.82h0M363.5 308.96h0M409.5 180.29h0M159 417.39h0M385.5 297.4h0M290.5 256.92h0M482.5 326.31h0M374 201.98h0M383.5 271.37h0M490.5 288.72h0M495.5 366.79h0M348 304.62h0M240 254.03h0M349 304.62h0M397 378.36h0M110.5 255.47h0M346 300.29h0M311 203.43h0M300.5 236.68h0M264.5 230.89h0M332.5 190.41h0M252 212.1h0M440 295.95h0M429 258.36h0M346.5 308.96h0M280.5 320.53h0M526.5 320.53h0M301 345.1h0M445 313.3h0M400.5 316.19h0M438 241.01h0M343 310.41h0M334 376.91h0M362.5 280.05h0M236.5 320.53h0M559.5 238.12h0M299 316.19h0M343.5 259.81h0M175 326.31h0M500.5 271.37h0M323 197.64h0M331 300.29h0M328.5 264.15h0M324 277.16h0M349.5 362.45h0M107.5 407.27h0M342.5 204.87h0M271.5 293.06h0M339.5 238.12h0M371 281.49h0M395.5 206.32h0M270.5 321.97h0M211 269.93h0M361.5 261.25h0M332 216.44h0M334.5 394.26h0M525 290.17h0M270.5 271.37h0M143.5 254.03h0M444.5 336.43h0M258 261.25h0M331.5 236.68h0M361 229.45h0M378 316.19h0M369.5 277.16h0M423 301.73h0M478.5 285.83h0M99 288.72h0M350 167.28h0M454 424.62h0M354 165.84h0M406 389.92h0M262.5 358.12h0M549.5 320.53h0M302.5 303.18h0M331 200.53h0M317 204.87h0M376 173.07h0M229 284.38h0M129.5 417.39h0M290 248.24h0M350.5 187.52h0M330.5 346.55h0M157.5 207.76h0M90 504.13h0M344.5 229.45h0M158.5 268.48h0M175.5 183.19h0M242.5 194.75h0M308 376.91h0M337.5 268.48h0M281.5 311.85h0M339 277.16h0M232.5 363.9h0M374.5 290.17h0M275 281.49h0M382 473.77h0M247 271.37h0M338.5 188.97h0M116 366.79h0M337 167.28h0M358 269.93h0M360.5 319.08h0M297 151.38h0M161.5 271.37h0M288 277.16h0M348 287.28h0M329 193.31h0M331 339.32h0M356 319.08h0M468.5 304.62h0M406 366.79h0M437.5 204.87h0M344 269.93h0M327.5 252.58h0M323 191.86h0M264.5 268.48h0M539.5 306.07h0M462.5 264.15h0M382 268.48h0M517.5 301.73h0M416 314.74h0M306.5 290.17h0M572.5 229.45h0M274 329.2h0M331 110.9h0M291.5 313.3h0M322.5 306.07h0M95.5 340.77h0M306 284.38h0M154.5 287.28h0M132.5 238.12h0M468 188.97h0M157.5 310.41h0M102.5 212.1h0M235.5 298.84h0M146 281.49h0M219.5 339.32h0M282 188.97h0M270 287.28h0M325 235.23h0M358.5 398.6h0M542.5 236.68h0M93 314.74h0M402.5 275.71h0M133.5 239.57h0M246.5 327.76h0M328 264.15h0M320.5 206.32h0M503.5 330.65h0M321.5 272.82h0M321 324.86h0M240 334.98h0M373.5 269.93h0M298.5 274.27h0M317 245.35h0M332.5 200.53h0M277.5 233.79h0M382.5 294.5h0M297 269.93h0M130.5 239.57h0M488 206.32h0M258 238.12h0M80.5 267.04h0M265 337.88h0M346 197.64h0M353 304.62h0M447 282.94h0M299 191.86h0M231 319.08h0M332.5 181.74h0M314.5 314.74h0M183 353.78h0M218.5 265.59h0M371 216.44h0M341 282.94h0M348 204.87h0M468.5 284.38h0M481 212.1h0M405 345.1h0M486 304.62h0M525.5 342.21h0M345 228h0M359.5 272.82h0M390 243.91h0M388.5 313.3h0M501.5 229.45h0M307.5 123.91h0M363.5 358.12h0M331 297.4h0M410.5 197.64h0M309.5 201.98h0M325 196.2h0M128 314.74h0M279 258.36h0M437 355.22h0M363.5 278.6h0M354.5 256.92h0M338 308.96h0M377.5 280.05h0M308 288.72h0M300 355.22h0M109 362.45h0M343 219.33h0M89 485.34h0M334 136.92h0M295 187.52h0M341 135.48h0M304 217.88h0M241 492.57h0M328 343.66h0M328.5 297.4h0M88 324.86h0M539 368.24h0M321.5 180.29h0M335 183.19h0M333 222.22h0M412.5 310.41h0M326 201.98h0M341.5 210.65h0M217 295.95h0M110 339.32h0M363 337.88h0M287.5 281.49h0M366.5 207.76h0M411.5 359.56h0M335.5 278.6h0M81.5 290.17h0M190 188.97h0M94 332.09h0M389 243.91h0M137 295.95h0M365.5 245.35h0M255 209.21h0M331.5 209.21h0M287 203.43h0M201 301.73h0M489 306.07h0M558.5 342.21h0M191 308.96h0M267 342.21h0M164.5 217.88h0M487.5 376.91h0M373 323.42h0M574.5 217.88h0M362 222.22h0M313.5 148.49h0M316.5 285.83h0M388 378.36h0M377 213.55h0M285 303.18h0M321.5 220.77h0M268 410.16h0M103 387.03h0M196 252.58h0M306 238.12h0M226.5 258.36h0M89.5 262.7h0M543.5 254.03h0M383.5 339.32h0M216 365.34h0M302 291.61h0M349 261.25h0M263 310.41h0M349 326.31h0M284.5 275.71h0M305.5 281.49h0M520.5 307.52h0M321.5 175.96h0M438.5 168.73h0M355 376.91h0M373.5 271.37h0M359.5 313.3h0M373 294.5h0M367.5 395.7h0M549.5 358.12h0M99 388.48h0M352 340.77h0M145 243.91h0M308 358.12h0M334.5 191.86h0M481 214.99h0M90 306.07h0M293 236.68h0M329.5 162.95h0M340 343.66h0M469.5 259.81h0M276.5 272.82h0M315 298.84h0M329 303.18h0M521.5 355.22h0M382 245.35h0M361.5 321.97h0M399 280.05h0M353.5 175.96h0M264.5 291.61h0M246 297.4h0M298 173.07h0M325 255.47h0M129.5 256.92h0M317.5 316.19h0M197 245.35h0M500.5 287.28h0M265.5 261.25h0M133.5 282.94h0M264 356.67h0M348 194.75h0M299.5 236.68h0M306 158.61h0M512.5 300.29h0M355.5 304.62h0M366.5 337.88h0M428 300.29h0M293 295.95h0M318.5 324.86h0M307.5 307.52h0M290 301.73h0M335.5 200.53h0M282 275.71h0M354 210.65h0M151 374.02h0M238.5 323.42h0M365 162.95h0M296 374.02h0M300.5 362.45h0M338.5 265.59h0M389 303.18h0M177.5 321.97h0M294.5 251.13h0M304 251.13h0M185.5 323.42h0M368.5 262.7h0M241.5 274.27h0M314.5 203.43h0M88 362.45h0M81 313.3h0M322 258.36h0M531 389.92h0M293 203.43h0M342.5 152.83h0M378 295.95h0M350 220.77h0M275 310.41h0M422.5 165.84h0M439.5 319.08h0M360 454.98h0M545.5 363.9h0M337 274.27h0M354.5 384.14h0M309.5 142.71h0M443.5 248.24h0M415.5 258.36h0M301.5 248.24h0M289.5 280.05h0M329.5 191.86h0M95.5 232.34h0M348 278.6h0M574.5 304.62h0M310.5 334.98h0M134 297.4h0M416 291.61h0M133.5 356.67h0M356 177.4h0M324.5 308.96h0M396.5 262.7h0M190.5 363.9h0M166 259.81h0M354 245.35h0M472.5 358.12h0M322.5 147.04h0M465.5 330.65h0M222 307.52h0M281 228h0M403.5 294.5h0M326 194.75h0M379 313.3h0M482 298.84h0M312 236.68h0M512.5 200.53h0M188 191.86h0M332.5 303.18h0M437.5 264.15h0M330 281.49h0M304.5 239.57h0M236.5 314.74h0M93 204.87h0M182 232.34h0M504 327.76h0M489.5 298.84h0M375 294.5h0M317.5 174.51h0M285 274.27h0M252.5 249.69h0M336.5 174.51h0M501 284.38h0M298 165.84h0M134 301.73h0M339.5 426.06h0M290.5 348h0M312 236.68h0M246.5 285.83h0M131.5 206.32h0M192.5 262.7h0M333 238.12h0M385 291.61h0M428 255.47h0M211 235.23h0M355.5 287.28h0M397.5 269.93h0M374.5 204.87h0M286 174.51h0M323.5 291.61h0M329 363.9h0M336.5 204.87h0M305.5 275.71h0M307 151.38h0M459 223.67h0M350 288.72h0M204 201.98h0M349.5 261.25h0M201.5 232.34h0M309.5 191.86h0M202 255.47h0M339 165.84h0M215 282.94h0M454 287.28h0M531 246.8h0M435.5 282.94h0M303 233.79h0M463.5 264.15h0M94 226.56h0M353.5 209.21h0M366 258.36h0M348.5 181.74h0M343.5 219.33h0M316 200.53h0M334.5 410.16h0M304 418.84h0M298.5 246.8h0M291.5 294.5h0M345 196.2h0M304 284.38h0M287 226.56h0M432 311.85h0M362 248.24h0M228.5 186.08h0M317 199.09h0M313.5 288.72h0M463.5 271.37h0M299.5 262.7h0M390 293.06h0M221 269.93h0M220 154.27h0M284.5 193.31h0M553.5 298.84h0M301.5 238.12h0M283 164.39h0M485 290.17h0M355.5 203.43h0M244.5 214.99h0M353.5 191.86h0M272.5 355.22h0M294 177.4h0M338.5 142.71h0M235 311.85h0M230 246.8h0M558.5 353.78h0M339.5 252.58h0M324.5 233.79h0M325 226.56h0M311.5 200.53h0M266 301.73h0M327 343.66h0M296.5 210.65h0M466 400.04h0M81.5 313.3h0M335 313.3h0M359 220.77h0M419 277.16h0M364 206.32h0M303 241.01h0M351.5 204.87h0M314.5 217.88h0M295 193.31h0M517.5 306.07h0M192.5 290.17h0M340.5 248.24h0M313.5 255.47h0M245 219.33h0M419 213.55h0M381 300.29h0M350 342.21h0M408 228h0M362 238.12h0M116 304.62h0M318 369.68h0M80 402.93h0M208.5 310.41h0M343.5 306.07h0M233.5 319.08h0M332.5 374.02h0M201 327.76h0M314.5 291.61h0M346.5 352.33h0M125.5 319.08h0M314 277.16h0M346 203.43h0M313 196.2h0M444 282.94h0M366 340.77h0M85 306.07h0M262.5 239.57h0M216.5 281.49h0M101.5 256.92h0M291 228h0M274.5 242.46h0M380.5 200.53h0M375 355.22h0M365 301.73h0M327 388.48h0M435 265.59h0M547 251.13h0M511.5 310.41h0M455.5 371.13h0M183 272.82h0M362.5 329.2h0M226 321.97h0M246.5 285.83h0M348 167.28h0M358 290.17h0M335.5 233.79h0M225 287.28h0M464.5 282.94h0M341 336.43h0M336.5 324.86h0M165 220.77h0M326.5 278.6h0M226 303.18h0M325.5 135.48h0M362 194.75h0M300 307.52h0M112 277.16h0M355 258.36h0M311 329.2h0M283 278.6h0M569 304.62h0M280 212.1h0M240 350.89h0M354 128.25h0M301.5 313.3h0M175.5 294.5h0M331.5 359.56h0M306.5 181.74h0M244 207.76h0M397.5 363.9h0M345 264.15h0M270.5 284.38h0M561.5 252.58h0M366 294.5h0M318 160.05h0M404.5 317.64h0M364.5 210.65h0M408.5 307.52h0M180 243.91h0M296.5 278.6h0M304 264.15h0M538 265.59h0M294.5 248.24h0M474.5 363.9h0M333.5 368.24h0M111.5 149.93h0M413 310.41h0M276.5 290.17h0M526 313.3h0M346.5 245.35h0M344 139.81h0M348 282.94h0M435 297.4h0M304.5 291.61h0M222 397.15h0M503 353.78h0M234 375.46h0M241 295.95h0M293 138.37h0M416 336.43h0M373.5 261.25h0M210.5 319.08h0M326.5 385.58h0M345 206.32h0M540 340.77h0M343 337.88h0M302.5 210.65h0M329.5 311.85h0M456 321.97h0M161.5 167.28h0M198.5 321.97h0M353 207.76h0M549.5 300.29h0M332 258.36h0M330.5 298.84h0M189.5 293.06h0M287 173.07h0M417 184.63h0M495 327.76h0M336.5 230.89h0M321.5 336.43h0M85 300.29h0M484 362.45h0M432 245.35h0M392 230.89h0M336.5 226.56h0M342.5 220.77h0M373 284.38h0M291 326.31h0M467 469.43h0M356.5 277.16h0M324.5 173.07h0M333.5 275.71h0M218 249.69h0M315.5 180.29h0M326.5 199.09h0M348.5 228h0M321.5 254.03h0M421 314.74h0M437.5 226.56h0M273.5 280.05h0M260 233.79h0M343 316.19h0M275 168.73h0M102.5 329.2h0M216 216.44h0M336.5 190.41h0M452 333.54h0M549 199.09h0M326 245.35h0M364 252.58h0M520 310.41h0M382 295.95h0M285 313.3h0M387.5 277.16h0M431.5 245.35h0M249 229.45h0M197.5 233.79h0M129.5 291.61h0M374.5 294.5h0M93 222.22h0M327 148.49h0M295.5 316.19h0M374.5 281.49h0M521 306.07h0M369 148.49h0M116.5 415.94h0M190 188.97h0M340 222.22h0M245.5 294.5h0M418.5 239.57h0M406 288.72h0M339.5 246.8h0M178.5 278.6h0M386.5 181.74h0M318 274.27h0M328 212.1h0M357 256.92h0M223 287.28h0M220 152.83h0M289.5 321.97h0M123.5 183.19h0M356 142.71h0M378 203.43h0M328 251.13h0M424.5 249.69h0M377.5 175.96h0M471.5 278.6h0M326.5 209.21h0M347 220.77h0M351 200.53h0M367 277.16h0M323.5 243.91h0M347 352.33h0M277.5 361.01h0M332 346.55h0M134 228h0M147 290.17h0M230.5 183.19h0M382 358.12h0M326.5 327.76h0M331.5 206.32h0M296 280.05h0M205.5 316.19h0M341 219.33h0M246 313.3h0M312.5 148.49h0M397.5 306.07h0M347.5 200.53h0M362 271.37h0M293 171.62h0M346 301.73h0M365.5 177.4h0M318 300.29h0M323 275.71h0M165 246.8h0M298.5 259.81h0M355.5 241.01h0M394 236.68h0M420.5 307.52h0M178.5 439.07h0M321.5 230.89h0M302.5 252.58h0M285.5 258.36h0M290.5 268.48h0M376 175.96h0M369 301.73h0M195.5 181.74h0M375 329.2h0M349 236.68h0M318 168.73h0M271.5 332.09h0M557 222.22h0M332 306.07h0M284 368.24h0M368.5 278.6h0M282 235.23h0M495 304.62h0M359 164.39h0M120 495.46h0M418.5 307.52h0M309.5 293.06h0M530.5 288.72h0M126.5 300.29h0M531 407.27h0M340.5 319.08h0M560.5 308.96h0M428 241.01h0M371 287.28h0M298.5 230.89h0M451.5 277.16h0M284.5 293.06h0M184.5 330.65h0M292 314.74h0M307.5 186.08h0M257 274.27h0M434.5 298.84h0M438 317.64h0M324 194.75h0M432 235.23h0M348 236.68h0M297 213.55h0M230.5 311.85h0M324 229.45h0M134 361.01h0M503.5 242.46h0M537.5 297.4h0M340 242.46h0M132 314.74h0M447.5 291.61h0M343.5 241.01h0M338.5 170.17h0M284 293.06h0M509.5 329.2h0M308.5 340.77h0M368.5 241.01h0M331.5 188.97h0M509.5 415.94h0M410.5 293.06h0M481.5 329.2h0M339.5 161.5h0M80 337.88h0M128 362.45h0M351 222.22h0M294.5 87.77h0M332.5 220.77h0M229.5 343.66h0M250.5 281.49h0M382 265.59h0M339 187.52h0M335.5 225.11h0M420 368.24h0M552.5 275.71h0M295 219.33h0M236.5 261.25h0M265 241.01h0M315.5 152.83h0M301 144.15h0M343 206.32h0M262.5 256.92h0M154 298.84h0M271.5 330.65h0M353.5 329.2h0M79.5 245.35h0M317 220.77h0M351 200.53h0M338 181.74h0M327 303.18h0M329 294.5h0M317.5 321.97h0M269.5 261.25h0M316.5 165.84h0M271 223.67h0M285 277.16h0M195 330.65h0M349 204.87h0M551.5 188.97h0M352 222.22h0M138 301.73h0M258 284.38h0M325 255.47h0M345.5 180.29h0M306.5 311.85h0M323 280.05h0M454.5 368.24h0M445.5 483.89h0M320.5 311.85h0M507 213.55h0M286 239.57h0M308.5 271.37h0M303.5 281.49h0M315 307.52h0M316 222.22h0M328.5 269.93h0M350.5 362.45h0M321 248.24h0M384.5 123.91h0M344 361.01h0M296 103.67h0M334.5 349.44h0M172 298.84h0M370 147.04h0M334 149.93h0M337.5 324.86h0M85 230.89h0M372 251.13h0M180 282.94h0M90 217.88h0M298.5 246.8h0M439 316.19h0M378.5 269.93h0M339.5 233.79h0M378 249.69h0M223.5 261.25h0M308.5 228h0M329 337.88h0M305 379.8h0M325 389.92h0M354 249.69h0M136 277.16h0M322 206.32h0M313.5 149.93h0M346 345.1h0M465.5 287.28h0M318.5 280.05h0M326.5 261.25h0M316 183.19h0M295 252.58h0M374.5 300.29h0M363 242.46h0M423 295.95h0M313.5 259.81h0M283.5 349.44h0M301 258.36h0M341.5 271.37h0M343 245.35h0M349.5 258.36h0M289 256.92h0M302.5 228h0M263 337.88h0M303 225.11h0M118.5 248.24h0M440.5 238.12h0M275.5 282.94h0M335 355.22h0M411.5 178.85h0M430.5 209.21h0M340 147.04h0M373 274.27h0M304 191.86h0M312.5 196.2h0M408.5 261.25h0M178 186.08h0M398 212.1h0M294 348h0M288.5 337.88h0M221 281.49h0M182.5 262.7h0M325 243.91h0M309 258.36h0M310 194.75h0M345 214.99h0M279 348h0M191.5 293.06h0M571.5 191.86h0M380 225.11h0M524.5 418.84h0M313 248.24h0M400 340.77h0M183 267.04h0M308 119.58h0M300.5 359.56h0M310 209.21h0M198.5 269.93h0M309.5 144.15h0M390 200.53h0M388 365.34h0M306 245.35h0M110.5 199.09h0M301 304.62h0M519.5 235.23h0M555.5 310.41h0M450.5 320.53h0M265 294.5h0M243.5 301.73h0M279 155.72h0M281 313.3h0M79 278.6h0M291 269.93h0M282.5 236.68h0M330 151.38h0M438 251.13h0M226.5 199.09h0M438 339.32h0M333 242.46h0M327 327.76h0M306.5 196.2h0M388.5 254.03h0M416.5 337.88h0M137 201.98h0M283 264.15h0M285 269.93h0M278.5 356.67h0M347.5 184.63h0M237 265.59h0M402 199.09h0M303.5 359.56h0M376 239.57h0M326 287.28h0M322.5 262.7h0M203.5 248.24h0M353.5 209.21h0M306.5 177.4h0M328.5 329.2h0M393.5 200.53h0M371.5 343.66h0M293.5 431.85h0M273 300.29h0M151 303.18h0M254.5 220.77h0M506 259.81h0M545 285.83h0M192.5 216.44h0M313 171.62h0M208 245.35h0M331.5 243.91h0M306 199.09h0M217 301.73h0M346.5 112.35h0M203 326.31h0M435.5 378.36h0M300 209.21h0M434.5 327.76h0M354 294.5h0M159 265.59h0M308 345.1h0M482 280.05h0M488 291.61h0M382.5 355.22h0M351.5 252.58h0M386.5 275.71h0M273 330.65h0M349.5 217.88h0M313 281.49h0M489.5 400.04h0M190.5 193.31h0M293 281.49h0M324 352.33h0M352.5 303.18h0M150 308.96h0M79 378.36h0M142.5 294.5h0M446 329.2h0M194 317.64h0M211 239.57h0M85.5 330.65h0M107.5 405.82h0M334.5 326.31h0M327 301.73h0M249 329.2h0M566 254.03h0M262 193.31h0M332.5 207.76h0M382 272.82h0M302.5 217.88h0M150 216.44h0M300.5 246.8h0M497 214.99h0M442 287.28h0M373.5 226.56h0M128 264.15h0M329 228h0M337 228h0M146.5 363.9h0M172.5 206.32h0M77.5 385.58h0M287 278.6h0M293 254.03h0M307 209.21h0M401.5 369.68h0M374.5 241.01h0M416 293.06h0M233 381.25h0M270.5 294.5h0M94 245.35h0M453.5 356.67h0M350.5 203.43h0M314 379.8h0M449.5 313.3h0M478.5 295.95h0M312 365.34h0M487 177.4h0M355.5 154.27h0M291.5 184.63h0M448.5 321.97h0M527.5 207.76h0M500.5 294.5h0M349 303.18h0M174 236.68h0M348.5 355.22h0M574.5 459.31h0M342.5 174.51h0M495.5 291.61h0M359.5 216.44h0M221.5 278.6h0M387.5 352.33h0M247 271.37h0M266.5 327.76h0M227.5 356.67h0M454.5 411.61h0M308.5 282.94h0M338.5 308.96h0M369.5 294.5h0M345.5 157.16h0M303 207.76h0M223 233.79h0M337 311.85h0M167 225.11h0M178.5 235.23h0M341.5 264.15h0M427.5 313.3h0M272 319.08h0M318 280.05h0M568.5 306.07h0M305 191.86h0M282.5 272.82h0M334 239.57h0M295 187.52h0M366 249.69h0M319 330.65h0M344.5 297.4h0M249 177.4h0M179.5 376.91h0M297.5 316.19h0M310 249.69h0M371.5 201.98h0M373.5 210.65h0M321 229.45h0M347 235.23h0M279 287.28h0M273.5 366.79h0M322.5 246.8h0M326 361.01h0M299.5 214.99h0M401.5 339.32h0M364.5 401.49h0M306.5 84.88h0M349 329.2h0M290.5 255.47h0M296.5 366.79h0M328 142.71h0M258.5 415.94h0M384.5 238.12h0M379 204.87h0M346.5 301.73h0M370.5 443.41h0M396.5 385.58h0M165.5 366.79h0M357 225.11h0M350.5 264.15h0M189 187.52h0M149.5 246.8h0M351 254.03h0M293.5 320.53h0M350 316.19h0M294 144.15h0M342 162.95h0M308 277.16h0M361 216.44h0M549 232.34h0M218 304.62h0M97.5 320.53h0M452.5 226.56h0M301 155.72h0M328.5 139.81h0M290.5 290.17h0M532.5 365.34h0M340 297.4h0M341.5 362.45h0M295.5 134.03h0M99.5 298.84h0M335.5 203.43h0M474.5 311.85h0M499.5 158.61h0M354.5 269.93h0M221.5 206.32h0M274.5 252.58h0M315.5 222.22h0M349 361.01h0M262 353.78h0M292.5 290.17h0M346 194.75h0M311.5 183.19h0M362 233.79h0M250.5 252.58h0M445.5 375.46h0M351.5 175.96h0M307 242.46h0M225 249.69h0M334 204.87h0M323.5 313.3h0M342 249.69h0M266 238.12h0M519.5 225.11h0M267.5 350.89h0M189 229.45h0M339.5 186.08h0M340 248.24h0M124.5 327.76h0M438.5 180.29h0M231 348h0M347 314.74h0M489.5 201.98h0M134 254.03h0M358 294.5h0M194 213.55h0M393 245.35h0M564 343.66h0M450.5 314.74h0M289.5 212.1h0M303.5 212.1h0M126.5 359.56h0M476 265.59h0M133 232.34h0M303 295.95h0M488 366.79h0M257 280.05h0M83 171.62h0M309.5 229.45h0M161 317.64h0M132.5 203.43h0M295 241.01h0M408.5 303.18h0M508 307.52h0M283 326.31h0M416.5 282.94h0M359.5 290.17h0M231.5 303.18h0M370.5 196.2h0M346 223.67h0M94 268.48h0M304 155.72h0M113 239.57h0M328.5 162.95h0M334 209.21h0M292 246.8h0M335.5 236.68h0M353.5 220.77h0M230.5 223.67h0M363 196.2h0M253.5 293.06h0M147 288.72h0M537.5 311.85h0M373.5 178.85h0M387 186.08h0M416 277.16h0M316 282.94h0M118 337.88h0M309.5 147.04h0M386.5 241.01h0M332.5 155.72h0M100.5 246.8h0M240 265.59h0M456.5 226.56h0M361 191.86h0M197.5 203.43h0M524 293.06h0M316 267.04h0M337.5 167.28h0M306 267.04h0M389.5 214.99h0M279.5 264.15h0M387.5 207.76h0M543 363.9h0M348.5 517.14h0M187 352.33h0M259.5 277.16h0M336 288.72h0M330.5 158.61h0M344 105.12h0M322 337.88h0M285.5 206.32h0M358.5 267.04h0M319 204.87h0M383 288.72h0M312 220.77h0M408 466.54h0M325 272.82h0M285.5 294.5h0M358 310.41h0M226.5 300.29h0M311 280.05h0M296 268.48h0M282.5 264.15h0M480.5 229.45h0M406 209.21h0M337.5 157.16h0M326.5 241.01h0M290.5 308.96h0M506 256.92h0M322 277.16h0M286 313.3h0M273 294.5h0M316.5 314.74h0M362.5 262.7h0M193 363.9h0M240.5 261.25h0M349.5 281.49h0M375.5 450.64h0M477 306.07h0M225 149.93h0M110 255.47h0M374 365.34h0M396 256.92h0M408.5 235.23h0M328.5 337.88h0M348 282.94h0M227.5 317.64h0M181 261.25h0M272 209.21h0M519.5 313.3h0M317.5 336.43h0M305.5 336.43h0M495.5 251.13h0M288.5 362.45h0M314.5 264.15h0M251.5 212.1h0M323 222.22h0M343 241.01h0M430 431.85h0M384.5 278.6h0M321 311.85h0M283.5 265.59h0M430.5 333.54h0M347 337.88h0M311 162.95h0M311 193.31h0M121 349.44h0M141.5 207.76h0M151 363.9h0M152 293.06h0M342.5 121.02h0M193 168.73h0M319.5 272.82h0M342.5 235.23h0M294.5 285.83h0M361.5 203.43h0M244 297.4h0M88.5 319.08h0M313.5 334.98h0M404.5 248.24h0M359.5 259.81h0M339.5 186.08h0M468 334.98h0M295.5 213.55h0M308 167.28h0M346.5 226.56h0M277.5 343.66h0M177.5 332.09h0M288.5 353.78h0M315 294.5h0M312 223.67h0M328.5 334.98h0M338 275.71h0M245 378.36h0M342.5 239.57h0M282.5 349.44h0M323.5 216.44h0M372.5 251.13h0M332.5 323.42h0M248 235.23h0M296 291.61h0M236.5 264.15h0M336.5 259.81h0M296.5 306.07h0M254 280.05h0M319 217.88h0M388.5 199.09h0M360 203.43h0M386.5 258.36h0M334 196.2h0M353 336.43h0M337.5 139.81h0M377.5 378.36h0M351.5 187.52h0M293 216.44h0M252.5 284.38h0M128 216.44h0M479 160.05h0M108.5 329.2h0M166.5 243.91h0M493.5 467.99h0M427.5 242.46h0M288 366.79h0M299.5 241.01h0M105 397.15h0M364 282.94h0M312.5 197.64h0M506 300.29h0M302.5 151.38h0M415.5 272.82h0M178.5 324.86h0M325 171.62h0M324 332.09h0M350 254.03h0M364.5 168.73h0M263 168.73h0M321 259.81h0M493 319.08h0M392.5 268.48h0M120 301.73h0M527 298.84h0M300.5 297.4h0M292.5 320.53h0M479.5 384.14h0M277.5 225.11h0M461.5 426.06h0M300 256.92h0M329.5 288.72h0M245.5 243.91h0M238 255.47h0M350.5 271.37h0M170.5 219.33h0M266 256.92h0M332.5 187.52h0M353.5 255.47h0M318.5 194.75h0M363.5 199.09h0M283.5 233.79h0M442 295.95h0M308 269.93h0M358 358.12h0M350.5 230.89h0M357 245.35h0M327 210.65h0M277.5 355.22h0M253 339.32h0M356.5 245.35h0M342 229.45h0M488.5 361.01h0M399.5 392.81h0M282 295.95h0M217 293.06h0M234.5 372.57h0M96 349.44h0M355.5 320.53h0M164 421.73h0M124.5 333.54h0M420.5 400.04h0M424.5 288.72h0M431 226.56h0M333.5 242.46h0M389.5 252.58h0M325.5 272.82h0M99.5 323.42h0M282 375.46h0M370.5 324.86h0M332.5 165.84h0M360.5 212.1h0M546 258.36h0M393 251.13h0M318 226.56h0M181.5 209.21h0M249 311.85h0M417.5 214.99h0M487 245.35h0M246 304.62h0M322.5 303.18h0M291.5 327.76h0M342 261.25h0M376 152.83h0M482 217.88h0M321 329.2h0M300 342.21h0M364 304.62h0M152.5 329.2h0M95 334.98h0M336.5 229.45h0M565.5 298.84h0M330 258.36h0M143 297.4h0M312 138.37h0M318 254.03h0M323 336.43h0M156 219.33h0M383 303.18h0M254 274.27h0M314 303.18h0M365.5 269.93h0M128.5 298.84h0M388 297.4h0M470 332.09h0M258.5 157.16h0M236.5 319.08h0M418.5 304.62h0M318 281.49h0M513.5 343.66h0M314 314.74h0M218 281.49h0M330 255.47h0M318 262.7h0M365.5 288.72h0M315.5 239.57h0M325.5 226.56h0M322.5 307.52h0M512.5 313.3h0M276 248.24h0M340 281.49h0M326.5 207.76h0M485.5 436.18h0M545 262.7h0M278.5 291.61h0M523.5 319.08h0M338.5 197.64h0M352.5 317.64h0M363.5 217.88h0M365.5 201.98h0M316.5 152.83h0M345 343.66h0M344.5 332.09h0M215 355.22h0M379.5 297.4h0M342 184.63h0M314 245.35h0M305 332.09h0" stroke="#000" stroke-width="1.65" stroke-linecap="square" fill="none"/>
</g>
<rect x="59.76" y="47.81" width="532.43" height="532.43" fill="none" stroke="#000" stroke-width="0.75"/>
<path d="M125.5 580.24H525.5M125.5 580.24v6.3M225.5 580.24v6.3M325.5 580.24v6.3M425.5 580.24v6.3M525.5 580.24v6.3" fill="none" stroke="#000" stroke-width="0.75"/>
<text x="125.5" y="602.4" text-anchor="middle" font-size="10.5">-400</text>
<text x="225.5" y="602.4" text-anchor="middle" font-size="10.5">-200</text>
<text x="325.5" y="602.4" text-anchor="middle" font-size="10.5">0</text>
<text x="425.5" y="602.4" text-anchor="middle" font-size="10.5">200</text>
<text x="525.5" y="602.4" text-anchor="middle" font-size="10.5">400</text>
<path d="M59.76 67.53V573.52M59.76 573.52h-6.3M59.76 501.24h-6.3M59.76 428.96h-6.3M59.76 356.67h-6.3M59.76 284.38h-6.3M59.76 212.1h-6.3M59.76 139.81h-6.3M59.76 67.53h-6.3" fill="none" stroke="#000" stroke-width="0.75"/>
<text transform="translate(45.3 573.52) rotate(-90)" text-anchor="middle" font-size="10.5">65</text>
<text transform="translate(45.3 501.24) rotate(-90)" text-anchor="middle" font-size="10.5">70</text>
<text transform="translate(45.3 428.96) rotate(-90)" text-anchor="middle" font-size="10.5">75</text>
<text transform="translate(45.3 356.67) rotate(-90)" text-anchor="middle" font-size="10.5">80</text>
<text transform="translate(45.3 284.38) rotate(-90)" text-anchor="middle" font-size="10.5">85</text>
<text transform="translate(45.3 212.1) rotate(-90)" text-anchor="middle" font-size="10.5">90</text>
<text transform="translate(45.3 139.81) rotate(-90)" text-anchor="middle" font-size="10.5">95</text>
<text transform="translate(45.3 67.53) rotate(-90)" text-anchor="middle" font-size="10.5">100</text>
</g>
<g id="panel2">
<text x="966.5" y="31.8" text-anchor="middle" font-weight="bold" font-size="21.5">Density heat map for the top hits</text>
<text x="965.98" y="626" text-anchor="middle" font-size="15.9">Distance to peak summit</text>
<text transform="translate(661.7 314.02) rotate(-90)" text-anchor="middle" font-size="15.9">Motif score</text>
<g clip-path="url(#c2)"><g filter="url(#hm)">
<rect x="683.76" y="31.81" width="568" height="568" fill="#000"/>
<path fill="#010101" d="M939.76 63.81h48v8h-48zM923.76 71.81h24v8h-24zM979.76 71.81h24v8h-24zM915.76 79.81h16v8h-16zM1003.76 79.81h16v8h-16zM899.76 87.81h16v8h-16zM1011.76 87.81h16v8h-16zM1195.76 87.81h24v8h-24zM899.76 95.81h8v8h-8zM1019.76 95.81h40v8h-40zM1187.76 95.81h16v8h-16zM1211.76 95.81h16v8h-16zM787.76 103.81h8v8h-8zM891.76 103.81h8v8h-8zM1027.76 103.81h16v8h-16zM1051.76 103.81h16v8h-16zM1171.76 103.81h48v8h-48zM771.76 111.81h16v8h-16zM795.76 111.81h16v8h-16zM891.76 111.81h8v8h-8zM1067.76 111.81h8v8h-8zM1163.76 111.81h16v8h-16zM1187.76 111.81h24v8h-24zM723.76 119.81h16v8h-16zM763.76 119.81h8v8h-8zM803.76 119.81h8v8h-8zM819.76 119.81h16v8h-16zM883.76 119.81h8v8h-8zM1067.76 119.81h16v8h-16zM1163.76 119.81h16v8h-16zM1187.76 119.81h16v8h-16zM715.76 127.81h8v8h-8zM739.76 127.81h32v8h-32zM803.76 127.81h40v8h-40zM875.76 127.81h16v8h-16zM1067.76 127.81h16v8h-16zM1171.76 127.81h64v8h-64zM707.76 135.81h8v8h-8zM747.76 135.81h16v8h-16zM803.76 135.81h16v8h-16zM843.76 135.81h8v8h-8zM859.76 135.81h16v8h-16zM1067.76 135.81h8v8h-8zM1091.76 135.81h40v8h-40zM1163.76 135.81h40v8h-40zM1235.76 135.81h8v8h-8zM699.76 143.81h8v8h-8zM843.76 143.81h24v8h-24zM1075.76 143.81h16v8h-16zM1131.76 143.81h16v8h-16zM1155.76 143.81h16v8h-16zM1187.76 143.81h16v8h-16zM1235.76 143.81h8v8h-8zM699.76 151.81h8v8h-8zM843.76 151.81h16v8h-16zM1083.76 151.81h8v8h-8zM1139.76 151.81h24v8h-24zM1195.76 151.81h8v8h-8zM1227.76 151.81h16v8h-16zM683.76 159.81h8v8h-8zM1139.76 159.81h16v8h-16zM1235.76 159.81h8v8h-8zM683.76 167.81h8v8h-8zM1131.76 167.81h24v8h-24zM1235.76 167.81h8v8h-8zM1139.76 175.81h16v8h-16zM683.76 191.81h8v8h-8zM1243.76 191.81h8v8h-8zM683.76 199.81h8v8h-8zM1243.76 199.81h8v8h-8zM1243.76 351.81h8v8h-8zM1243.76 359.81h8v8h-8zM1243.76 367.81h8v8h-8zM1243.76 375.81h8v8h-8zM1243.76 383.81h8v8h-8zM1243.76 391.81h8v8h-8zM1235.76 399.81h8v8h-8zM683.76 407.81h8v8h-8zM1227.76 407.81h8v8h-8zM699.76 415.81h16v8h-16zM747.76 415.81h24v8h-24zM1115.76 415.81h16v8h-16zM1187.76 415.81h16v8h-16zM1227.76 415.81h8v8h-8zM707.76 423.81h8v8h-8zM739.76 423.81h16v8h-16zM771.76 423.81h16v8h-16zM803.76 423.81h32v8h-32zM907.76 423.81h48v8h-48zM1115.76 423.81h24v8h-24zM1179.76 423.81h24v8h-24zM1235.76 423.81h8v8h-8zM707.76 431.81h8v8h-8zM739.76 431.81h8v8h-8zM779.76 431.81h32v8h-32zM827.76 431.81h16v8h-16zM875.76 431.81h32v8h-32zM947.76 431.81h8v8h-8zM1051.76 431.81h32v8h-32zM1115.76 431.81h8v8h-8zM1139.76 431.81h8v8h-8zM1163.76 431.81h40v8h-40zM1235.76 431.81h8v8h-8zM715.76 439.81h32v8h-32zM771.76 439.81h16v8h-16zM795.76 439.81h16v8h-16zM827.76 439.81h24v8h-24zM875.76 439.81h16v8h-16zM939.76 439.81h16v8h-16zM1043.76 439.81h8v8h-8zM1075.76 439.81h8v8h-8zM1099.76 439.81h24v8h-24zM1139.76 439.81h48v8h-48zM1243.76 439.81h8v8h-8zM723.76 447.81h32v8h-32zM779.76 447.81h64v8h-64zM851.76 447.81h64v8h-64zM939.76 447.81h8v8h-8zM1011.76 447.81h8v8h-8zM1027.76 447.81h16v8h-16zM1083.76 447.81h48v8h-48zM1155.76 447.81h8v8h-8zM1171.76 447.81h16v8h-16zM1203.76 447.81h16v8h-16zM1243.76 447.81h8v8h-8zM723.76 455.81h16v8h-16zM747.76 455.81h16v8h-16zM779.76 455.81h40v8h-40zM827.76 455.81h16v8h-16zM851.76 455.81h16v8h-16zM875.76 455.81h48v8h-48zM939.76 455.81h16v8h-16zM995.76 455.81h16v8h-16zM1107.76 455.81h32v8h-32zM1147.76 455.81h104v8h-104zM723.76 463.81h8v8h-8zM747.76 463.81h16v8h-16zM811.76 463.81h48v8h-48zM883.76 463.81h40v8h-40zM947.76 463.81h32v8h-32zM1107.76 463.81h8v8h-8zM1131.76 463.81h24v8h-24zM1163.76 463.81h16v8h-16zM1219.76 463.81h24v8h-24zM715.76 471.81h16v8h-16zM747.76 471.81h8v8h-8zM827.76 471.81h24v8h-24zM883.76 471.81h32v8h-32zM1107.76 471.81h72v8h-72zM1219.76 471.81h24v8h-24zM723.76 479.81h24v8h-24zM835.76 479.81h8v8h-8zM875.76 479.81h16v8h-16zM1155.76 479.81h16v8h-16zM1211.76 479.81h16v8h-16zM1235.76 479.81h8v8h-8zM731.76 487.81h8v8h-8zM843.76 487.81h40v8h-40zM1211.76 487.81h16v8h-16zM1235.76 487.81h8v8h-8zM1219.76 495.81h24v8h-24z"/>
<path fill="#020202" d="M947.76 71.81h32v8h-32zM931.76 79.81h8v8h-8zM995.76 79.81h8v8h-8zM915.76 87.81h8v8h-8zM1003.76 87.81h8v8h-8zM907.76 95.81h8v8h-8zM1011.76 95.81h8v8h-8zM1203.76 95.81h8v8h-8zM899.76 103.81h8v8h-8zM1019.76 103.81h8v8h-8zM1043.76 103.81h8v8h-8zM787.76 111.81h8v8h-8zM1027.76 111.81h40v8h-40zM1179.76 111.81h8v8h-8zM771.76 119.81h32v8h-32zM891.76 119.81h8v8h-8zM1059.76 119.81h8v8h-8zM1179.76 119.81h8v8h-8zM723.76 127.81h16v8h-16zM771.76 127.81h8v8h-8zM795.76 127.81h8v8h-8zM1059.76 127.81h8v8h-8zM715.76 135.81h8v8h-8zM739.76 135.81h8v8h-8zM763.76 135.81h8v8h-8zM819.76 135.81h24v8h-24zM875.76 135.81h8v8h-8zM1203.76 135.81h32v8h-32zM707.76 143.81h8v8h-8zM739.76 143.81h16v8h-16zM811.76 143.81h32v8h-32zM1067.76 143.81h8v8h-8zM1091.76 143.81h8v8h-8zM1123.76 143.81h8v8h-8zM1171.76 143.81h16v8h-16zM1203.76 143.81h8v8h-8zM1219.76 143.81h16v8h-16zM707.76 151.81h8v8h-8zM731.76 151.81h16v8h-16zM819.76 151.81h24v8h-24zM859.76 151.81h8v8h-8zM1075.76 151.81h8v8h-8zM1091.76 151.81h8v8h-8zM1131.76 151.81h8v8h-8zM1187.76 151.81h8v8h-8zM1203.76 151.81h24v8h-24zM691.76 159.81h48v8h-48zM819.76 159.81h40v8h-40zM1131.76 159.81h8v8h-8zM1155.76 159.81h8v8h-8zM1195.76 159.81h16v8h-16zM1227.76 159.81h8v8h-8zM827.76 167.81h16v8h-16zM1107.76 167.81h24v8h-24zM1155.76 167.81h8v8h-8zM683.76 175.81h8v8h-8zM1115.76 175.81h24v8h-24zM1155.76 175.81h8v8h-8zM1235.76 175.81h8v8h-8zM683.76 183.81h8v8h-8zM1147.76 183.81h8v8h-8zM1235.76 183.81h8v8h-8zM683.76 207.81h8v8h-8zM1243.76 207.81h8v8h-8zM1243.76 215.81h8v8h-8zM1243.76 223.81h8v8h-8zM1243.76 231.81h8v8h-8zM1243.76 239.81h8v8h-8zM1243.76 319.81h8v8h-8zM1243.76 327.81h8v8h-8zM1243.76 335.81h8v8h-8zM1243.76 343.81h8v8h-8zM683.76 359.81h8v8h-8zM1235.76 359.81h8v8h-8zM683.76 367.81h8v8h-8zM1235.76 367.81h8v8h-8zM683.76 375.81h8v8h-8zM1235.76 375.81h8v8h-8zM683.76 383.81h8v8h-8zM1235.76 383.81h8v8h-8zM795.76 391.81h8v8h-8zM1235.76 391.81h8v8h-8zM683.76 399.81h8v8h-8zM795.76 399.81h8v8h-8zM1227.76 399.81h8v8h-8zM691.76 407.81h16v8h-16zM747.76 407.81h16v8h-16zM795.76 407.81h16v8h-16zM1115.76 407.81h16v8h-16zM1219.76 407.81h8v8h-8zM715.76 415.81h8v8h-8zM739.76 415.81h8v8h-8zM771.76 415.81h56v8h-56zM907.76 415.81h48v8h-48zM1099.76 415.81h16v8h-16zM1131.76 415.81h8v8h-8zM1203.76 415.81h8v8h-8zM1219.76 415.81h8v8h-8zM715.76 423.81h8v8h-8zM787.76 423.81h16v8h-16zM835.76 423.81h8v8h-8zM875.76 423.81h32v8h-32zM955.76 423.81h24v8h-24zM1059.76 423.81h56v8h-56zM1139.76 423.81h8v8h-8zM1171.76 423.81h8v8h-8zM1203.76 423.81h8v8h-8zM1227.76 423.81h8v8h-8zM715.76 431.81h24v8h-24zM843.76 431.81h8v8h-8zM867.76 431.81h8v8h-8zM955.76 431.81h16v8h-16zM1043.76 431.81h8v8h-8zM1083.76 431.81h32v8h-32zM1147.76 431.81h16v8h-16zM1203.76 431.81h8v8h-8zM787.76 439.81h8v8h-8zM851.76 439.81h24v8h-24zM1035.76 439.81h8v8h-8zM1083.76 439.81h16v8h-16zM1187.76 439.81h32v8h-32zM1235.76 439.81h8v8h-8zM947.76 447.81h8v8h-8zM1003.76 447.81h8v8h-8zM1019.76 447.81h8v8h-8zM1187.76 447.81h16v8h-16zM1219.76 447.81h24v8h-24zM739.76 455.81h8v8h-8zM819.76 455.81h8v8h-8zM867.76 455.81h8v8h-8zM955.76 455.81h40v8h-40zM731.76 463.81h16v8h-16zM859.76 463.81h8v8h-8zM875.76 463.81h8v8h-8zM1115.76 463.81h16v8h-16zM1155.76 463.81h8v8h-8zM731.76 471.81h16v8h-16zM851.76 471.81h8v8h-8zM875.76 471.81h8v8h-8zM843.76 479.81h32v8h-32zM1227.76 479.81h8v8h-8zM1227.76 487.81h8v8h-8z"/>
<path fill="#030303" d="M939.76 79.81h8v8h-8zM979.76 79.81h16v8h-16zM923.76 87.81h8v8h-8zM907.76 103.81h8v8h-8zM899.76 111.81h8v8h-8zM1027.76 119.81h32v8h-32zM779.76 127.81h16v8h-16zM891.76 127.81h8v8h-8zM1043.76 127.81h16v8h-16zM723.76 135.81h16v8h-16zM771.76 135.81h8v8h-8zM795.76 135.81h8v8h-8zM883.76 135.81h8v8h-8zM1059.76 135.81h8v8h-8zM715.76 143.81h24v8h-24zM755.76 143.81h24v8h-24zM803.76 143.81h8v8h-8zM867.76 143.81h8v8h-8zM1059.76 143.81h8v8h-8zM1099.76 143.81h24v8h-24zM1211.76 143.81h8v8h-8zM715.76 151.81h16v8h-16zM811.76 151.81h8v8h-8zM1067.76 151.81h8v8h-8zM1123.76 151.81h8v8h-8zM1163.76 151.81h24v8h-24zM739.76 159.81h8v8h-8zM779.76 159.81h8v8h-8zM859.76 159.81h8v8h-8zM1083.76 159.81h16v8h-16zM1115.76 159.81h16v8h-16zM1163.76 159.81h8v8h-8zM1179.76 159.81h16v8h-16zM1211.76 159.81h16v8h-16zM691.76 167.81h8v8h-8zM731.76 167.81h8v8h-8zM819.76 167.81h8v8h-8zM843.76 167.81h24v8h-24zM1099.76 167.81h8v8h-8zM1163.76 167.81h8v8h-8zM1227.76 167.81h8v8h-8zM827.76 175.81h48v8h-48zM1099.76 175.81h16v8h-16zM1163.76 175.81h8v8h-8zM835.76 183.81h40v8h-40zM1139.76 183.81h8v8h-8zM1155.76 183.81h8v8h-8zM691.76 191.81h8v8h-8zM1235.76 191.81h8v8h-8zM691.76 199.81h8v8h-8zM683.76 215.81h8v8h-8zM683.76 223.81h8v8h-8zM683.76 231.81h8v8h-8zM1243.76 247.81h8v8h-8zM1243.76 287.81h8v8h-8zM1243.76 295.81h8v8h-8zM1243.76 311.81h8v8h-8zM683.76 351.81h8v8h-8zM683.76 391.81h8v8h-8zM747.76 391.81h8v8h-8zM787.76 391.81h8v8h-8zM803.76 391.81h8v8h-8zM747.76 399.81h16v8h-16zM787.76 399.81h8v8h-8zM803.76 399.81h8v8h-8zM1123.76 399.81h8v8h-8zM707.76 407.81h24v8h-24zM739.76 407.81h8v8h-8zM763.76 407.81h32v8h-32zM811.76 407.81h8v8h-8zM915.76 407.81h40v8h-40zM1035.76 407.81h8v8h-8zM1107.76 407.81h8v8h-8zM1131.76 407.81h8v8h-8zM1187.76 407.81h24v8h-24zM723.76 415.81h16v8h-16zM827.76 415.81h16v8h-16zM883.76 415.81h24v8h-24zM955.76 415.81h32v8h-32zM1075.76 415.81h24v8h-24zM1139.76 415.81h8v8h-8zM1179.76 415.81h8v8h-8zM1211.76 415.81h8v8h-8zM723.76 423.81h16v8h-16zM843.76 423.81h8v8h-8zM867.76 423.81h8v8h-8zM979.76 423.81h8v8h-8zM1043.76 423.81h16v8h-16zM1147.76 423.81h24v8h-24zM1211.76 423.81h16v8h-16zM851.76 431.81h16v8h-16zM971.76 431.81h8v8h-8zM1035.76 431.81h8v8h-8zM1211.76 431.81h24v8h-24zM955.76 439.81h8v8h-8zM1003.76 439.81h16v8h-16zM1027.76 439.81h8v8h-8zM1219.76 439.81h16v8h-16zM955.76 447.81h8v8h-8zM995.76 447.81h8v8h-8zM867.76 463.81h8v8h-8zM859.76 471.81h16v8h-16z"/>
<path fill="#040404" d="M947.76 79.81h32v8h-32zM995.76 87.81h8v8h-8zM915.76 95.81h8v8h-8zM1003.76 95.81h8v8h-8zM1011.76 103.81h8v8h-8zM1019.76 111.81h8v8h-8zM899.76 119.81h8v8h-8zM1035.76 127.81h8v8h-8zM779.76 135.81h16v8h-16zM1043.76 135.81h16v8h-16zM779.76 143.81h24v8h-24zM875.76 143.81h8v8h-8zM747.76 151.81h8v8h-8zM771.76 151.81h24v8h-24zM803.76 151.81h8v8h-8zM1059.76 151.81h8v8h-8zM1099.76 151.81h8v8h-8zM1115.76 151.81h8v8h-8zM787.76 159.81h8v8h-8zM811.76 159.81h8v8h-8zM1067.76 159.81h16v8h-16zM1099.76 159.81h16v8h-16zM1171.76 159.81h8v8h-8zM715.76 167.81h16v8h-16zM739.76 167.81h8v8h-8zM779.76 167.81h8v8h-8zM867.76 167.81h8v8h-8zM1083.76 167.81h16v8h-16zM1171.76 167.81h32v8h-32zM691.76 175.81h8v8h-8zM1091.76 175.81h8v8h-8zM1171.76 175.81h8v8h-8zM691.76 183.81h8v8h-8zM1131.76 183.81h8v8h-8zM1163.76 183.81h8v8h-8zM859.76 191.81h8v8h-8zM1147.76 191.81h16v8h-16zM1235.76 199.81h8v8h-8zM691.76 207.81h8v8h-8zM683.76 239.81h8v8h-8zM1243.76 255.81h8v8h-8zM1243.76 279.81h8v8h-8zM683.76 295.81h8v8h-8zM683.76 303.81h8v8h-8zM1243.76 303.81h8v8h-8zM683.76 311.81h8v8h-8zM1235.76 351.81h8v8h-8zM1227.76 359.81h8v8h-8zM1227.76 367.81h8v8h-8zM1227.76 375.81h8v8h-8zM739.76 383.81h8v8h-8zM787.76 383.81h16v8h-16zM1227.76 383.81h8v8h-8zM739.76 391.81h8v8h-8zM755.76 391.81h8v8h-8zM1123.76 391.81h16v8h-16zM1227.76 391.81h8v8h-8zM691.76 399.81h8v8h-8zM731.76 399.81h16v8h-16zM763.76 399.81h8v8h-8zM779.76 399.81h8v8h-8zM811.76 399.81h8v8h-8zM923.76 399.81h40v8h-40zM1027.76 399.81h8v8h-8zM1115.76 399.81h8v8h-8zM1131.76 399.81h8v8h-8zM1195.76 399.81h8v8h-8zM1219.76 399.81h8v8h-8zM731.76 407.81h8v8h-8zM819.76 407.81h8v8h-8zM907.76 407.81h8v8h-8zM955.76 407.81h16v8h-16zM1027.76 407.81h8v8h-8zM1091.76 407.81h16v8h-16zM1139.76 407.81h8v8h-8zM1211.76 407.81h8v8h-8zM843.76 415.81h8v8h-8zM875.76 415.81h8v8h-8zM987.76 415.81h8v8h-8zM1027.76 415.81h24v8h-24zM1059.76 415.81h16v8h-16zM1147.76 415.81h8v8h-8zM851.76 423.81h16v8h-16zM987.76 423.81h8v8h-8zM1027.76 423.81h16v8h-16zM979.76 431.81h8v8h-8zM1027.76 431.81h8v8h-8zM963.76 439.81h16v8h-16zM1019.76 439.81h8v8h-8zM963.76 447.81h32v8h-32z"/>
<path fill="#050505" d="M931.76 87.81h8v8h-8zM987.76 87.81h8v8h-8zM907.76 111.81h8v8h-8zM1019.76 119.81h8v8h-8zM1027.76 127.81h8v8h-8zM891.76 135.81h8v8h-8zM1035.76 135.81h8v8h-8zM883.76 143.81h8v8h-8zM1051.76 143.81h8v8h-8zM795.76 151.81h8v8h-8zM867.76 151.81h8v8h-8zM1107.76 151.81h8v8h-8zM747.76 159.81h8v8h-8zM771.76 159.81h8v8h-8zM795.76 159.81h16v8h-16zM867.76 159.81h8v8h-8zM1059.76 159.81h8v8h-8zM699.76 167.81h16v8h-16zM747.76 167.81h8v8h-8zM771.76 167.81h8v8h-8zM787.76 167.81h32v8h-32zM1075.76 167.81h8v8h-8zM1203.76 167.81h8v8h-8zM1219.76 167.81h8v8h-8zM739.76 175.81h24v8h-24zM819.76 175.81h8v8h-8zM875.76 175.81h8v8h-8zM1083.76 175.81h8v8h-8zM1179.76 175.81h8v8h-8zM1227.76 175.81h8v8h-8zM747.76 183.81h16v8h-16zM827.76 183.81h8v8h-8zM1091.76 183.81h8v8h-8zM1123.76 183.81h8v8h-8zM699.76 191.81h8v8h-8zM747.76 191.81h16v8h-16zM835.76 191.81h24v8h-24zM867.76 191.81h8v8h-8zM1163.76 191.81h8v8h-8zM699.76 199.81h8v8h-8zM1147.76 199.81h16v8h-16zM1235.76 207.81h8v8h-8zM683.76 247.81h8v8h-8zM1243.76 263.81h8v8h-8zM1243.76 271.81h8v8h-8zM683.76 343.81h8v8h-8zM691.76 359.81h8v8h-8zM691.76 367.81h8v8h-8zM691.76 375.81h8v8h-8zM731.76 383.81h8v8h-8zM747.76 383.81h8v8h-8zM803.76 383.81h8v8h-8zM1131.76 383.81h8v8h-8zM731.76 391.81h8v8h-8zM779.76 391.81h8v8h-8zM811.76 391.81h8v8h-8zM1219.76 391.81h8v8h-8zM715.76 399.81h16v8h-16zM771.76 399.81h8v8h-8zM819.76 399.81h8v8h-8zM915.76 399.81h8v8h-8zM963.76 399.81h8v8h-8zM1035.76 399.81h8v8h-8zM1139.76 399.81h8v8h-8zM1187.76 399.81h8v8h-8zM1203.76 399.81h16v8h-16zM827.76 407.81h16v8h-16zM891.76 407.81h16v8h-16zM971.76 407.81h24v8h-24zM1043.76 407.81h8v8h-8zM1075.76 407.81h16v8h-16zM1179.76 407.81h8v8h-8zM867.76 415.81h8v8h-8zM995.76 415.81h8v8h-8zM1051.76 415.81h8v8h-8zM1155.76 415.81h8v8h-8zM1171.76 415.81h8v8h-8zM995.76 423.81h8v8h-8zM1019.76 423.81h8v8h-8zM987.76 431.81h40v8h-40zM995.76 439.81h8v8h-8z"/>
<path fill="#060606" d="M939.76 87.81h8v8h-8zM923.76 95.81h8v8h-8zM915.76 103.81h8v8h-8zM899.76 127.81h8v8h-8zM1027.76 135.81h8v8h-8zM1043.76 143.81h8v8h-8zM755.76 151.81h16v8h-16zM1051.76 151.81h8v8h-8zM1051.76 159.81h8v8h-8zM763.76 167.81h8v8h-8zM875.76 167.81h8v8h-8zM1067.76 167.81h8v8h-8zM1211.76 167.81h8v8h-8zM699.76 175.81h8v8h-8zM723.76 175.81h16v8h-16zM763.76 175.81h8v8h-8zM795.76 175.81h24v8h-24zM1067.76 175.81h16v8h-16zM1187.76 175.81h8v8h-8zM699.76 183.81h8v8h-8zM739.76 183.81h8v8h-8zM763.76 183.81h8v8h-8zM875.76 183.81h8v8h-8zM1075.76 183.81h16v8h-16zM1099.76 183.81h24v8h-24zM1171.76 183.81h8v8h-8zM1227.76 183.81h8v8h-8zM707.76 191.81h8v8h-8zM739.76 191.81h8v8h-8zM827.76 191.81h8v8h-8zM1139.76 191.81h8v8h-8zM691.76 215.81h8v8h-8zM1235.76 215.81h8v8h-8zM683.76 255.81h8v8h-8zM683.76 287.81h8v8h-8zM683.76 319.81h8v8h-8zM683.76 327.81h8v8h-8zM683.76 335.81h8v8h-8zM1235.76 343.81h8v8h-8zM731.76 375.81h16v8h-16zM795.76 375.81h8v8h-8zM691.76 383.81h8v8h-8zM723.76 383.81h8v8h-8zM755.76 383.81h8v8h-8zM779.76 383.81h8v8h-8zM1123.76 383.81h8v8h-8zM1139.76 383.81h24v8h-24zM1219.76 383.81h8v8h-8zM691.76 391.81h8v8h-8zM723.76 391.81h8v8h-8zM763.76 391.81h16v8h-16zM819.76 391.81h8v8h-8zM923.76 391.81h48v8h-48zM1027.76 391.81h8v8h-8zM1115.76 391.81h8v8h-8zM1139.76 391.81h24v8h-24zM699.76 399.81h16v8h-16zM827.76 399.81h8v8h-8zM971.76 399.81h16v8h-16zM1019.76 399.81h8v8h-8zM1107.76 399.81h8v8h-8zM1147.76 399.81h8v8h-8zM843.76 407.81h8v8h-8zM883.76 407.81h8v8h-8zM1019.76 407.81h8v8h-8zM1067.76 407.81h8v8h-8zM1147.76 407.81h8v8h-8zM851.76 415.81h16v8h-16zM1019.76 415.81h8v8h-8zM1163.76 415.81h8v8h-8zM1003.76 423.81h16v8h-16zM979.76 439.81h16v8h-16z"/>
<path fill="#070707" d="M979.76 87.81h8v8h-8zM995.76 95.81h8v8h-8zM1003.76 103.81h8v8h-8zM1011.76 111.81h8v8h-8zM1019.76 127.81h8v8h-8zM891.76 143.81h8v8h-8zM1035.76 143.81h8v8h-8zM875.76 151.81h16v8h-16zM1043.76 151.81h8v8h-8zM763.76 159.81h8v8h-8zM875.76 159.81h8v8h-8zM755.76 167.81h8v8h-8zM883.76 167.81h8v8h-8zM1051.76 167.81h16v8h-16zM707.76 175.81h16v8h-16zM771.76 175.81h24v8h-24zM1059.76 175.81h8v8h-8zM1195.76 175.81h8v8h-8zM707.76 183.81h8v8h-8zM731.76 183.81h8v8h-8zM819.76 183.81h8v8h-8zM1067.76 183.81h8v8h-8zM1179.76 183.81h8v8h-8zM715.76 191.81h24v8h-24zM763.76 191.81h8v8h-8zM1227.76 191.81h8v8h-8zM707.76 199.81h56v8h-56zM1163.76 199.81h8v8h-8zM699.76 207.81h8v8h-8zM1147.76 207.81h16v8h-16zM691.76 223.81h8v8h-8zM1235.76 223.81h8v8h-8zM1235.76 327.81h8v8h-8zM1235.76 335.81h8v8h-8zM1219.76 359.81h8v8h-8zM1219.76 367.81h8v8h-8zM723.76 375.81h8v8h-8zM787.76 375.81h8v8h-8zM803.76 375.81h8v8h-8zM1219.76 375.81h8v8h-8zM811.76 383.81h8v8h-8zM875.76 383.81h16v8h-16zM1115.76 383.81h8v8h-8zM1163.76 383.81h8v8h-8zM715.76 391.81h8v8h-8zM827.76 391.81h8v8h-8zM915.76 391.81h8v8h-8zM971.76 391.81h8v8h-8zM1011.76 391.81h16v8h-16zM1035.76 391.81h8v8h-8zM1163.76 391.81h8v8h-8zM1187.76 391.81h32v8h-32zM835.76 399.81h8v8h-8zM899.76 399.81h16v8h-16zM987.76 399.81h8v8h-8zM1043.76 399.81h8v8h-8zM1155.76 399.81h8v8h-8zM1179.76 399.81h8v8h-8zM875.76 407.81h8v8h-8zM995.76 407.81h8v8h-8zM1051.76 407.81h16v8h-16zM1171.76 407.81h8v8h-8zM1003.76 415.81h16v8h-16z"/>
<path fill="#080808" d="M947.76 87.81h8v8h-8zM971.76 87.81h8v8h-8zM907.76 119.81h8v8h-8zM755.76 159.81h8v8h-8zM883.76 159.81h8v8h-8zM1043.76 159.81h8v8h-8zM883.76 175.81h8v8h-8zM1051.76 175.81h8v8h-8zM715.76 183.81h16v8h-16zM803.76 183.81h16v8h-16zM1059.76 183.81h8v8h-8zM1187.76 183.81h8v8h-8zM819.76 191.81h8v8h-8zM875.76 191.81h8v8h-8zM1083.76 191.81h8v8h-8zM1131.76 191.81h8v8h-8zM1171.76 191.81h8v8h-8zM763.76 199.81h8v8h-8zM835.76 199.81h8v8h-8zM1139.76 199.81h8v8h-8zM707.76 207.81h16v8h-16zM699.76 215.81h8v8h-8zM691.76 231.81h8v8h-8zM1235.76 231.81h8v8h-8zM1235.76 239.81h8v8h-8zM683.76 263.81h8v8h-8zM683.76 279.81h8v8h-8zM1235.76 319.81h8v8h-8zM691.76 351.81h8v8h-8zM1227.76 351.81h8v8h-8zM699.76 367.81h8v8h-8zM723.76 367.81h16v8h-16zM715.76 375.81h8v8h-8zM747.76 375.81h8v8h-8zM875.76 375.81h16v8h-16zM1131.76 375.81h16v8h-16zM715.76 383.81h8v8h-8zM763.76 383.81h16v8h-16zM819.76 383.81h32v8h-32zM891.76 383.81h8v8h-8zM1171.76 383.81h8v8h-8zM835.76 391.81h16v8h-16zM875.76 391.81h24v8h-24zM979.76 391.81h8v8h-8zM1003.76 391.81h8v8h-8zM1171.76 391.81h16v8h-16zM843.76 399.81h8v8h-8zM875.76 399.81h24v8h-24zM995.76 399.81h8v8h-8zM1011.76 399.81h8v8h-8zM1083.76 399.81h24v8h-24zM1163.76 399.81h16v8h-16zM851.76 407.81h8v8h-8zM867.76 407.81h8v8h-8zM1003.76 407.81h16v8h-16zM1155.76 407.81h8v8h-8z"/>
<path fill="#090909" d="M955.76 87.81h16v8h-16zM931.76 95.81h8v8h-8zM915.76 111.81h8v8h-8zM1011.76 119.81h8v8h-8zM899.76 135.81h8v8h-8zM1019.76 135.81h8v8h-8zM1027.76 143.81h8v8h-8zM891.76 151.81h8v8h-8zM1035.76 151.81h8v8h-8zM1043.76 167.81h8v8h-8zM1203.76 175.81h8v8h-8zM1219.76 175.81h8v8h-8zM771.76 183.81h8v8h-8zM795.76 183.81h8v8h-8zM883.76 183.81h8v8h-8zM1091.76 191.81h8v8h-8zM827.76 199.81h8v8h-8zM843.76 199.81h8v8h-8zM1227.76 199.81h8v8h-8zM763.76 207.81h8v8h-8zM1139.76 207.81h8v8h-8zM1163.76 207.81h8v8h-8zM707.76 215.81h8v8h-8zM691.76 239.81h8v8h-8zM683.76 271.81h8v8h-8zM699.76 359.81h8v8h-8zM715.76 367.81h8v8h-8zM739.76 367.81h8v8h-8zM883.76 367.81h8v8h-8zM699.76 375.81h8v8h-8zM779.76 375.81h8v8h-8zM811.76 375.81h8v8h-8zM835.76 375.81h16v8h-16zM891.76 375.81h8v8h-8zM1123.76 375.81h8v8h-8zM1147.76 375.81h24v8h-24zM851.76 383.81h24v8h-24zM923.76 383.81h16v8h-16zM1003.76 383.81h16v8h-16zM1179.76 383.81h8v8h-8zM1211.76 383.81h8v8h-8zM699.76 391.81h16v8h-16zM851.76 391.81h8v8h-8zM867.76 391.81h8v8h-8zM899.76 391.81h16v8h-16zM987.76 391.81h16v8h-16zM1107.76 391.81h8v8h-8zM851.76 399.81h8v8h-8zM1003.76 399.81h8v8h-8zM1051.76 399.81h8v8h-8zM1067.76 399.81h16v8h-16zM859.76 407.81h8v8h-8zM1163.76 407.81h8v8h-8z"/>
<path fill="#0a0a0a" d="M987.76 95.81h8v8h-8zM923.76 103.81h8v8h-8zM891.76 159.81h8v8h-8zM1035.76 159.81h8v8h-8zM1211.76 175.81h8v8h-8zM787.76 183.81h8v8h-8zM1051.76 183.81h8v8h-8zM1195.76 183.81h8v8h-8zM811.76 191.81h8v8h-8zM1075.76 191.81h8v8h-8zM1123.76 191.81h8v8h-8zM1179.76 191.81h8v8h-8zM819.76 199.81h8v8h-8zM851.76 199.81h24v8h-24zM1171.76 199.81h8v8h-8zM723.76 207.81h8v8h-8zM755.76 207.81h8v8h-8zM715.76 215.81h8v8h-8zM699.76 223.81h8v8h-8zM1235.76 247.81h8v8h-8zM1235.76 311.81h8v8h-8zM707.76 367.81h8v8h-8zM787.76 367.81h16v8h-16zM875.76 367.81h8v8h-8zM707.76 375.81h8v8h-8zM755.76 375.81h8v8h-8zM771.76 375.81h8v8h-8zM819.76 375.81h16v8h-16zM851.76 375.81h8v8h-8zM867.76 375.81h8v8h-8zM1051.76 375.81h16v8h-16zM1115.76 375.81h8v8h-8zM1171.76 375.81h16v8h-16zM699.76 383.81h16v8h-16zM899.76 383.81h24v8h-24zM939.76 383.81h8v8h-8zM979.76 383.81h8v8h-8zM995.76 383.81h8v8h-8zM1019.76 383.81h8v8h-8zM1107.76 383.81h8v8h-8zM1187.76 383.81h16v8h-16zM859.76 391.81h8v8h-8zM1043.76 391.81h8v8h-8zM859.76 399.81h16v8h-16zM1059.76 399.81h8v8h-8z"/>
<path fill="#0b0b0b" d="M1003.76 111.81h8v8h-8zM907.76 127.81h8v8h-8zM891.76 167.81h8v8h-8zM1035.76 167.81h8v8h-8zM1043.76 175.81h8v8h-8zM779.76 183.81h8v8h-8zM1219.76 183.81h8v8h-8zM771.76 191.81h8v8h-8zM803.76 191.81h8v8h-8zM1067.76 191.81h8v8h-8zM1099.76 191.81h8v8h-8zM771.76 199.81h8v8h-8zM1131.76 199.81h8v8h-8zM731.76 207.81h24v8h-24zM1131.76 207.81h8v8h-8zM1147.76 215.81h24v8h-24zM707.76 223.81h16v8h-16zM691.76 247.81h8v8h-8zM1235.76 287.81h8v8h-8zM691.76 295.81h8v8h-8zM1235.76 295.81h8v8h-8zM691.76 303.81h8v8h-8zM691.76 343.81h8v8h-8zM707.76 359.81h32v8h-32zM1211.76 359.81h8v8h-8zM747.76 367.81h8v8h-8zM779.76 367.81h8v8h-8zM803.76 367.81h8v8h-8zM891.76 367.81h8v8h-8zM1043.76 367.81h16v8h-16zM1091.76 367.81h8v8h-8zM1131.76 367.81h16v8h-16zM1211.76 367.81h8v8h-8zM763.76 375.81h8v8h-8zM859.76 375.81h8v8h-8zM899.76 375.81h8v8h-8zM1043.76 375.81h8v8h-8zM1107.76 375.81h8v8h-8zM1211.76 375.81h8v8h-8zM947.76 383.81h32v8h-32zM987.76 383.81h8v8h-8zM1027.76 383.81h40v8h-40zM1203.76 383.81h8v8h-8zM1051.76 391.81h8v8h-8z"/>
<path fill="#0c0c0c" d="M939.76 95.81h8v8h-8zM995.76 103.81h8v8h-8zM899.76 143.81h8v8h-8zM1027.76 151.81h8v8h-8zM883.76 191.81h8v8h-8zM1107.76 191.81h16v8h-16zM1187.76 191.81h8v8h-8zM1179.76 199.81h8v8h-8zM771.76 207.81h8v8h-8zM819.76 207.81h16v8h-16zM1171.76 207.81h8v8h-8zM1227.76 207.81h8v8h-8zM723.76 215.81h8v8h-8zM1123.76 215.81h24v8h-24zM699.76 231.81h8v8h-8zM1235.76 255.81h8v8h-8zM1235.76 279.81h8v8h-8zM1235.76 303.81h8v8h-8zM691.76 311.81h8v8h-8zM699.76 351.81h8v8h-8zM739.76 359.81h8v8h-8zM819.76 359.81h16v8h-16zM875.76 359.81h16v8h-16zM1091.76 359.81h8v8h-8zM771.76 367.81h8v8h-8zM811.76 367.81h48v8h-48zM867.76 367.81h8v8h-8zM1059.76 367.81h8v8h-8zM1083.76 367.81h8v8h-8zM1099.76 367.81h8v8h-8zM1147.76 367.81h8v8h-8zM1171.76 367.81h8v8h-8zM1035.76 375.81h8v8h-8zM1067.76 375.81h8v8h-8zM1091.76 375.81h16v8h-16zM1187.76 375.81h8v8h-8zM1067.76 383.81h8v8h-8zM1059.76 391.81h32v8h-32zM1099.76 391.81h8v8h-8z"/>
<path fill="#0d0d0d" d="M979.76 95.81h8v8h-8zM1011.76 127.81h8v8h-8zM1019.76 143.81h8v8h-8zM891.76 175.81h8v8h-8zM1203.76 183.81h8v8h-8zM779.76 191.81h8v8h-8zM795.76 191.81h8v8h-8zM1059.76 191.81h8v8h-8zM1219.76 191.81h8v8h-8zM811.76 199.81h8v8h-8zM875.76 199.81h8v8h-8zM1123.76 199.81h8v8h-8zM835.76 207.81h8v8h-8zM1123.76 207.81h8v8h-8zM819.76 215.81h8v8h-8zM1115.76 215.81h8v8h-8zM1115.76 223.81h8v8h-8zM1235.76 271.81h8v8h-8zM691.76 319.81h8v8h-8zM819.76 351.81h16v8h-16zM1091.76 351.81h8v8h-8zM1219.76 351.81h8v8h-8zM779.76 359.81h16v8h-16zM811.76 359.81h8v8h-8zM891.76 359.81h8v8h-8zM1083.76 359.81h8v8h-8zM859.76 367.81h8v8h-8zM899.76 367.81h8v8h-8zM1035.76 367.81h8v8h-8zM1123.76 367.81h8v8h-8zM1155.76 367.81h16v8h-16zM1179.76 367.81h8v8h-8zM907.76 375.81h8v8h-8zM1003.76 375.81h8v8h-8zM1083.76 375.81h8v8h-8zM1203.76 375.81h8v8h-8zM1099.76 383.81h8v8h-8zM1091.76 391.81h8v8h-8z"/>
<path fill="#0e0e0e" d="M947.76 95.81h8v8h-8zM915.76 119.81h8v8h-8zM899.76 151.81h8v8h-8zM1027.76 159.81h8v8h-8zM1043.76 183.81h8v8h-8zM1211.76 183.81h8v8h-8zM787.76 191.81h8v8h-8zM1083.76 199.81h8v8h-8zM1115.76 207.81h8v8h-8zM1179.76 207.81h8v8h-8zM763.76 215.81h16v8h-16zM1171.76 215.81h8v8h-8zM1227.76 215.81h8v8h-8zM723.76 223.81h8v8h-8zM1123.76 223.81h8v8h-8zM707.76 231.81h16v8h-16zM1235.76 263.81h8v8h-8zM691.76 287.81h8v8h-8zM691.76 327.81h8v8h-8zM691.76 335.81h8v8h-8zM1227.76 343.81h8v8h-8zM707.76 351.81h8v8h-8zM835.76 351.81h8v8h-8zM1083.76 351.81h8v8h-8zM747.76 359.81h8v8h-8zM771.76 359.81h8v8h-8zM795.76 359.81h16v8h-16zM835.76 359.81h16v8h-16zM859.76 359.81h16v8h-16zM1099.76 359.81h8v8h-8zM755.76 367.81h16v8h-16zM1075.76 367.81h8v8h-8zM1107.76 367.81h16v8h-16zM1187.76 367.81h8v8h-8zM915.76 375.81h24v8h-24zM987.76 375.81h16v8h-16zM1011.76 375.81h8v8h-8zM1027.76 375.81h8v8h-8zM1075.76 375.81h8v8h-8zM1195.76 375.81h8v8h-8zM1075.76 383.81h24v8h-24z"/>
<path fill="#0f0f0f" d="M971.76 95.81h8v8h-8zM931.76 103.81h8v8h-8zM907.76 135.81h8v8h-8zM899.76 159.81h8v8h-8zM1035.76 175.81h8v8h-8zM891.76 183.81h8v8h-8zM1051.76 191.81h8v8h-8zM1195.76 191.81h8v8h-8zM779.76 199.81h8v8h-8zM803.76 199.81h8v8h-8zM1075.76 199.81h8v8h-8zM1091.76 199.81h8v8h-8zM1115.76 199.81h8v8h-8zM1187.76 199.81h8v8h-8zM779.76 207.81h8v8h-8zM811.76 207.81h8v8h-8zM731.76 215.81h8v8h-8zM755.76 215.81h8v8h-8zM811.76 215.81h8v8h-8zM827.76 215.81h8v8h-8zM811.76 223.81h8v8h-8zM699.76 239.81h8v8h-8zM691.76 255.81h8v8h-8zM1091.76 343.81h8v8h-8zM1163.76 343.81h8v8h-8zM739.76 351.81h8v8h-8zM779.76 351.81h8v8h-8zM843.76 351.81h8v8h-8zM875.76 351.81h8v8h-8zM1099.76 351.81h8v8h-8zM1147.76 351.81h16v8h-16zM851.76 359.81h8v8h-8zM899.76 359.81h8v8h-8zM1131.76 359.81h48v8h-48zM1067.76 367.81h8v8h-8zM1203.76 367.81h8v8h-8zM939.76 375.81h8v8h-8zM979.76 375.81h8v8h-8zM1019.76 375.81h8v8h-8z"/>
<path fill="#101010" d="M955.76 95.81h8v8h-8zM923.76 111.81h8v8h-8zM1003.76 119.81h8v8h-8zM1011.76 135.81h8v8h-8zM787.76 199.81h8v8h-8zM883.76 199.81h8v8h-8zM1099.76 199.81h16v8h-16zM1219.76 199.81h8v8h-8zM843.76 207.81h8v8h-8zM1179.76 215.81h8v8h-8zM803.76 223.81h8v8h-8zM1131.76 223.81h8v8h-8zM1163.76 223.81h8v8h-8zM1227.76 223.81h8v8h-8zM723.76 231.81h8v8h-8zM1227.76 231.81h8v8h-8zM1171.76 239.81h8v8h-8zM819.76 343.81h16v8h-16zM1083.76 343.81h8v8h-8zM1155.76 343.81h8v8h-8zM1171.76 343.81h8v8h-8zM715.76 351.81h8v8h-8zM731.76 351.81h8v8h-8zM747.76 351.81h8v8h-8zM771.76 351.81h8v8h-8zM811.76 351.81h8v8h-8zM851.76 351.81h24v8h-24zM883.76 351.81h8v8h-8zM1139.76 351.81h8v8h-8zM1163.76 351.81h8v8h-8zM1211.76 351.81h8v8h-8zM755.76 359.81h16v8h-16zM1043.76 359.81h8v8h-8zM1075.76 359.81h8v8h-8zM1107.76 359.81h8v8h-8zM1123.76 359.81h8v8h-8zM1179.76 359.81h8v8h-8zM1203.76 359.81h8v8h-8zM907.76 367.81h8v8h-8zM1027.76 367.81h8v8h-8zM1195.76 367.81h8v8h-8z"/>
<path fill="#111111" d="M963.76 95.81h8v8h-8zM987.76 103.81h8v8h-8zM1019.76 151.81h8v8h-8zM899.76 167.81h8v8h-8zM1027.76 167.81h8v8h-8zM891.76 191.81h8v8h-8zM1211.76 191.81h8v8h-8zM795.76 199.81h8v8h-8zM851.76 207.81h8v8h-8zM1187.76 207.81h8v8h-8zM739.76 215.81h16v8h-16zM779.76 215.81h8v8h-8zM803.76 215.81h8v8h-8zM1107.76 215.81h8v8h-8zM819.76 223.81h8v8h-8zM1107.76 223.81h8v8h-8zM1171.76 223.81h8v8h-8zM1115.76 231.81h8v8h-8zM1171.76 231.81h8v8h-8zM1179.76 239.81h8v8h-8zM1227.76 239.81h8v8h-8zM1171.76 247.81h8v8h-8zM771.76 327.81h8v8h-8zM1227.76 327.81h8v8h-8zM1163.76 335.81h16v8h-16zM1227.76 335.81h8v8h-8zM699.76 343.81h8v8h-8zM771.76 343.81h16v8h-16zM835.76 343.81h16v8h-16zM1099.76 343.81h8v8h-8zM1147.76 343.81h8v8h-8zM723.76 351.81h8v8h-8zM763.76 351.81h8v8h-8zM787.76 351.81h8v8h-8zM891.76 351.81h8v8h-8zM1107.76 351.81h8v8h-8zM1131.76 351.81h8v8h-8zM1171.76 351.81h8v8h-8zM1035.76 359.81h8v8h-8zM1051.76 359.81h8v8h-8zM1115.76 359.81h8v8h-8zM971.76 375.81h8v8h-8z"/>
<path fill="#121212" d="M995.76 111.81h8v8h-8zM1043.76 191.81h8v8h-8zM1203.76 191.81h8v8h-8zM1067.76 199.81h8v8h-8zM787.76 207.81h8v8h-8zM803.76 207.81h8v8h-8zM859.76 207.81h16v8h-16zM1083.76 207.81h8v8h-8zM1107.76 207.81h8v8h-8zM1187.76 215.81h8v8h-8zM731.76 223.81h8v8h-8zM795.76 223.81h8v8h-8zM1139.76 223.81h24v8h-24zM1179.76 231.81h8v8h-8zM707.76 239.81h8v8h-8zM1179.76 247.81h8v8h-8zM691.76 279.81h8v8h-8zM779.76 327.81h8v8h-8zM771.76 335.81h16v8h-16zM811.76 343.81h8v8h-8zM851.76 343.81h16v8h-16zM875.76 343.81h8v8h-8zM1107.76 343.81h8v8h-8zM1139.76 343.81h8v8h-8zM755.76 351.81h8v8h-8zM1115.76 351.81h16v8h-16zM1027.76 359.81h8v8h-8zM1187.76 359.81h8v8h-8zM1011.76 367.81h16v8h-16zM947.76 375.81h8v8h-8z"/>
<path fill="#131313" d="M915.76 127.81h8v8h-8zM907.76 143.81h8v8h-8zM1035.76 183.81h8v8h-8zM795.76 207.81h8v8h-8zM1091.76 207.81h8v8h-8zM787.76 215.81h16v8h-16zM835.76 215.81h8v8h-8zM771.76 223.81h24v8h-24zM1179.76 223.81h8v8h-8zM731.76 231.81h8v8h-8zM803.76 231.81h8v8h-8zM1123.76 231.81h8v8h-8zM715.76 239.81h8v8h-8zM699.76 247.81h8v8h-8zM1163.76 247.81h8v8h-8zM691.76 263.81h8v8h-8zM771.76 319.81h8v8h-8zM1227.76 319.81h8v8h-8zM1139.76 335.81h8v8h-8zM1155.76 335.81h8v8h-8zM707.76 343.81h8v8h-8zM739.76 343.81h8v8h-8zM763.76 343.81h8v8h-8zM867.76 343.81h8v8h-8zM883.76 343.81h8v8h-8zM1131.76 343.81h8v8h-8zM795.76 351.81h16v8h-16zM899.76 351.81h8v8h-8zM1075.76 351.81h8v8h-8zM1179.76 351.81h8v8h-8zM907.76 359.81h8v8h-8zM1059.76 359.81h16v8h-16zM1195.76 359.81h8v8h-8zM915.76 367.81h24v8h-24zM1003.76 367.81h8v8h-8zM963.76 375.81h8v8h-8z"/>
<path fill="#141414" d="M939.76 103.81h8v8h-8zM1059.76 199.81h8v8h-8zM1195.76 199.81h8v8h-8zM875.76 207.81h8v8h-8zM1099.76 207.81h8v8h-8zM1219.76 207.81h8v8h-8zM1083.76 215.81h8v8h-8zM827.76 223.81h8v8h-8zM795.76 231.81h8v8h-8zM1163.76 231.81h8v8h-8zM723.76 239.81h8v8h-8zM1163.76 239.81h8v8h-8zM1187.76 239.81h8v8h-8zM1171.76 255.81h8v8h-8zM779.76 319.81h8v8h-8zM1139.76 327.81h8v8h-8zM811.76 335.81h16v8h-16zM1091.76 335.81h8v8h-8zM1131.76 335.81h8v8h-8zM1147.76 335.81h8v8h-8zM715.76 343.81h8v8h-8zM731.76 343.81h8v8h-8zM747.76 343.81h16v8h-16zM891.76 343.81h8v8h-8zM1115.76 343.81h16v8h-16zM1179.76 343.81h8v8h-8zM1203.76 351.81h8v8h-8zM1019.76 359.81h8v8h-8zM995.76 367.81h8v8h-8zM955.76 375.81h8v8h-8z"/>
<path fill="#151515" d="M1011.76 143.81h8v8h-8zM899.76 175.81h8v8h-8zM891.76 199.81h8v8h-8zM1075.76 207.81h8v8h-8zM1195.76 207.81h8v8h-8zM1091.76 215.81h16v8h-16zM1195.76 215.81h8v8h-8zM739.76 223.81h8v8h-8zM763.76 223.81h8v8h-8zM1187.76 223.81h8v8h-8zM779.76 231.81h16v8h-16zM811.76 231.81h8v8h-8zM1107.76 231.81h8v8h-8zM1131.76 231.81h8v8h-8zM1187.76 231.81h8v8h-8zM731.76 239.81h8v8h-8zM1227.76 247.81h8v8h-8zM1163.76 255.81h8v8h-8zM691.76 271.81h8v8h-8zM763.76 327.81h8v8h-8zM1131.76 327.81h8v8h-8zM1163.76 327.81h16v8h-16zM699.76 335.81h8v8h-8zM763.76 335.81h8v8h-8zM827.76 335.81h8v8h-8zM843.76 335.81h48v8h-48zM1083.76 335.81h8v8h-8zM1099.76 335.81h8v8h-8zM1179.76 335.81h8v8h-8zM723.76 343.81h8v8h-8zM787.76 343.81h8v8h-8zM1219.76 343.81h8v8h-8z"/>
<path fill="#161616" d="M979.76 103.81h8v8h-8zM923.76 119.81h8v8h-8zM1003.76 127.81h8v8h-8zM907.76 151.81h8v8h-8zM1019.76 159.81h8v8h-8zM1027.76 175.81h8v8h-8zM1051.76 199.81h8v8h-8zM1211.76 199.81h8v8h-8zM843.76 215.81h8v8h-8zM755.76 223.81h8v8h-8zM1099.76 223.81h8v8h-8zM771.76 231.81h8v8h-8zM1187.76 247.81h8v8h-8zM699.76 295.81h8v8h-8zM699.76 303.81h8v8h-8zM699.76 311.81h8v8h-8zM699.76 319.81h8v8h-8zM763.76 319.81h8v8h-8zM1139.76 319.81h8v8h-8zM699.76 327.81h8v8h-8zM787.76 327.81h8v8h-8zM811.76 327.81h8v8h-8zM1147.76 327.81h8v8h-8zM723.76 335.81h16v8h-16zM787.76 335.81h8v8h-8zM835.76 335.81h8v8h-8zM1123.76 335.81h8v8h-8zM803.76 343.81h8v8h-8zM1075.76 343.81h8v8h-8zM907.76 351.81h8v8h-8zM1027.76 351.81h8v8h-8zM1187.76 351.81h16v8h-16zM915.76 359.81h8v8h-8zM939.76 367.81h8v8h-8zM987.76 367.81h8v8h-8z"/>
<path fill="#171717" d="M931.76 111.81h8v8h-8zM1035.76 191.81h8v8h-8zM1203.76 199.81h8v8h-8zM883.76 207.81h8v8h-8zM1075.76 215.81h8v8h-8zM1219.76 215.81h8v8h-8zM747.76 223.81h8v8h-8zM1195.76 223.81h8v8h-8zM739.76 231.81h8v8h-8zM1139.76 231.81h8v8h-8zM1155.76 231.81h8v8h-8zM739.76 239.81h8v8h-8zM771.76 239.81h16v8h-16zM731.76 247.81h8v8h-8zM1179.76 255.81h8v8h-8zM1227.76 287.81h8v8h-8zM1227.76 311.81h8v8h-8zM1131.76 319.81h8v8h-8zM819.76 327.81h8v8h-8zM859.76 327.81h16v8h-16zM1155.76 327.81h8v8h-8zM707.76 335.81h16v8h-16zM739.76 335.81h8v8h-8zM803.76 335.81h8v8h-8zM1107.76 335.81h16v8h-16zM1035.76 351.81h8v8h-8zM1011.76 359.81h8v8h-8z"/>
<path fill="#181818" d="M915.76 135.81h8v8h-8zM899.76 183.81h8v8h-8zM1067.76 207.81h8v8h-8zM1083.76 223.81h16v8h-16zM1219.76 223.81h8v8h-8zM763.76 231.81h8v8h-8zM819.76 231.81h8v8h-8zM1195.76 231.81h8v8h-8zM1219.76 231.81h8v8h-8zM763.76 239.81h8v8h-8zM787.76 239.81h16v8h-16zM707.76 247.81h8v8h-8zM723.76 247.81h8v8h-8zM739.76 247.81h8v8h-8zM1155.76 247.81h8v8h-8zM699.76 255.81h8v8h-8zM1227.76 279.81h8v8h-8zM1227.76 295.81h8v8h-8zM1147.76 319.81h8v8h-8zM803.76 327.81h8v8h-8zM875.76 327.81h8v8h-8zM1123.76 327.81h8v8h-8zM1179.76 327.81h8v8h-8zM755.76 335.81h8v8h-8zM891.76 335.81h8v8h-8zM795.76 343.81h8v8h-8zM899.76 343.81h8v8h-8zM1187.76 343.81h8v8h-8zM1019.76 351.81h8v8h-8zM923.76 359.81h8v8h-8zM979.76 367.81h8v8h-8z"/>
<path fill="#191919" d="M947.76 103.81h8v8h-8zM907.76 159.81h8v8h-8zM1043.76 199.81h8v8h-8zM1203.76 207.81h16v8h-16zM851.76 215.81h8v8h-8zM1203.76 215.81h8v8h-8zM835.76 223.81h8v8h-8zM747.76 231.81h8v8h-8zM1147.76 231.81h8v8h-8zM747.76 239.81h8v8h-8zM1123.76 239.81h16v8h-16zM1155.76 239.81h8v8h-8zM1195.76 239.81h8v8h-8zM1219.76 239.81h8v8h-8zM715.76 247.81h8v8h-8zM771.76 247.81h8v8h-8zM1227.76 271.81h8v8h-8zM699.76 287.81h8v8h-8zM1227.76 303.81h8v8h-8zM755.76 319.81h8v8h-8zM723.76 327.81h16v8h-16zM755.76 327.81h8v8h-8zM795.76 327.81h8v8h-8zM851.76 327.81h8v8h-8zM747.76 335.81h8v8h-8zM795.76 335.81h8v8h-8zM1187.76 335.81h8v8h-8zM1211.76 343.81h8v8h-8zM1043.76 351.81h8v8h-8zM1067.76 351.81h8v8h-8z"/>
<path fill="#1a1a1a" d="M971.76 103.81h8v8h-8zM987.76 111.81h8v8h-8zM995.76 119.81h8v8h-8zM1075.76 223.81h8v8h-8zM1203.76 223.81h8v8h-8zM755.76 231.81h8v8h-8zM755.76 239.81h8v8h-8zM803.76 239.81h8v8h-8zM1139.76 239.81h8v8h-8zM763.76 247.81h8v8h-8zM779.76 247.81h8v8h-8zM1227.76 255.81h8v8h-8zM1171.76 263.81h8v8h-8zM771.76 311.81h8v8h-8zM1139.76 311.81h8v8h-8zM787.76 319.81h8v8h-8zM867.76 319.81h8v8h-8zM1155.76 319.81h24v8h-24zM707.76 327.81h16v8h-16zM739.76 327.81h8v8h-8zM827.76 327.81h8v8h-8zM1091.76 327.81h8v8h-8zM1219.76 335.81h8v8h-8zM915.76 351.81h8v8h-8zM931.76 359.81h8v8h-8zM1003.76 359.81h8v8h-8zM947.76 367.81h8v8h-8z"/>
<path fill="#1b1b1b" d="M1003.76 135.81h8v8h-8zM1011.76 151.81h8v8h-8zM1019.76 167.81h8v8h-8zM1059.76 207.81h8v8h-8zM859.76 215.81h8v8h-8zM1211.76 215.81h8v8h-8zM1211.76 223.81h8v8h-8zM1099.76 231.81h8v8h-8zM1203.76 231.81h16v8h-16zM1115.76 239.81h8v8h-8zM1147.76 239.81h8v8h-8zM747.76 247.81h8v8h-8zM787.76 247.81h8v8h-8zM1147.76 247.81h8v8h-8zM1195.76 247.81h8v8h-8zM1155.76 255.81h8v8h-8zM1163.76 263.81h8v8h-8zM1227.76 263.81h8v8h-8zM779.76 311.81h8v8h-8zM739.76 319.81h16v8h-16zM859.76 319.81h8v8h-8zM747.76 327.81h8v8h-8zM835.76 327.81h16v8h-16zM883.76 327.81h8v8h-8zM1083.76 327.81h8v8h-8zM1219.76 327.81h8v8h-8zM1075.76 335.81h8v8h-8zM1195.76 343.81h16v8h-16zM1051.76 351.81h8v8h-8z"/>
<path fill="#1c1c1c" d="M955.76 103.81h16v8h-16zM1027.76 183.81h8v8h-8zM899.76 191.81h8v8h-8zM891.76 207.81h8v8h-8zM1051.76 207.81h8v8h-8zM1067.76 215.81h8v8h-8zM843.76 223.81h8v8h-8zM827.76 231.81h8v8h-8zM755.76 247.81h8v8h-8zM795.76 247.81h8v8h-8zM1139.76 247.81h8v8h-8zM731.76 255.81h8v8h-8zM1187.76 255.81h8v8h-8zM699.76 263.81h8v8h-8zM763.76 311.81h8v8h-8zM1131.76 311.81h8v8h-8zM1147.76 311.81h8v8h-8zM731.76 319.81h8v8h-8zM819.76 319.81h8v8h-8zM875.76 319.81h8v8h-8zM1123.76 319.81h8v8h-8zM1099.76 327.81h8v8h-8zM1115.76 327.81h8v8h-8zM1187.76 327.81h8v8h-8zM907.76 343.81h8v8h-8zM1011.76 351.81h8v8h-8zM1059.76 351.81h8v8h-8zM971.76 367.81h8v8h-8z"/>
<path fill="#1d1d1d" d="M907.76 167.81h8v8h-8zM1035.76 199.81h8v8h-8zM867.76 215.81h8v8h-8zM1067.76 223.81h8v8h-8zM811.76 239.81h8v8h-8zM1203.76 239.81h8v8h-8zM707.76 255.81h8v8h-8zM723.76 255.81h8v8h-8zM739.76 255.81h8v8h-8zM699.76 279.81h8v8h-8zM755.76 311.81h8v8h-8zM707.76 319.81h8v8h-8zM723.76 319.81h8v8h-8zM811.76 319.81h8v8h-8zM1179.76 319.81h8v8h-8zM1107.76 327.81h8v8h-8zM899.76 335.81h8v8h-8zM1195.76 335.81h8v8h-8zM1027.76 343.81h8v8h-8zM1067.76 343.81h8v8h-8zM939.76 359.81h8v8h-8zM955.76 367.81h8v8h-8z"/>
<path fill="#1e1e1e" d="M923.76 127.81h8v8h-8zM915.76 143.81h8v8h-8zM1059.76 215.81h8v8h-8zM851.76 223.81h8v8h-8zM1083.76 231.81h16v8h-16zM1211.76 239.81h8v8h-8zM1131.76 247.81h8v8h-8zM715.76 255.81h8v8h-8zM763.76 255.81h16v8h-16zM755.76 279.81h16v8h-16zM739.76 311.81h16v8h-16zM1155.76 311.81h8v8h-8zM795.76 319.81h8v8h-8zM827.76 319.81h8v8h-8zM1211.76 335.81h8v8h-8zM1035.76 343.81h8v8h-8zM923.76 351.81h8v8h-8zM995.76 359.81h8v8h-8zM963.76 367.81h8v8h-8z"/>
<path fill="#1f1f1f" d="M939.76 111.81h8v8h-8zM1043.76 207.81h8v8h-8zM875.76 215.81h8v8h-8zM1051.76 215.81h8v8h-8zM835.76 231.81h8v8h-8zM1075.76 231.81h8v8h-8zM1107.76 239.81h8v8h-8zM803.76 247.81h8v8h-8zM747.76 255.81h8v8h-8zM779.76 255.81h24v8h-24zM1147.76 255.81h8v8h-8zM1179.76 263.81h8v8h-8zM699.76 271.81h8v8h-8zM755.76 271.81h16v8h-16zM707.76 295.81h8v8h-8zM731.76 311.81h8v8h-8zM867.76 311.81h8v8h-8zM1163.76 311.81h8v8h-8zM715.76 319.81h8v8h-8zM803.76 319.81h8v8h-8zM851.76 319.81h8v8h-8zM891.76 327.81h8v8h-8zM1195.76 327.81h8v8h-8zM1203.76 335.81h8v8h-8zM1019.76 343.81h8v8h-8z"/>
<path fill="#202020" d="M899.76 199.81h8v8h-8zM1059.76 223.81h8v8h-8zM819.76 239.81h8v8h-8zM1219.76 247.81h8v8h-8zM755.76 255.81h8v8h-8zM1139.76 255.81h8v8h-8zM1195.76 255.81h8v8h-8zM707.76 263.81h8v8h-8zM723.76 263.81h8v8h-8zM1155.76 263.81h8v8h-8zM731.76 279.81h8v8h-8zM747.76 279.81h8v8h-8zM723.76 287.81h16v8h-16zM755.76 287.81h16v8h-16zM707.76 311.81h8v8h-8zM787.76 311.81h8v8h-8zM1123.76 311.81h8v8h-8zM1171.76 311.81h8v8h-8zM835.76 319.81h8v8h-8zM1091.76 319.81h8v8h-8zM1219.76 319.81h8v8h-8z"/>
<path fill="#212121" d="M931.76 119.81h8v8h-8zM1003.76 143.81h8v8h-8zM1027.76 191.81h8v8h-8zM843.76 231.81h8v8h-8zM1067.76 231.81h8v8h-8zM1203.76 247.81h8v8h-8zM803.76 255.81h8v8h-8zM715.76 263.81h8v8h-8zM731.76 263.81h8v8h-8zM755.76 263.81h16v8h-16zM723.76 271.81h8v8h-8zM1219.76 271.81h8v8h-8zM723.76 279.81h8v8h-8zM1219.76 279.81h8v8h-8zM707.76 287.81h8v8h-8zM723.76 295.81h16v8h-16zM707.76 303.81h8v8h-8zM731.76 303.81h8v8h-8zM771.76 303.81h16v8h-16zM859.76 311.81h8v8h-8zM843.76 319.81h8v8h-8zM1083.76 319.81h8v8h-8zM1075.76 327.81h8v8h-8zM1203.76 327.81h16v8h-16zM915.76 343.81h8v8h-8zM1043.76 343.81h8v8h-8zM987.76 359.81h8v8h-8z"/>
<path fill="#222222" d="M979.76 111.81h8v8h-8zM995.76 127.81h8v8h-8zM1011.76 159.81h8v8h-8zM1019.76 175.81h8v8h-8zM883.76 215.81h8v8h-8zM859.76 223.81h8v8h-8zM1051.76 223.81h8v8h-8zM811.76 247.81h8v8h-8zM1123.76 247.81h8v8h-8zM1131.76 255.81h8v8h-8zM739.76 263.81h16v8h-16zM771.76 263.81h8v8h-8zM731.76 271.81h8v8h-8zM747.76 271.81h8v8h-8zM1163.76 271.81h8v8h-8zM739.76 279.81h8v8h-8zM771.76 279.81h8v8h-8zM715.76 287.81h8v8h-8zM739.76 287.81h16v8h-16zM771.76 287.81h8v8h-8zM1219.76 287.81h8v8h-8zM715.76 295.81h8v8h-8zM739.76 303.81h32v8h-32zM723.76 311.81h8v8h-8zM827.76 311.81h8v8h-8zM883.76 319.81h8v8h-8zM1099.76 319.81h8v8h-8zM1115.76 319.81h8v8h-8zM1187.76 319.81h8v8h-8zM1067.76 335.81h8v8h-8zM1003.76 351.81h8v8h-8zM947.76 359.81h8v8h-8z"/>
<path fill="#232323" d="M915.76 151.81h8v8h-8zM907.76 175.81h8v8h-8zM1043.76 215.81h8v8h-8zM1059.76 231.81h8v8h-8zM827.76 239.81h8v8h-8zM1099.76 239.81h8v8h-8zM1219.76 263.81h8v8h-8zM707.76 271.81h16v8h-16zM739.76 271.81h8v8h-8zM771.76 271.81h8v8h-8zM1171.76 271.81h8v8h-8zM707.76 279.81h16v8h-16zM779.76 287.81h8v8h-8zM739.76 295.81h8v8h-8zM755.76 295.81h32v8h-32zM723.76 303.81h8v8h-8zM1131.76 303.81h24v8h-24zM819.76 311.81h8v8h-8zM875.76 311.81h8v8h-8zM1107.76 319.81h8v8h-8zM1035.76 335.81h8v8h-8zM1059.76 343.81h8v8h-8zM931.76 351.81h8v8h-8z"/>
<path fill="#242424" d="M1035.76 207.81h8v8h-8zM851.76 231.81h8v8h-8zM1211.76 247.81h8v8h-8zM811.76 255.81h8v8h-8zM1203.76 255.81h8v8h-8zM1219.76 255.81h8v8h-8zM779.76 263.81h24v8h-24zM1187.76 263.81h8v8h-8zM1211.76 271.81h8v8h-8zM747.76 295.81h8v8h-8zM1219.76 295.81h8v8h-8zM1123.76 303.81h8v8h-8zM1155.76 303.81h8v8h-8zM715.76 311.81h8v8h-8zM835.76 311.81h8v8h-8zM1179.76 311.81h8v8h-8zM1195.76 319.81h8v8h-8zM907.76 335.81h8v8h-8zM1027.76 335.81h8v8h-8zM1011.76 343.81h8v8h-8zM1051.76 343.81h8v8h-8z"/>
<path fill="#252525" d="M987.76 119.81h8v8h-8zM1091.76 239.81h8v8h-8zM819.76 247.81h8v8h-8zM803.76 263.81h8v8h-8zM1147.76 263.81h8v8h-8zM1195.76 263.81h24v8h-24zM779.76 279.81h8v8h-8zM1211.76 279.81h8v8h-8zM715.76 303.81h8v8h-8zM787.76 303.81h8v8h-8zM1163.76 303.81h8v8h-8zM851.76 311.81h8v8h-8zM1091.76 311.81h8v8h-8zM1115.76 311.81h8v8h-8zM1219.76 311.81h8v8h-8zM1075.76 319.81h8v8h-8zM1043.76 335.81h8v8h-8zM979.76 359.81h8v8h-8z"/>
<path fill="#262626" d="M923.76 135.81h8v8h-8zM899.76 207.81h8v8h-8zM891.76 215.81h8v8h-8zM867.76 223.81h8v8h-8zM835.76 239.81h8v8h-8zM1083.76 239.81h8v8h-8zM827.76 247.81h8v8h-8zM1115.76 247.81h8v8h-8zM1123.76 255.81h8v8h-8zM1131.76 263.81h16v8h-16zM779.76 271.81h8v8h-8zM1155.76 271.81h8v8h-8zM1107.76 279.81h8v8h-8zM787.76 287.81h8v8h-8zM787.76 295.81h8v8h-8zM827.76 303.81h8v8h-8zM795.76 311.81h8v8h-8zM811.76 311.81h8v8h-8zM843.76 311.81h8v8h-8zM1059.76 311.81h8v8h-8zM1083.76 311.81h8v8h-8zM1099.76 311.81h8v8h-8zM1203.76 319.81h16v8h-16zM899.76 327.81h8v8h-8zM1035.76 327.81h8v8h-8zM1067.76 327.81h8v8h-8z"/>
<path fill="#272727" d="M947.76 111.81h8v8h-8zM1027.76 199.81h8v8h-8zM1075.76 239.81h8v8h-8zM819.76 255.81h8v8h-8zM1211.76 255.81h8v8h-8zM1123.76 263.81h8v8h-8zM787.76 271.81h8v8h-8zM1203.76 271.81h8v8h-8zM787.76 279.81h8v8h-8zM1115.76 279.81h8v8h-8zM1211.76 287.81h8v8h-8zM1115.76 303.81h8v8h-8zM1219.76 303.81h8v8h-8zM1051.76 311.81h8v8h-8zM1067.76 311.81h8v8h-8zM1107.76 311.81h8v8h-8zM1043.76 319.81h32v8h-32zM1043.76 327.81h8v8h-8zM1059.76 335.81h8v8h-8zM995.76 351.81h8v8h-8zM955.76 359.81h8v8h-8z"/>
<path fill="#282828" d="M915.76 159.81h8v8h-8zM859.76 231.81h8v8h-8zM1051.76 231.81h8v8h-8zM843.76 239.81h8v8h-8zM1067.76 239.81h8v8h-8zM835.76 247.81h8v8h-8zM827.76 255.81h8v8h-8zM811.76 263.81h8v8h-8zM795.76 271.81h8v8h-8zM1115.76 271.81h16v8h-16zM1099.76 279.81h8v8h-8zM1163.76 279.81h8v8h-8zM1203.76 279.81h8v8h-8zM1107.76 287.81h16v8h-16zM1115.76 295.81h8v8h-8zM1155.76 295.81h8v8h-8zM819.76 303.81h8v8h-8zM835.76 303.81h8v8h-8zM867.76 303.81h8v8h-8zM1107.76 303.81h8v8h-8zM1171.76 303.81h8v8h-8zM1075.76 311.81h8v8h-8zM1187.76 311.81h8v8h-8zM1035.76 319.81h8v8h-8zM1051.76 327.81h16v8h-16zM1019.76 335.81h8v8h-8zM1051.76 335.81h8v8h-8zM923.76 343.81h8v8h-8z"/>
<path fill="#292929" d="M971.76 111.81h8v8h-8zM1003.76 151.81h8v8h-8zM1019.76 183.81h8v8h-8zM1043.76 223.81h8v8h-8zM1059.76 239.81h8v8h-8zM1107.76 271.81h8v8h-8zM1179.76 271.81h8v8h-8zM1155.76 279.81h8v8h-8zM1107.76 295.81h8v8h-8zM1123.76 295.81h8v8h-8zM1147.76 295.81h8v8h-8zM859.76 303.81h8v8h-8zM1059.76 303.81h8v8h-8zM1099.76 303.81h8v8h-8zM803.76 311.81h8v8h-8zM1043.76 311.81h8v8h-8zM1027.76 327.81h8v8h-8zM971.76 359.81h8v8h-8z"/>
<path fill="#2a2a2a" d="M995.76 135.81h8v8h-8zM1011.76 167.81h8v8h-8zM907.76 183.81h8v8h-8zM1035.76 215.81h8v8h-8zM1107.76 247.81h8v8h-8zM835.76 255.81h8v8h-8zM819.76 263.81h8v8h-8zM1115.76 263.81h8v8h-8zM803.76 271.81h8v8h-8zM1099.76 271.81h8v8h-8zM1131.76 271.81h8v8h-8zM1147.76 271.81h8v8h-8zM795.76 279.81h8v8h-8zM1123.76 279.81h8v8h-8zM795.76 287.81h8v8h-8zM1099.76 287.81h8v8h-8zM1155.76 287.81h8v8h-8zM1203.76 287.81h8v8h-8zM1163.76 295.81h8v8h-8zM1211.76 295.81h8v8h-8zM1067.76 303.81h8v8h-8zM1091.76 303.81h8v8h-8zM1195.76 311.81h8v8h-8zM891.76 319.81h8v8h-8zM939.76 351.81h8v8h-8zM963.76 359.81h8v8h-8z"/>
<path fill="#2b2b2b" d="M955.76 111.81h8v8h-8zM875.76 223.81h8v8h-8zM851.76 239.81h8v8h-8zM1091.76 247.81h16v8h-16zM827.76 263.81h8v8h-8zM811.76 271.81h8v8h-8zM1139.76 271.81h8v8h-8zM1195.76 271.81h8v8h-8zM1091.76 279.81h8v8h-8zM1171.76 279.81h8v8h-8zM1123.76 287.81h8v8h-8zM1163.76 287.81h8v8h-8zM795.76 295.81h8v8h-8zM819.76 295.81h16v8h-16zM1099.76 295.81h8v8h-8zM1131.76 295.81h8v8h-8zM795.76 303.81h8v8h-8zM843.76 303.81h16v8h-16zM1051.76 303.81h8v8h-8zM883.76 311.81h8v8h-8zM1203.76 311.81h16v8h-16zM1003.76 343.81h8v8h-8z"/>
<path fill="#2c2c2c" d="M963.76 111.81h8v8h-8zM931.76 127.81h8v8h-8zM1115.76 255.81h8v8h-8zM819.76 271.81h8v8h-8zM1091.76 271.81h8v8h-8zM819.76 279.81h8v8h-8zM819.76 287.81h8v8h-8zM1139.76 295.81h8v8h-8zM1203.76 295.81h8v8h-8zM811.76 303.81h8v8h-8zM875.76 303.81h8v8h-8zM1075.76 303.81h16v8h-16zM1179.76 303.81h8v8h-8zM1211.76 303.81h8v8h-8zM1035.76 311.81h8v8h-8zM1027.76 319.81h8v8h-8zM915.76 335.81h8v8h-8z"/>
<path fill="#2d2d2d" d="M939.76 119.81h8v8h-8zM923.76 143.81h8v8h-8zM867.76 231.81h8v8h-8zM843.76 247.81h8v8h-8zM1083.76 247.81h8v8h-8zM1091.76 255.81h8v8h-8zM835.76 263.81h8v8h-8zM1091.76 263.81h24v8h-24zM1187.76 271.81h8v8h-8zM803.76 279.81h16v8h-16zM1147.76 279.81h8v8h-8zM811.76 287.81h8v8h-8zM1091.76 287.81h8v8h-8zM1147.76 287.81h8v8h-8zM1203.76 303.81h8v8h-8zM907.76 327.81h8v8h-8zM987.76 351.81h8v8h-8z"/>
<path fill="#2e2e2e" d="M1099.76 255.81h8v8h-8zM827.76 271.81h8v8h-8zM1131.76 279.81h8v8h-8zM1195.76 279.81h8v8h-8zM803.76 287.81h8v8h-8zM811.76 295.81h8v8h-8zM835.76 295.81h8v8h-8zM1091.76 295.81h8v8h-8zM1171.76 295.81h8v8h-8zM1187.76 303.81h16v8h-16z"/>
<path fill="#2f2f2f" d="M915.76 167.81h8v8h-8zM1027.76 207.81h8v8h-8zM859.76 239.81h8v8h-8zM843.76 255.81h8v8h-8zM1107.76 255.81h8v8h-8zM827.76 279.81h8v8h-8zM1139.76 279.81h8v8h-8zM827.76 287.81h8v8h-8zM1131.76 287.81h8v8h-8zM1171.76 287.81h8v8h-8zM1195.76 287.81h8v8h-8zM803.76 295.81h8v8h-8zM803.76 303.81h8v8h-8zM1011.76 335.81h8v8h-8zM947.76 351.81h8v8h-8z"/>
<path fill="#303030" d="M907.76 191.81h8v8h-8zM1019.76 191.81h8v8h-8zM899.76 215.81h8v8h-8zM883.76 223.81h8v8h-8zM1051.76 239.81h8v8h-8zM1075.76 247.81h8v8h-8zM1083.76 255.81h8v8h-8zM843.76 263.81h8v8h-8zM835.76 271.81h8v8h-8zM1083.76 279.81h8v8h-8zM1179.76 279.81h8v8h-8zM1139.76 287.81h8v8h-8zM843.76 295.81h8v8h-8zM859.76 295.81h8v8h-8zM1195.76 295.81h8v8h-8zM1043.76 303.81h8v8h-8zM1019.76 327.81h8v8h-8z"/>
<path fill="#313131" d="M979.76 119.81h8v8h-8zM987.76 127.81h8v8h-8zM1083.76 263.81h8v8h-8zM843.76 271.81h8v8h-8zM1083.76 271.81h8v8h-8zM1187.76 279.81h8v8h-8zM851.76 295.81h8v8h-8zM867.76 295.81h8v8h-8zM1059.76 295.81h16v8h-16zM1083.76 295.81h8v8h-8zM1179.76 295.81h8v8h-8zM1027.76 311.81h8v8h-8zM995.76 343.81h8v8h-8z"/>
<path fill="#323232" d="M995.76 143.81h8v8h-8zM1003.76 159.81h8v8h-8zM1043.76 231.81h8v8h-8zM851.76 247.81h8v8h-8zM1067.76 247.81h8v8h-8zM835.76 279.81h8v8h-8zM1083.76 287.81h8v8h-8zM1075.76 295.81h8v8h-8zM1187.76 295.81h8v8h-8zM899.76 319.81h8v8h-8zM931.76 343.81h8v8h-8z"/>
<path fill="#333333" d="M1035.76 223.81h8v8h-8zM867.76 239.81h8v8h-8zM843.76 279.81h16v8h-16zM835.76 287.81h32v8h-32zM1179.76 287.81h16v8h-16z"/>
<path fill="#343434" d="M923.76 151.81h8v8h-8zM1011.76 175.81h8v8h-8zM891.76 223.81h8v8h-8zM875.76 231.81h8v8h-8zM1059.76 247.81h8v8h-8zM851.76 271.81h8v8h-8zM1051.76 295.81h8v8h-8zM883.76 303.81h8v8h-8zM1035.76 303.81h8v8h-8zM1019.76 319.81h8v8h-8zM955.76 351.81h8v8h-8zM979.76 351.81h8v8h-8z"/>
<path fill="#353535" d="M859.76 247.81h8v8h-8zM851.76 255.81h8v8h-8zM859.76 279.81h8v8h-8zM1075.76 279.81h8v8h-8zM1075.76 287.81h8v8h-8zM875.76 295.81h8v8h-8zM891.76 311.81h8v8h-8zM923.76 335.81h8v8h-8z"/>
<path fill="#363636" d="M931.76 135.81h8v8h-8zM907.76 199.81h8v8h-8zM1075.76 255.81h8v8h-8zM851.76 263.81h8v8h-8zM1075.76 271.81h8v8h-8zM867.76 287.81h8v8h-8zM915.76 327.81h8v8h-8z"/>
<path fill="#373737" d="M947.76 119.81h8v8h-8zM1075.76 263.81h8v8h-8zM1067.76 287.81h8v8h-8zM1003.76 335.81h8v8h-8z"/>
<path fill="#383838" d="M1019.76 199.81h8v8h-8zM859.76 271.81h8v8h-8zM907.76 319.81h8v8h-8zM987.76 343.81h8v8h-8zM963.76 351.81h16v8h-16z"/>
<path fill="#393939" d="M915.76 175.81h8v8h-8zM1027.76 215.81h8v8h-8zM867.76 247.81h8v8h-8zM1043.76 295.81h8v8h-8zM1019.76 311.81h8v8h-8zM1011.76 327.81h8v8h-8z"/>
<path fill="#3a3a3a" d="M971.76 119.81h8v8h-8zM939.76 127.81h8v8h-8zM875.76 239.81h8v8h-8zM859.76 255.81h8v8h-8zM1067.76 255.81h8v8h-8zM1067.76 279.81h8v8h-8zM1059.76 287.81h8v8h-8zM1027.76 303.81h8v8h-8z"/>
<path fill="#3b3b3b" d="M995.76 151.81h8v8h-8zM907.76 207.81h8v8h-8zM1051.76 247.81h8v8h-8zM859.76 263.81h8v8h-8zM867.76 279.81h8v8h-8zM939.76 343.81h8v8h-8z"/>
<path fill="#3c3c3c" d="M987.76 135.81h8v8h-8zM923.76 159.81h8v8h-8zM883.76 231.81h8v8h-8zM1067.76 271.81h8v8h-8zM875.76 287.81h8v8h-8zM883.76 295.81h8v8h-8z"/>
<path fill="#3d3d3d" d="M955.76 119.81h8v8h-8zM1003.76 167.81h8v8h-8zM1011.76 183.81h8v8h-8zM899.76 223.81h8v8h-8zM1043.76 239.81h8v8h-8zM891.76 303.81h8v8h-8zM899.76 311.81h8v8h-8z"/>
<path fill="#3e3e3e" d="M963.76 119.81h8v8h-8zM1067.76 263.81h8v8h-8zM1051.76 287.81h8v8h-8zM1035.76 295.81h8v8h-8zM1011.76 319.81h8v8h-8zM995.76 335.81h8v8h-8z"/>
<path fill="#3f3f3f" d="M979.76 127.81h8v8h-8zM1035.76 231.81h8v8h-8zM867.76 255.81h8v8h-8zM1059.76 255.81h8v8h-8z"/>
<path fill="#404040" d="M931.76 143.81h8v8h-8zM875.76 247.81h8v8h-8zM867.76 271.81h8v8h-8zM1059.76 279.81h8v8h-8zM915.76 319.81h8v8h-8z"/>
<path fill="#414141" d="M923.76 327.81h8v8h-8zM979.76 343.81h8v8h-8z"/>
<path fill="#424242" d="M1019.76 207.81h8v8h-8zM867.76 263.81h8v8h-8zM1043.76 287.81h8v8h-8zM1019.76 303.81h8v8h-8zM931.76 335.81h8v8h-8zM947.76 343.81h8v8h-8z"/>
<path fill="#434343" d="M915.76 183.81h8v8h-8zM907.76 215.81h8v8h-8zM1027.76 223.81h8v8h-8zM891.76 231.81h8v8h-8zM875.76 279.81h8v8h-8zM907.76 311.81h8v8h-8zM1011.76 311.81h8v8h-8zM1003.76 327.81h8v8h-8z"/>
<path fill="#444444" d="M883.76 239.81h8v8h-8zM883.76 287.81h8v8h-8zM891.76 295.81h8v8h-8z"/>
<path fill="#454545" d="M995.76 159.81h8v8h-8zM923.76 167.81h8v8h-8zM1059.76 271.81h8v8h-8zM1027.76 295.81h8v8h-8zM899.76 303.81h8v8h-8z"/>
<path fill="#464646" d="M987.76 143.81h8v8h-8zM1011.76 191.81h8v8h-8zM1051.76 255.81h8v8h-8zM1059.76 263.81h8v8h-8zM1051.76 279.81h8v8h-8zM955.76 343.81h8v8h-8z"/>
<path fill="#474747" d="M947.76 127.81h8v8h-8zM939.76 135.81h8v8h-8zM987.76 335.81h8v8h-8z"/>
<path fill="#484848" d="M931.76 151.81h8v8h-8zM1043.76 247.81h8v8h-8zM875.76 255.81h8v8h-8zM1035.76 287.81h8v8h-8zM971.76 343.81h8v8h-8z"/>
<path fill="#494949" d="M1003.76 175.81h8v8h-8zM963.76 343.81h8v8h-8z"/>
<path fill="#4a4a4a" d="M875.76 271.81h8v8h-8zM1043.76 279.81h8v8h-8zM915.76 311.81h8v8h-8z"/>
<path fill="#4b4b4b" d="M971.76 127.81h8v8h-8zM899.76 231.81h8v8h-8zM883.76 247.81h8v8h-8z"/>
<path fill="#4c4c4c" d="M915.76 191.81h8v8h-8zM1035.76 239.81h8v8h-8zM875.76 263.81h8v8h-8zM1051.76 271.81h8v8h-8zM883.76 279.81h8v8h-8zM891.76 287.81h8v8h-8zM907.76 303.81h8v8h-8zM1011.76 303.81h8v8h-8zM1003.76 319.81h8v8h-8z"/>
<path fill="#4d4d4d" d="M979.76 135.81h8v8h-8zM1019.76 215.81h8v8h-8zM907.76 223.81h8v8h-8zM1051.76 263.81h8v8h-8zM923.76 319.81h8v8h-8z"/>
<path fill="#4e4e4e" d="M891.76 239.81h8v8h-8zM899.76 295.81h8v8h-8zM1019.76 295.81h8v8h-8zM995.76 327.81h8v8h-8z"/>
<path fill="#4f4f4f" d="M987.76 151.81h8v8h-8zM1027.76 231.81h8v8h-8zM939.76 335.81h8v8h-8z"/>
<path fill="#505050" d="M955.76 127.81h8v8h-8zM931.76 159.81h8v8h-8zM1035.76 279.81h8v8h-8zM1027.76 287.81h8v8h-8zM931.76 327.81h8v8h-8z"/>
<path fill="#515151" d="M963.76 127.81h8v8h-8zM923.76 175.81h8v8h-8zM1011.76 199.81h8v8h-8zM1043.76 255.81h8v8h-8zM1003.76 311.81h8v8h-8zM979.76 335.81h8v8h-8z"/>
<path fill="#525252" d="M939.76 143.81h8v8h-8zM995.76 167.81h8v8h-8zM1043.76 271.81h8v8h-8z"/>
<path fill="#535353" d="M915.76 199.81h8v8h-8zM883.76 255.81h8v8h-8z"/>
<path fill="#545454" d="M1043.76 263.81h8v8h-8zM883.76 271.81h8v8h-8zM915.76 303.81h8v8h-8z"/>
<path fill="#555555" d="M1003.76 183.81h8v8h-8zM891.76 279.81h8v8h-8z"/>
<path fill="#565656" d="M947.76 135.81h8v8h-8z"/>
<path fill="#575757" d="M1019.76 223.81h8v8h-8zM1035.76 247.81h8v8h-8zM883.76 263.81h8v8h-8zM899.76 287.81h8v8h-8zM923.76 311.81h8v8h-8zM987.76 327.81h8v8h-8zM947.76 335.81h8v8h-8z"/>
<path fill="#585858" d="M891.76 247.81h8v8h-8zM907.76 295.81h8v8h-8z"/>
<path fill="#595959" d="M979.76 143.81h8v8h-8zM915.76 207.81h8v8h-8zM907.76 231.81h8v8h-8zM899.76 239.81h8v8h-8zM1035.76 271.81h8v8h-8zM995.76 319.81h8v8h-8z"/>
<path fill="#5a5a5a" d="M987.76 159.81h8v8h-8zM931.76 167.81h8v8h-8zM1027.76 279.81h8v8h-8zM971.76 335.81h8v8h-8z"/>
<path fill="#5b5b5b" d="M971.76 135.81h8v8h-8zM939.76 151.81h8v8h-8zM1011.76 295.81h8v8h-8zM1003.76 303.81h8v8h-8z"/>
<path fill="#5c5c5c" d="M1011.76 207.81h8v8h-8zM1027.76 239.81h8v8h-8zM1019.76 287.81h8v8h-8zM931.76 319.81h8v8h-8zM955.76 335.81h8v8h-8z"/>
<path fill="#5d5d5d" d="M891.76 271.81h8v8h-8z"/>
<path fill="#5e5e5e" d="M923.76 183.81h8v8h-8zM1035.76 255.81h8v8h-8zM1035.76 263.81h8v8h-8zM963.76 335.81h8v8h-8z"/>
<path fill="#5f5f5f" d="M955.76 135.81h8v8h-8zM915.76 215.81h8v8h-8zM939.76 327.81h8v8h-8z"/>
<path fill="#606060" d="M891.76 255.81h8v8h-8zM923.76 303.81h8v8h-8z"/>
<path fill="#616161" d="M963.76 135.81h8v8h-8zM947.76 143.81h8v8h-8zM1003.76 191.81h8v8h-8zM899.76 279.81h8v8h-8zM995.76 311.81h8v8h-8z"/>
<path fill="#626262" d="M939.76 159.81h8v8h-8zM995.76 175.81h8v8h-8zM915.76 295.81h8v8h-8z"/>
<path fill="#636363" d="M979.76 151.81h8v8h-8zM1019.76 231.81h8v8h-8zM891.76 263.81h8v8h-8zM979.76 327.81h8v8h-8z"/>
<path fill="#656565" d="M1011.76 215.81h8v8h-8zM907.76 239.81h8v8h-8zM899.76 247.81h8v8h-8zM1027.76 271.81h8v8h-8zM907.76 287.81h8v8h-8zM931.76 311.81h8v8h-8zM987.76 319.81h8v8h-8z"/>
<path fill="#666666" d="M931.76 175.81h8v8h-8zM915.76 223.81h8v8h-8z"/>
<path fill="#676767" d="M971.76 143.81h8v8h-8zM1027.76 247.81h8v8h-8z"/>
<path fill="#686868" d="M987.76 167.81h8v8h-8zM923.76 191.81h8v8h-8z"/>
<path fill="#696969" d="M947.76 151.81h8v8h-8zM899.76 271.81h8v8h-8zM1019.76 279.81h8v8h-8zM947.76 327.81h8v8h-8z"/>
<path fill="#6a6a6a" d="M939.76 319.81h8v8h-8z"/>
<path fill="#6b6b6b" d="M955.76 143.81h8v8h-8zM939.76 167.81h8v8h-8zM1011.76 287.81h8v8h-8zM1003.76 295.81h8v8h-8z"/>
<path fill="#6c6c6c" d="M1027.76 263.81h8v8h-8zM923.76 295.81h8v8h-8zM995.76 303.81h8v8h-8z"/>
<path fill="#6d6d6d" d="M979.76 159.81h8v8h-8zM1003.76 199.81h8v8h-8zM915.76 231.81h8v8h-8zM1027.76 255.81h8v8h-8zM971.76 327.81h8v8h-8z"/>
<path fill="#6e6e6e" d="M963.76 143.81h8v8h-8zM1011.76 223.81h8v8h-8zM1019.76 239.81h8v8h-8zM899.76 255.81h8v8h-8zM931.76 303.81h8v8h-8z"/>
<path fill="#6f6f6f" d="M899.76 263.81h8v8h-8zM907.76 279.81h8v8h-8zM955.76 327.81h8v8h-8z"/>
<path fill="#707070" d="M947.76 159.81h8v8h-8zM995.76 183.81h8v8h-8zM987.76 311.81h8v8h-8z"/>
<path fill="#717171" d="M971.76 151.81h8v8h-8zM923.76 199.81h8v8h-8zM907.76 247.81h8v8h-8zM915.76 287.81h8v8h-8zM963.76 327.81h8v8h-8z"/>
<path fill="#727272" d="M979.76 319.81h8v8h-8z"/>
<path fill="#737373" d="M955.76 151.81h8v8h-8zM931.76 183.81h8v8h-8zM1019.76 271.81h8v8h-8z"/>
<path fill="#747474" d="M939.76 311.81h8v8h-8z"/>
<path fill="#757575" d="M939.76 175.81h8v8h-8zM947.76 319.81h8v8h-8z"/>
<path fill="#767676" d="M963.76 151.81h8v8h-8zM1003.76 207.81h8v8h-8zM915.76 239.81h8v8h-8z"/>
<path fill="#777777" d="M923.76 207.81h8v8h-8zM1019.76 247.81h8v8h-8z"/>
<path fill="#787878" d="M947.76 167.81h8v8h-8zM1011.76 231.81h8v8h-8zM907.76 271.81h8v8h-8z"/>
<path fill="#797979" d="M987.76 175.81h8v8h-8zM931.76 295.81h8v8h-8z"/>
<path fill="#7a7a7a" d="M955.76 159.81h8v8h-8zM971.76 159.81h8v8h-8zM1019.76 263.81h8v8h-8zM1011.76 279.81h8v8h-8z"/>
<path fill="#7b7b7b" d="M979.76 167.81h8v8h-8zM907.76 255.81h8v8h-8zM1019.76 255.81h8v8h-8zM923.76 287.81h8v8h-8z"/>
<path fill="#7c7c7c" d="M923.76 215.81h8v8h-8z"/>
<path fill="#7d7d7d" d="M963.76 159.81h8v8h-8zM995.76 191.81h8v8h-8zM907.76 263.81h8v8h-8zM915.76 279.81h8v8h-8zM1003.76 287.81h8v8h-8zM995.76 295.81h8v8h-8zM987.76 303.81h8v8h-8zM955.76 319.81h8v8h-8zM971.76 319.81h8v8h-8z"/>
<path fill="#7e7e7e" d="M1003.76 215.81h8v8h-8zM939.76 303.81h8v8h-8zM979.76 311.81h8v8h-8z"/>
<path fill="#7f7f7f" d="M931.76 191.81h8v8h-8zM915.76 247.81h8v8h-8z"/>
<path fill="#808080" d="M963.76 319.81h8v8h-8z"/>
<path fill="#818181" d="M955.76 167.81h8v8h-8zM923.76 223.81h8v8h-8zM947.76 311.81h8v8h-8z"/>
<path fill="#828282" d="M947.76 175.81h8v8h-8zM939.76 183.81h8v8h-8z"/>
<path fill="#848484" d="M1011.76 239.81h8v8h-8zM1011.76 271.81h8v8h-8z"/>
<path fill="#868686" d="M971.76 167.81h8v8h-8zM1003.76 223.81h8v8h-8z"/>
<path fill="#878787" d="M963.76 167.81h8v8h-8zM923.76 231.81h8v8h-8z"/>
<path fill="#888888" d="M915.76 271.81h8v8h-8zM931.76 287.81h8v8h-8z"/>
<path fill="#898989" d="M995.76 199.81h8v8h-8zM939.76 295.81h8v8h-8z"/>
<path fill="#8a8a8a" d="M931.76 199.81h8v8h-8zM915.76 255.81h8v8h-8zM1011.76 263.81h8v8h-8zM955.76 311.81h8v8h-8zM971.76 311.81h8v8h-8z"/>
<path fill="#8b8b8b" d="M987.76 183.81h8v8h-8zM1011.76 247.81h8v8h-8zM923.76 279.81h8v8h-8z"/>
<path fill="#8c8c8c" d="M1011.76 255.81h8v8h-8z"/>
<path fill="#8d8d8d" d="M955.76 175.81h8v8h-8zM979.76 175.81h8v8h-8zM923.76 239.81h8v8h-8zM947.76 303.81h8v8h-8zM979.76 303.81h8v8h-8z"/>
<path fill="#8e8e8e" d="M915.76 263.81h8v8h-8zM1003.76 279.81h8v8h-8zM963.76 311.81h8v8h-8z"/>
<path fill="#8f8f8f" d="M987.76 295.81h8v8h-8z"/>
<path fill="#909090" d="M947.76 183.81h8v8h-8zM995.76 287.81h8v8h-8z"/>
<path fill="#919191" d="M939.76 191.81h8v8h-8z"/>
<path fill="#929292" d="M931.76 207.81h8v8h-8zM1003.76 231.81h8v8h-8z"/>
<path fill="#939393" d="M995.76 207.81h8v8h-8z"/>
<path fill="#949494" d="M923.76 247.81h8v8h-8z"/>
<path fill="#969696" d="M963.76 175.81h8v8h-8z"/>
<path fill="#979797" d="M931.76 215.81h8v8h-8zM955.76 303.81h8v8h-8zM971.76 303.81h8v8h-8z"/>
<path fill="#989898" d="M971.76 175.81h8v8h-8zM923.76 271.81h8v8h-8zM939.76 287.81h8v8h-8z"/>
<path fill="#999999" d="M1003.76 271.81h8v8h-8zM931.76 279.81h8v8h-8zM947.76 295.81h8v8h-8z"/>
<path fill="#9a9a9a" d="M963.76 303.81h8v8h-8z"/>
<path fill="#9b9b9b" d="M987.76 191.81h8v8h-8z"/>
<path fill="#9c9c9c" d="M955.76 183.81h8v8h-8zM939.76 199.81h8v8h-8zM995.76 215.81h8v8h-8zM923.76 255.81h8v8h-8z"/>
<path fill="#9d9d9d" d="M931.76 223.81h8v8h-8zM979.76 295.81h8v8h-8z"/>
<path fill="#9e9e9e" d="M947.76 191.81h8v8h-8zM1003.76 239.81h8v8h-8zM923.76 263.81h8v8h-8z"/>
<path fill="#9f9f9f" d="M1003.76 263.81h8v8h-8zM987.76 287.81h8v8h-8z"/>
<path fill="#a1a1a1" d="M979.76 183.81h8v8h-8zM995.76 279.81h8v8h-8z"/>
<path fill="#a3a3a3" d="M1003.76 255.81h8v8h-8zM955.76 295.81h8v8h-8z"/>
<path fill="#a4a4a4" d="M939.76 207.81h8v8h-8zM971.76 295.81h8v8h-8z"/>
<path fill="#a5a5a5" d="M995.76 223.81h8v8h-8zM931.76 231.81h8v8h-8zM1003.76 247.81h8v8h-8z"/>
<path fill="#a6a6a6" d="M963.76 295.81h8v8h-8z"/>
<path fill="#a7a7a7" d="M963.76 183.81h8v8h-8zM987.76 199.81h8v8h-8zM931.76 271.81h8v8h-8zM947.76 287.81h8v8h-8z"/>
<path fill="#a9a9a9" d="M939.76 279.81h8v8h-8zM979.76 287.81h8v8h-8z"/>
<path fill="#aaaaaa" d="M947.76 199.81h8v8h-8zM931.76 239.81h8v8h-8z"/>
<path fill="#ababab" d="M971.76 183.81h8v8h-8zM939.76 215.81h8v8h-8z"/>
<path fill="#acacac" d="M955.76 191.81h8v8h-8zM931.76 247.81h8v8h-8z"/>
<path fill="#adadad" d="M995.76 271.81h8v8h-8z"/>
<path fill="#aeaeae" d="M987.76 279.81h8v8h-8z"/>
<path fill="#afafaf" d="M995.76 231.81h8v8h-8zM931.76 255.81h8v8h-8zM931.76 263.81h8v8h-8z"/>
<path fill="#b1b1b1" d="M987.76 207.81h8v8h-8zM971.76 287.81h8v8h-8z"/>
<path fill="#b2b2b2" d="M979.76 191.81h8v8h-8zM955.76 287.81h8v8h-8z"/>
<path fill="#b4b4b4" d="M963.76 287.81h8v8h-8z"/>
<path fill="#b5b5b5" d="M947.76 207.81h8v8h-8z"/>
<path fill="#b6b6b6" d="M939.76 223.81h8v8h-8zM995.76 263.81h8v8h-8z"/>
<path fill="#b7b7b7" d="M939.76 271.81h8v8h-8z"/>
<path fill="#b8b8b8" d="M963.76 191.81h8v8h-8zM947.76 279.81h8v8h-8zM979.76 279.81h8v8h-8z"/>
<path fill="#bababa" d="M995.76 239.81h8v8h-8z"/>
<path fill="#bbbbbb" d="M955.76 199.81h8v8h-8zM987.76 215.81h8v8h-8z"/>
<path fill="#bcbcbc" d="M971.76 191.81h8v8h-8zM987.76 271.81h8v8h-8z"/>
<path fill="#bdbdbd" d="M995.76 255.81h8v8h-8z"/>
<path fill="#c0c0c0" d="M979.76 199.81h8v8h-8zM995.76 247.81h8v8h-8zM939.76 263.81h8v8h-8z"/>
<path fill="#c1c1c1" d="M947.76 215.81h8v8h-8zM971.76 279.81h8v8h-8z"/>
<path fill="#c2c2c2" d="M939.76 231.81h8v8h-8zM955.76 279.81h8v8h-8z"/>
<path fill="#c4c4c4" d="M939.76 255.81h8v8h-8z"/>
<path fill="#c5c5c5" d="M963.76 279.81h8v8h-8z"/>
<path fill="#c6c6c6" d="M987.76 223.81h8v8h-8zM939.76 247.81h8v8h-8z"/>
<path fill="#c7c7c7" d="M947.76 271.81h8v8h-8z"/>
<path fill="#c8c8c8" d="M939.76 239.81h8v8h-8z"/>
<path fill="#c9c9c9" d="M963.76 199.81h8v8h-8z"/>
<path fill="#cacaca" d="M955.76 207.81h8v8h-8zM987.76 263.81h8v8h-8zM979.76 271.81h8v8h-8z"/>
<path fill="#cccccc" d="M979.76 207.81h8v8h-8z"/>
<path fill="#cdcdcd" d="M971.76 199.81h8v8h-8z"/>
<path fill="#d0d0d0" d="M947.76 223.81h8v8h-8zM987.76 231.81h8v8h-8z"/>
<path fill="#d2d2d2" d="M947.76 263.81h8v8h-8z"/>
<path fill="#d3d3d3" d="M955.76 271.81h8v8h-8z"/>
<path fill="#d5d5d5" d="M971.76 271.81h8v8h-8z"/>
<path fill="#d6d6d6" d="M987.76 255.81h8v8h-8z"/>
<path fill="#d8d8d8" d="M987.76 239.81h8v8h-8z"/>
<path fill="#d9d9d9" d="M979.76 215.81h8v8h-8zM963.76 271.81h8v8h-8z"/>
<path fill="#dadada" d="M955.76 215.81h8v8h-8zM947.76 255.81h8v8h-8z"/>
<path fill="#dbdbdb" d="M963.76 207.81h8v8h-8zM987.76 247.81h8v8h-8z"/>
<path fill="#dcdcdc" d="M979.76 263.81h8v8h-8z"/>
<path fill="#dddddd" d="M971.76 207.81h8v8h-8z"/>
<path fill="#dfdfdf" d="M947.76 231.81h8v8h-8z"/>
<path fill="#e0e0e0" d="M947.76 247.81h8v8h-8z"/>
<path fill="#e2e2e2" d="M955.76 263.81h8v8h-8z"/>
<path fill="#e4e4e4" d="M947.76 239.81h8v8h-8z"/>
<path fill="#e7e7e7" d="M979.76 223.81h8v8h-8z"/>
<path fill="#e9e9e9" d="M971.76 263.81h8v8h-8z"/>
<path fill="#ececec" d="M955.76 223.81h8v8h-8zM979.76 255.81h8v8h-8zM963.76 263.81h8v8h-8z"/>
<path fill="#ededed" d="M963.76 215.81h8v8h-8z"/>
<path fill="#eeeeee" d="M971.76 215.81h8v8h-8z"/>
<path fill="#efefef" d="M955.76 255.81h8v8h-8z"/>
<path fill="#f3f3f3" d="M979.76 231.81h8v8h-8z"/>
<path fill="#f5f5f5" d="M979.76 247.81h8v8h-8z"/>
<path fill="#f8f8f8" d="M979.76 239.81h8v8h-8z"/>
<path fill="#f9f9f9" d="M955.76 247.81h8v8h-8z"/>
<path fill="#fafafa" d="M955.76 231.81h8v8h-8zM971.76 255.81h8v8h-8z"/>
<path fill="#fcfcfc" d="M963.76 255.81h8v8h-8z"/>
<path fill="#fefefe" d="M971.76 223.81h8v8h-8zM955.76 239.81h8v8h-8z"/>
<path fill="#ffffff" d="M963.76 223.81h8v8h-8zM963.76 231.81h16v8h-16zM963.76 239.81h16v8h-16zM963.76 247.81h16v8h-16z"/>
</g>
<path d="M851.4 47.81V580.24M1048.6 47.81V580.24" stroke="#fff" stroke-width="1" stroke-opacity="1" fill="none"/>
<path d="M904.77 580.24V47.81" stroke="#006400" stroke-width="1.5" stroke-dasharray="6 6" stroke-linecap="round" fill="none"/>
<path d="M1025.73 580.24V47.81" stroke="#006400" stroke-width="1.5" stroke-dasharray="6 6" stroke-linecap="round" fill="none"/>
<path d="M699.76 389.67H1232.19" stroke="#cb1212" stroke-width="1.5" stroke-dasharray="6 6" stroke-linecap="round" fill="none"/>
</g>
<rect x="699.76" y="47.81" width="532.43" height="532.43" fill="none" stroke="#000" stroke-width="0.75"/>
<path d="M749.25 580.24H1181.25M749.25 580.24v6.3M857.25 580.24v6.3M965.25 580.24v6.3M1073.25 580.24v6.3M1181.25 580.24v6.3" fill="none" stroke="#000" stroke-width="0.75"/>
<text x="749.25" y="602.4" text-anchor="middle" font-size="10.5">-400</text>
<text x="857.25" y="602.4" text-anchor="middle" font-size="10.5">-200</text>
<text x="965.25" y="602.4" text-anchor="middle" font-size="10.5">0</text>
<text x="1073.25" y="602.4" text-anchor="middle" font-size="10.5">200</text>
<text x="1181.25" y="602.4" text-anchor="middle" font-size="10.5">400</text>
<path d="M699.76 47.81V516.11M699.76 516.11h-6.3M699.76 438.06h-6.3M699.76 360.01h-6.3M699.76 281.96h-6.3M699.76 203.91h-6.3M699.76 125.86h-6.3M699.76 47.81h-6.3" fill="none" stroke="#000" stroke-width="0.75"/>
<text transform="translate(685.3 516.11) rotate(-90)" text-anchor="middle" font-size="10.5">70</text>
<text transform="translate(685.3 438.06) rotate(-90)" text-anchor="middle" font-size="10.5">75</text>
<text transform="translate(685.3 360.01) rotate(-90)" text-anchor="middle" font-size="10.5">80</text>
<text transform="translate(685.3 281.96) rotate(-90)" text-anchor="middle" font-size="10.5">85</text>
<text transform="translate(685.3 203.91) rotate(-90)" text-anchor="middle" font-size="10.5">90</text>
<text transform="translate(685.3 125.86) rotate(-90)" text-anchor="middle" font-size="10.5">95</text>
<text transform="translate(685.3 47.81) rotate(-90)" text-anchor="middle" font-size="10.5">100</text>
</g>
<g id="panel3">
<text x="326.4" y="671.8" text-anchor="middle" font-weight="bold" font-size="21.6">Motif score threshold: 78.100</text>
<text x="325.98" y="1266" text-anchor="middle" font-size="15.9">Motif score</text>
<text transform="translate(21.7 954.02) rotate(-90)" text-anchor="middle" font-size="15.9">Density</text>
<path d="M79.5 1200.6L81 1199.94L82.5 1199.84L84 1199.76L85.5 1199.69L87 1199.63L88.5 1199.58L90 1199.54L91.5 1199.5L93 1199.47L94.5 1199.45L96 1199.43L97.5 1199.41L99 1199.39L100.5 1199.38L102 1199.36L103.5 1199.34L105 1199.32L106.5 1199.29L108 1199.26L109.5 1199.22L111 1199.18L112.5 1199.12L114 1199.07L115.5 1199.02L117 1198.96L118.5 1198.9L120 1198.84L121.5 1198.78L123 1198.72L124.5 1198.66L126 1198.59L127.5 1198.53L129 1198.46L130.5 1198.39L132 1198.33L133.5 1198.26L135 1198.2L136.5 1198.13L138 1198.06L139.5 1197.99L141 1197.92L142.5 1197.85L144 1197.77L145.5 1197.7L147 1197.61L148.5 1197.53L150 1197.44L151.5 1197.34L153 1197.24L154.5 1197.12L156 1197L157.5 1196.86L159 1196.73L160.5 1196.58L162 1196.44L163.5 1196.3L165 1196.16L166.5 1196.02L168 1195.9L169.5 1195.77L171 1195.66L172.5 1195.54L174 1195.43L175.5 1195.31L177 1195.18L178.5 1195.04L180 1194.89L181.5 1194.72L183 1194.54L184.5 1194.34L186 1194.13L187.5 1193.9L189 1193.65L190.5 1193.38L192 1193.07L193.5 1192.74L195 1192.36L196.5 1191.95L198 1191.51L199.5 1191.03L201 1190.49L202.5 1189.86L204 1189.15L205.5 1188.38L207 1187.56L208.5 1186.72L210 1185.87L211.5 1185L213 1184.08L214.5 1183.12L216 1182.14L217.5 1181.14L219 1180.14L220.5 1179.16L222 1178.2L223.5 1177.26L225 1176.31L226.5 1175.35L228 1174.35L229.5 1173.29L231 1172.17L232.5 1170.98L234 1169.72L235.5 1168.39L237 1167.01L238.5 1165.56L240 1164.02L241.5 1162.37L243 1160.65L244.5 1158.9L246 1157.15L247.5 1155.46L249 1153.87L250.5 1152.27L252 1150.57L253.5 1148.66L255 1146.44L256.5 1143.89L258 1140.99L259.5 1137.67L261 1133.6L262.5 1129.22L264 1125.03L265.5 1120.9L267 1116.7L268.5 1112.33L270 1107.7L271.5 1102.83L273 1097.78L274.5 1092.6L276 1087.34L277.5 1081.96L279 1076.46L280.5 1070.83L282 1065.08L283.5 1059.19L285 1053.15L286.5 1046.94L288 1040.65L289.5 1034.17L291 1027.28L292.5 1019.64L294 1011.25L295.5 1002.8L297 994.45L298.5 986.15L300 978.19L301.5 970.63L303 963.24L304.5 955.81L306 948.32L307.5 940.87L309 933.52L310.5 926.36L312 919.51L313.5 913.04L315 906.56L316.5 899.69L318 892.16L319.5 884.51L321 877.37L322.5 870.64L324 863.99L325.5 857.02L327 849.95L328.5 843.87L330 838.98L331.5 834.68L333 830.67L334.5 827L336 823.51L337.5 820L339 816.6L340.5 813.26L342 809.49L343.5 804.71L345 798.7L346.5 792.17L348 785.47L349.5 778.27L351 770.6L352.5 762.41L354 753.65L355.5 744.51L357 735.08L358.5 726.12L360 719.43L361.5 714.27L363 710.94L364.5 708.3L366 707.27L367.5 708.22L369 710.46L370.5 713.59L372 719.6L373.5 726.72L375 734.95L376.5 742.75L378 749.7L379.5 756.27L381 762.62L382.5 768.78L384 774.52L385.5 779.68L387 784.42L388.5 789.05L390 793.78L391.5 798.41L393 803.14L394.5 808.26L396 814.06L397.5 820.24L399 826.31L400.5 832.31L402 838.31L403.5 844.35L405 850.43L406.5 856.32L408 861.88L409.5 867.24L411 872.55L412.5 877.89L414 883.09L415.5 888.44L417 894.26L418.5 900.57L420 907.49L421.5 915.39L423 924.62L424.5 933.7L426 942.76L427.5 951.54L429 959.54L430.5 966.72L432 973.39L433.5 979.77L435 985.83L436.5 991.63L438 997.39L439.5 1003.29L441 1009.2L442.5 1015.18L444 1021.32L445.5 1027.76L447 1034.39L448.5 1040.9L450 1047.23L451.5 1053.46L453 1059.37L454.5 1065.05L456 1070.42L457.5 1074.91L459 1078.76L460.5 1081.96L462 1084.2L463.5 1085.74L465 1087.13L466.5 1088.93L468 1091.4L469.5 1094.4L471 1097.9L472.5 1102.18L474 1107.05L475.5 1112.45L477 1118.58L478.5 1124.78L480 1130.87L481.5 1136.94L483 1142.67L484.5 1148.18L486 1153.32L487.5 1157.84L489 1161.97L490.5 1165.74L492 1169.12L493.5 1172.24L495 1175.14L496.5 1177.73L498 1179.94L499.5 1181.95L501 1183.8L502.5 1185.43L504 1186.76L505.5 1187.75L507 1188.55L508.5 1189.24L510 1189.82L511.5 1190.3L513 1190.7L514.5 1191.03L516 1191.31L517.5 1191.57L519 1191.82L520.5 1192.1L522 1192.44L523.5 1192.85L525 1193.33L526.5 1193.86L528 1194.41L529.5 1194.97L531 1195.5L532.5 1195.99L534 1196.46L535.5 1196.94L537 1197.41L538.5 1197.85L540 1198.25L541.5 1198.59L543 1198.86L544.5 1199.1L546 1199.33L547.5 1199.53L549 1199.7L550.5 1199.85L552 1199.96L553.5 1200.04L555 1200.12L556.5 1200.19L558 1200.26L559.5 1200.32L561 1200.38L562.5 1200.43L564 1200.47L565.5 1200.51L567 1200.55L568.5 1200.57L570 1200.59L571.5 1200.6Z" fill="#f5deb3" stroke="#000" stroke-width="1.1" stroke-linejoin="round"/>
<g clip-path="url(#c3)">
<path d="M263.54 1220.24V687.81" stroke="#cb1212" stroke-width="1.5" stroke-dasharray="6 6" stroke-linecap="round" fill="none"/>
</g>
<rect x="59.76" y="687.81" width="532.43" height="532.43" fill="none" stroke="#000" stroke-width="0.75"/>
<path d="M159.25 1220.24H545.5M159.25 1220.24v6.3M288 1220.24v6.3M416.75 1220.24v6.3M545.5 1220.24v6.3" fill="none" stroke="#000" stroke-width="0.75"/>
<text x="159.25" y="1242.4" text-anchor="middle" font-size="10.5">70</text>
<text x="288" y="1242.4" text-anchor="middle" font-size="10.5">80</text>
<text x="416.75" y="1242.4" text-anchor="middle" font-size="10.5">90</text>
<text x="545.5" y="1242.4" text-anchor="middle" font-size="10.5">100</text>
<path d="M59.76 704.35V1200.6M59.76 1200.6h-6.3M59.76 1101.35h-6.3M59.76 1002.1h-6.3M59.76 902.85h-6.3M59.76 803.6h-6.3M59.76 704.35h-6.3" fill="none" stroke="#000" stroke-width="0.75"/>
<text transform="translate(45.3 1200.6) rotate(-90)" text-anchor="middle" font-size="10.5">0.00</text>
<text transform="translate(45.3 1101.35) rotate(-90)" text-anchor="middle" font-size="10.5">0.02</text>
<text transform="translate(45.3 1002.1) rotate(-90)" text-anchor="middle" font-size="10.5">0.04</text>
<text transform="translate(45.3 902.85) rotate(-90)" text-anchor="middle" font-size="10.5">0.06</text>
<text transform="translate(45.3 803.6) rotate(-90)" text-anchor="middle" font-size="10.5">0.08</text>
<text transform="translate(45.3 704.35) rotate(-90)" text-anchor="middle" font-size="10.5">0.10</text>
</g>
<g id="panel4">
<text x="966.2" y="671.8" text-anchor="middle" font-weight="bold" font-size="21.65">Enrichment zone: 112.00</text>
<text x="965.98" y="1266" text-anchor="middle" font-size="15.9">Distance to peak summit</text>
<text transform="translate(661.7 954.02) rotate(-90)" text-anchor="middle" font-size="15.9">Density</text>
<path d="M719.4 1200.3L720.9 1200.22L722.4 1200L723.9 1199.68L725.4 1199.28L726.9 1198.82L728.4 1198.11L729.9 1197.14L731.4 1195.93L732.9 1194.51L734.4 1192.53L735.9 1190.01L737.4 1187.15L738.9 1183.83L740.4 1179.87L741.9 1175.67L743.4 1171.55L744.9 1167.26L746.4 1162.98L747.9 1158.95L749.4 1155.06L750.9 1151.34L752.4 1148L753.9 1145.11L755.4 1142.4L756.9 1140.16L758.4 1138.6L759.9 1137.34L761.4 1136.35L762.9 1135.82L764.4 1135.63L765.9 1135.49L767.4 1135.41L768.9 1135.49L770.4 1135.93L771.9 1136.55L773.4 1137.13L774.9 1137.71L776.4 1138.33L777.9 1138.93L779.4 1139.45L780.9 1139.83L782.4 1140.19L783.9 1140.51L785.4 1140.76L786.9 1140.88L788.4 1140.88L789.9 1140.84L791.4 1140.79L792.9 1140.74L794.4 1140.7L795.9 1140.69L797.4 1140.71L798.9 1140.76L800.4 1140.83L801.9 1140.92L803.4 1141.16L804.9 1141.57L806.4 1142.06L807.9 1142.58L809.4 1143.05L810.9 1143.46L812.4 1143.9L813.9 1144.33L815.4 1144.72L816.9 1145.03L818.4 1145.22L819.9 1145.39L821.4 1145.54L822.9 1145.66L824.4 1145.74L825.9 1145.77L827.4 1145.72L828.9 1145.59L830.4 1145.39L831.9 1145.15L833.4 1144.88L834.9 1144.56L836.4 1144.07L837.9 1143.46L839.4 1142.77L840.9 1142.07L842.4 1141.41L843.9 1140.79L845.4 1140.18L846.9 1139.55L848.4 1138.91L849.9 1138.23L851.4 1137.51L852.9 1136.74L854.4 1135.89L855.9 1134.98L857.4 1134.02L858.9 1133.02L860.4 1131.99L861.9 1130.95L863.4 1129.9L864.9 1128.84L866.4 1127.76L867.9 1126.64L869.4 1125.49L870.9 1124.29L872.4 1123.03L873.9 1121.72L875.4 1120.36L876.9 1118.93L878.4 1117.45L879.9 1115.89L881.4 1114.26L882.9 1112.55L884.4 1110.75L885.9 1108.85L887.4 1106.83L888.9 1104.67L890.4 1102.35L891.9 1099.85L893.4 1097.07L894.9 1094.07L896.4 1090.89L897.9 1087.59L899.4 1084.18L900.9 1080.58L902.4 1076.76L903.9 1072.71L905.4 1068.36L906.9 1063.67L908.4 1058.66L909.9 1053.3L911.4 1047.5L912.9 1041.21L914.4 1034.32L915.9 1026.76L917.4 1018.92L918.9 1010.9L920.4 1002.59L921.9 994.01L923.4 985.05L924.9 975.93L926.4 967.03L927.9 958.14L929.4 948.1L930.9 936.91L932.4 925.95L933.9 915.51L935.4 904.92L936.9 894.03L938.4 882.78L939.9 871L941.4 859.15L942.9 847.36L944.4 835.55L945.9 823.68L947.4 812.29L948.9 801.36L950.4 790.36L951.9 779.25L953.4 768.67L954.9 758.63L956.4 749.06L957.9 739.86L959.4 731.71L960.9 724.44L962.4 718.56L963.9 713.66L965.4 710.51L966.9 708.24L968.4 707.27L969.9 708.19L971.4 710.3L972.9 713.22L974.4 718.01L975.9 723.77L977.4 730.93L978.9 738.68L980.4 747.24L981.9 761.25L983.4 779.07L984.9 791.01L986.4 802.51L987.9 814.51L989.4 826.51L990.9 838.51L992.4 850.51L993.9 862.51L995.4 874.5L996.9 886.21L998.4 898.66L999.9 913.2L1001.4 926.94L1002.9 939.55L1004.4 951.25L1005.9 961.63L1007.4 970.63L1008.9 979.22L1010.4 987.76L1011.9 995.86L1013.4 1003.24L1014.9 1010.04L1016.4 1016.5L1017.9 1022.81L1019.4 1028.92L1020.9 1034.75L1022.4 1040.23L1023.9 1045.44L1025.4 1050.43L1026.9 1055.22L1028.4 1059.85L1029.9 1064.31L1031.4 1068.62L1032.9 1072.81L1034.4 1076.92L1035.9 1080.99L1037.4 1085.03L1038.9 1088.98L1040.4 1092.76L1041.9 1096.29L1043.4 1099.58L1044.9 1102.7L1046.4 1105.62L1047.9 1108.34L1049.4 1110.92L1050.9 1113.37L1052.4 1115.48L1053.9 1117.11L1055.4 1118.55L1056.9 1119.71L1058.4 1120.45L1059.9 1120.91L1061.4 1121.26L1062.9 1121.55L1064.4 1121.82L1065.9 1122.04L1067.4 1122.22L1068.9 1122.4L1070.4 1122.62L1071.9 1122.93L1073.4 1123.41L1074.9 1124.04L1076.4 1124.76L1077.9 1125.54L1079.4 1126.35L1080.9 1127.32L1082.4 1128.38L1083.9 1129.43L1085.4 1130.4L1086.9 1131.29L1088.4 1132.2L1089.9 1133.04L1091.4 1133.75L1092.9 1134.23L1094.4 1134.59L1095.9 1134.91L1097.4 1135.13L1098.9 1135.2L1100.4 1135.18L1101.9 1135.14L1103.4 1135.08L1104.9 1135.03L1106.4 1135L1107.9 1135.05L1109.4 1135.3L1110.9 1135.69L1112.4 1136.15L1113.9 1136.58L1115.4 1137.01L1116.9 1137.51L1118.4 1138.02L1119.9 1138.5L1121.4 1138.9L1122.9 1139.19L1124.4 1139.44L1125.9 1139.67L1127.4 1139.86L1128.9 1140L1130.4 1140.08L1131.9 1140.12L1133.4 1140.16L1134.9 1140.18L1136.4 1140.2L1137.9 1140.22L1139.4 1140.25L1140.9 1140.3L1142.4 1140.38L1143.9 1140.5L1145.4 1140.65L1146.9 1140.79L1148.4 1140.93L1149.9 1141.05L1151.4 1141.13L1152.9 1141.2L1154.4 1141.25L1155.9 1141.3L1157.4 1141.35L1158.9 1141.4L1160.4 1141.48L1161.9 1141.57L1163.4 1141.68L1164.9 1141.83L1166.4 1142.03L1167.9 1142.41L1169.4 1143.2L1170.9 1144.29L1172.4 1145.56L1173.9 1147.32L1175.4 1149.55L1176.9 1152.04L1178.4 1154.89L1179.9 1158.24L1181.4 1161.78L1182.9 1165.29L1184.4 1168.92L1185.9 1172.58L1187.4 1176.11L1188.9 1179.6L1190.4 1182.99L1191.9 1186.1L1193.4 1188.91L1194.9 1191.59L1196.4 1193.85L1197.9 1195.44L1199.4 1196.74L1200.9 1197.82L1202.4 1198.63L1203.9 1199.1L1205.4 1199.46L1206.9 1199.77L1208.4 1200.02L1209.9 1200.2L1211.4 1200.29Z" fill="#f5deb3" stroke="#000" stroke-width="1.1" stroke-linejoin="round"/>
<g clip-path="url(#c4)">
<path d="M915.83 1220.24V687.81" stroke="#006400" stroke-width="1.5" stroke-dasharray="6 6" stroke-linecap="round" fill="none"/>
<path d="M1015.07 1220.24V687.81" stroke="#006400" stroke-width="1.5" stroke-dasharray="6 6" stroke-linecap="round" fill="none"/>
</g>
<rect x="699.76" y="687.81" width="532.43" height="532.43" fill="none" stroke="#000" stroke-width="0.75"/>
<path d="M788.25 1220.24H1231.25M788.25 1220.24v6.3M876.85 1220.24v6.3M965.45 1220.24v6.3M1054.05 1220.24v6.3M1142.65 1220.24v6.3M1231.25 1220.24v6.3" fill="none" stroke="#000" stroke-width="0.75"/>
<text x="788.25" y="1242.4" text-anchor="middle" font-size="10.5">-400</text>
<text x="876.85" y="1242.4" text-anchor="middle" font-size="10.5">-200</text>
<text x="965.45" y="1242.4" text-anchor="middle" font-size="10.5">0</text>
<text x="1054.05" y="1242.4" text-anchor="middle" font-size="10.5">200</text>
<text x="1142.65" y="1242.4" text-anchor="middle" font-size="10.5">400</text>
<text x="1231.25" y="1242.4" text-anchor="middle" font-size="10.5">600</text>
<path d="M699.76 720.8V1200.3M699.76 1200.3h-6.3M699.76 1131.8h-6.3M699.76 1063.3h-6.3M699.76 994.8h-6.3M699.76 926.3h-6.3M699.76 857.8h-6.3M699.76 789.3h-6.3M699.76 720.8h-6.3" fill="none" stroke="#000" stroke-width="0.75"/>
<text transform="translate(685.3 1200.3) rotate(-90)" text-anchor="middle" font-size="10.5">0.0000</text>
<text transform="translate(685.3 1131.8) rotate(-90)" text-anchor="middle" font-size="10.5">0.0005</text>
<text transform="translate(685.3 1063.3) rotate(-90)" text-anchor="middle" font-size="10.5">0.0010</text>
<text transform="translate(685.3 994.8) rotate(-90)" text-anchor="middle" font-size="10.5">0.0015</text>
<text transform="translate(685.3 926.3) rotate(-90)" text-anchor="middle" font-size="10.5">0.0020</text>
<text transform="translate(685.3 857.8) rotate(-90)" text-anchor="middle" font-size="10.5">0.0025</text>
<text transform="translate(685.3 789.3) rotate(-90)" text-anchor="middle" font-size="10.5">0.0030</text>
<text transform="translate(685.3 720.8) rotate(-90)" text-anchor="middle" font-size="10.5">0.0035</text>
<path d="M1017.6 703.4H1041" stroke="#006400" stroke-width="1.4" stroke-dasharray="1.9 3" fill="none"/>
<path d="M1017.6 719.1H1041" stroke="#f04a4a" stroke-width="1.4" stroke-dasharray="1.9 3" fill="none"/>
<ellipse cx="1028.8" cy="734.6" rx="3" ry="2.5" fill="#0000ff"/>
<text x="1052.2" y="707.7" font-size="12.9">enrichment zone = 112</text>
<text x="1052.2" y="723.5" font-size="12.9">motif score threshold = 78.100</text>
<text x="1052.2" y="739.2" font-size="12.9">centrality p-val = -22.3606</text>
</g>
</svg></body></html>
